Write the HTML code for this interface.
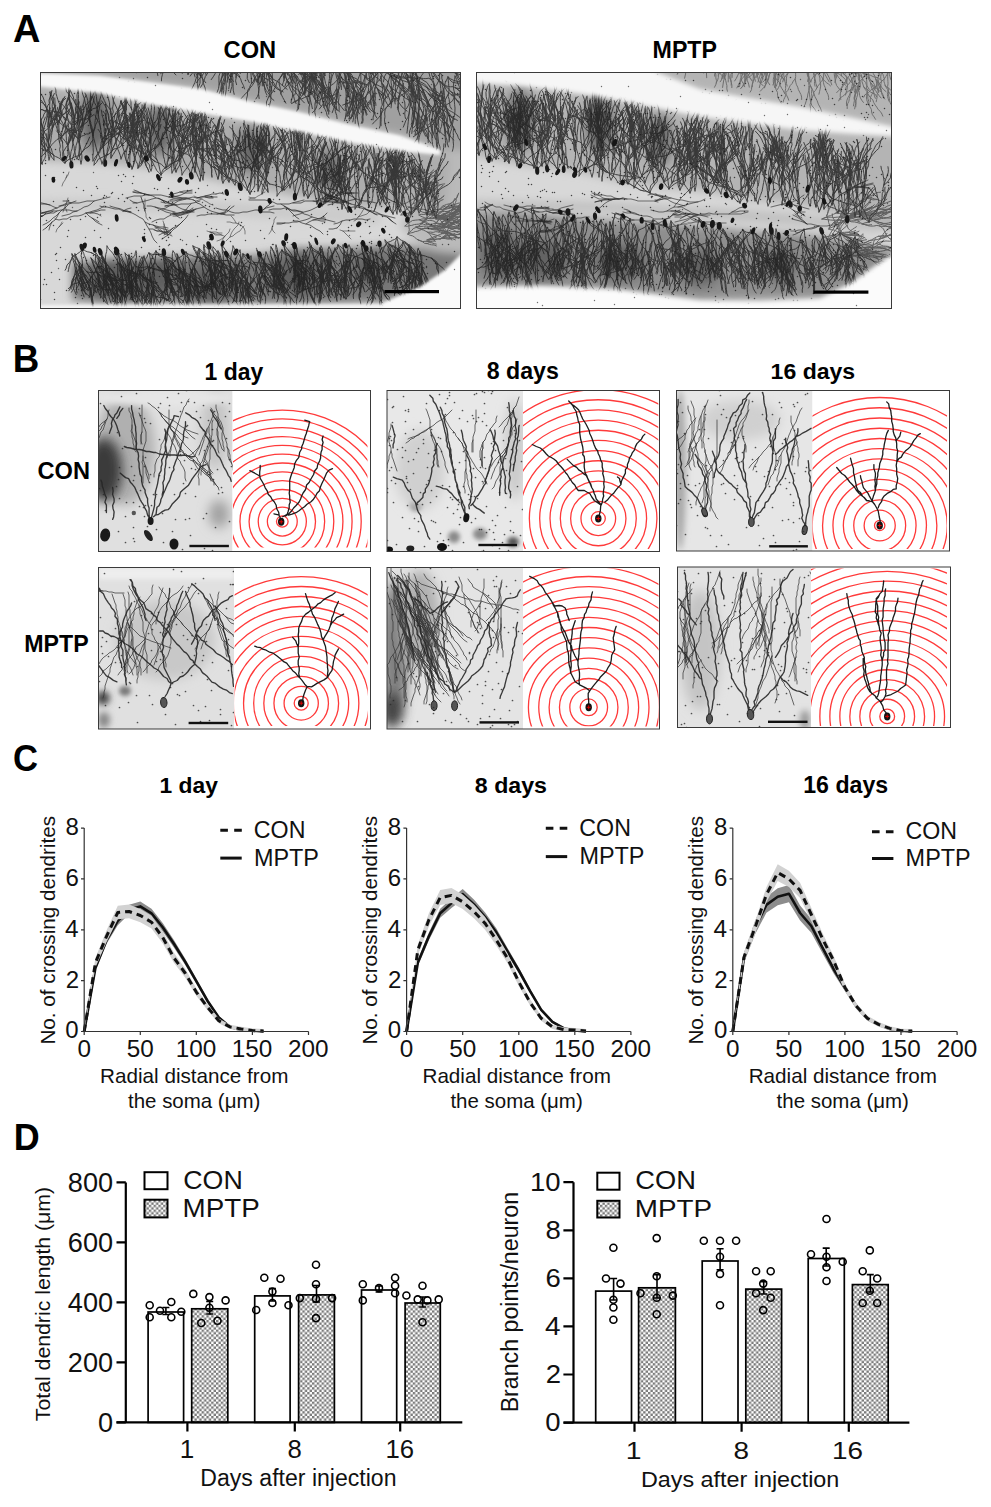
<!DOCTYPE html><html><head><meta charset="utf-8"><style>html,body{margin:0;padding:0;background:#fff;overflow:hidden}svg{display:block}</style></head><body><svg width="991" height="1507" viewBox="0 0 991 1507" font-family='"Liberation Sans", sans-serif'>
<rect width="991" height="1507" fill="#fff"/>
<defs><pattern id="chk" width="4.8" height="4.8" patternUnits="userSpaceOnUse"><rect width="4.8" height="4.8" fill="#fff"/><rect width="2.4" height="2.4" fill="#7a7a7a"/><rect x="2.4" y="2.4" width="2.4" height="2.4" fill="#7a7a7a"/></pattern></defs>
<text transform="translate(13.05,42.40) scale(0.9797,1)" font-size="38.70" font-weight="bold" fill="#000">A</text>
<text transform="translate(12.71,371.80) scale(0.9598,1)" font-size="38.26" font-weight="bold" fill="#000">B</text>
<text transform="translate(13.11,770.50) scale(0.9331,1)" font-size="37.14" font-weight="bold" fill="#000">C</text>
<text transform="translate(13.66,1150.00) scale(0.9537,1)" font-size="37.68" font-weight="bold" fill="#000">D</text>
<text transform="translate(223.55,57.80) scale(0.9812,1)" font-size="24.14" font-weight="bold" fill="#000">CON</text>
<text transform="translate(652.59,57.70) scale(0.9532,1)" font-size="24.35" font-weight="bold" fill="#000">MPTP</text>
<defs><filter id="bl4" x="-100%" y="-100%" width="300%" height="300%"><feGaussianBlur stdDeviation="4"/></filter></defs>
<defs><filter id="bl2" x="-100%" y="-100%" width="300%" height="300%"><feGaussianBlur stdDeviation="2"/></filter></defs>
<defs><filter id="bl6" x="-100%" y="-100%" width="300%" height="300%"><feGaussianBlur stdDeviation="6"/></filter></defs>
<defs><filter id="bl05" x="-100%" y="-100%" width="300%" height="300%"><feGaussianBlur stdDeviation="0.45"/></filter></defs>
<defs><filter id="bl15" x="-100%" y="-100%" width="300%" height="300%"><feGaussianBlur stdDeviation="1.5"/></filter></defs>
<defs><path id="nr0" vector-effect="non-scaling-stroke" d="M0 0l-2 -5l-2 -5l-2 -5l-2 -6l-1 -5l-2 -5l-2 -5M-13 -36l-4 -3l-4 -1l-4 -2l-4 0l-3 -2l-4 -3M-13 -36l-2 -5l-1 -6l-3 -4l-2 -6l-2 -4l-3 -5M0 0l1 -6l1 -5l0 -6l1 -6l1 -5M4 -28l-2 -5l-1 -6l-3 -5l-1 -5l-1 -6l0 -5M4 -28l1 -6l0 -6l0 -6l0 -6l0 -5M4 -28l3 -5l3 -4l3 -4l3 -4l3 -4M0 0l1 -6l-1 -6l-1 -5l-2 -5l-1 -6l-1 -5M-5 -33l-2 -5l-3 -5l-1 -5l-2 -5l-3 -5l-2 -5M-18 -63l-4 -2l-3 -2l-4 -4l-2 -4l-2 -5l-1 -6M-18 -63l-2 -5l0 -6l0 -6l-2 -5l-2 -5l-1 -5l-3 -5M-5 -33l-2 -6l0 -5l-1 -6l0 -6l0 -6M-8 -62l0 -6l1 -6l0 -5l2 -6l2 -5l1 -5M-8 -62l1 -6l1 -5l1 -6l1 -6l0 -5l1 -6M-5 -33l0 -6l-1 -6l-1 -6l-1 -5l-1 -6l0 -6M-9 -68l1 -5l2 -6l1 -5l1 -6l2 -5M-9 -68l1 -5l1 -6l1 -6l1 -5"/><path id="nr1" vector-effect="non-scaling-stroke" d="M0 0l-2 -4l-2 -3l-2 -3l-2 -4l0 -4l-1 -5M-9 -23l-2 -3l-2 -4l-1 -3l-2 -4l0 -4M-16 -41l-1 -4l-2 -4l-1 -4l-2 -3M-16 -41l1 -4l2 -4l0 -4l1 -4M-9 -23l0 -4l-1 -4l-1 -4l0 -4l1 -4l-1 -4l-1 -4M-12 -51l-3 -3l-1 -4l-1 -4l-2 -4l0 -4l-1 -4l-1 -4M-12 -51l0 -4l1 -4l0 -4l1 -4l2 -4l2 -3M-9 -23l0 -4l2 -4l1 -4l1 -4l-1 -4l1 -4l1 -4M-4 -51l2 -4l2 -3l0 -4l-1 -4l0 -4l1 -4l1 -4M-4 -51l3 -3l3 -2l3 -3l3 -2l4 -2l2 -4M0 0l0 -4l1 -4l0 -4l1 -4l1 -4M3 -20l1 -4l0 -4l0 -4l1 -4l1 -5l2 -3M3 -20l3 -3l3 -2l4 -2l3 -3l3 -3M0 0l2 -4l1 -4l0 -4l1 -4l0 -4l-1 -4l-1 -4M2 -28l-2 -4l-2 -3l-2 -3l-3 -3l-4 -3l-2 -2l-4 -3l-3 -2M-20 -51l-3 -3l-4 -2l-3 -2l-3 -3l-3 -2l-4 -2l-2 -4M-20 -51l-3 -3l-1 -4l-2 -4l-2 -3l-2 -4l-1 -4l0 -4M2 -28l-1 -4l0 -4l0 -4l0 -4l0 -4l-1 -5l1 -4l0 -4M1 -61l0 -4l0 -4l1 -4l0 -4l1 -4l2 -4l0 -4l1 -4l2 -3l2 -4M1 -61l2 -4l2 -3l3 -3l1 -4l2 -4l2 -3l2 -4l3 -3l2 -4l1 -3"/><path id="nr2" vector-effect="non-scaling-stroke" d="M0 0l-1 -5l-1 -5l0 -6l0 -5l0 -5l1 -5M-1 -31l0 -6l1 -5l2 -5l0 -5l0 -5l-2 -5l-3 -4M-3 -66l-3 -4l-2 -4l-3 -4l-3 -4l-3 -3l-1 -5l-1 -5l-2 -5M-3 -66l-3 -3l-2 -5l-1 -5l-2 -4l-2 -5l-3 -4l-3 -3l-3 -3M-3 -66l0 -5l0 -6l0 -5l0 -5l1 -5l1 -6M-1 -31l1 -5l2 -5l1 -5l1 -5l1 -5l2 -6M7 -62l-1 -5l-1 -5l-1 -5l-2 -5l-1 -5l-2 -4l-3 -4M7 -62l1 -4l2 -5l2 -5l2 -5l2 -4l3 -3M7 -62l4 -1l3 -2l4 -1l4 -3l3 -3M0 0l1 -5l0 -5l-1 -6l-1 -5l-1 -5M-2 -26l-1 -5l0 -6l0 -5l-1 -5M-4 -47l0 -5l0 -6l0 -5l1 -5l1 -5M-4 -47l0 -5l1 -6l1 -5l1 -5M-2 -26l0 -5l0 -6l0 -5l0 -5M-2 -47l-1 -6l0 -5l1 -5l-1 -5l0 -6M-2 -47l-1 -6l-1 -5l-2 -5l0 -5M-2 -47l1 -6l1 -5l-1 -5l1 -5"/><path id="nr3" vector-effect="non-scaling-stroke" d="M0 0l-2 -5l-2 -4l-3 -4l-2 -4l-2 -5l-1 -5M-12 -27l-2 -5l-1 -5l-2 -5l-3 -4l-2 -5l-1 -5M-23 -56l-3 -3l-3 -4l-2 -4l-1 -5l-2 -5l-1 -5M-23 -56l0 -5l1 -5l2 -5l2 -5l1 -5l1 -5l1 -5M-12 -27l-1 -5l-1 -5l-1 -6l-1 -5l1 -5l0 -6l1 -5M-14 -64l1 -5l0 -5l1 -5l1 -5l2 -5l0 -6l0 -5M-14 -64l2 -4l3 -4l2 -5l2 -5l1 -4l3 -5l2 -4M0 0l1 -5l2 -5l2 -5l1 -5l1 -5l1 -5l1 -5M9 -35l-1 -5l-2 -5l0 -6l-1 -5l-1 -5l-1 -5l-2 -5l-1 -5M9 -35l0 -5l1 -6l2 -5l1 -5l1 -5l-1 -5M9 -35l1 -5l1 -5l0 -6l1 -5l-2 -5l1 -5l-1 -5l0 -6l-2 -5"/><path id="nr4" vector-effect="non-scaling-stroke" d="M0 0l-1 -5l1 -4l0 -5l2 -4l0 -5M2 -23l0 -4l1 -5l1 -5l0 -4l1 -5M5 -46l0 -4l0 -5l0 -5l-1 -4l0 -5M5 -46l0 -4l1 -5l1 -4l1 -5l2 -4M5 -46l2 -3l3 -3l3 -4l4 -2l3 -3M2 -23l2 -4l2 -4l2 -4l2 -4M10 -39l2 -4l3 -4l3 -3l2 -4M10 -39l2 -4l3 -4l2 -4l2 -3l3 -4M0 0l2 -4l1 -5l3 -3l3 -3l3 -2l3 -4l2 -4M17 -25l0 -5l1 -4l0 -5l0 -5l2 -4l-1 -5l0 -4l1 -5M20 -62l1 -5l1 -4l3 -4l2 -4l1 -4l1 -5l1 -4l1 -5M20 -62l2 -4l3 -3l2 -4l1 -5l1 -4l1 -5l1 -4l1 -5l2 -4M17 -25l2 -4l4 -2l3 -3l2 -4l2 -4l2 -4l2 -4M34 -50l0 -5l1 -4l1 -5l0 -5l1 -4l1 -5l2 -4l1 -4M34 -50l3 -4l3 -3l3 -2l3 -3l4 -3l3 -2l2 -4"/><path id="nr5" vector-effect="non-scaling-stroke" d="M0 0l-2 -4l-1 -4l-1 -4l-1 -4l-2 -4M-7 -20l-2 -4l-1 -4l-2 -4l-2 -4l-2 -4M-16 -40l-2 -3l-3 -3l-2 -4l-3 -3M-16 -40l-2 -3l-2 -4l-1 -4l-1 -5M-7 -20l-1 -5l0 -4l0 -4l-1 -5l-1 -4M-10 -42l-1 -4l-1 -4l-1 -4l0 -5l1 -4l1 -4M-10 -42l-1 -4l-1 -4l0 -4l-1 -5M0 0l-2 -4l-2 -3l-3 -3l-2 -4l-3 -4l-1 -4M-13 -22l-2 -3l-2 -4l-1 -4l-1 -4l0 -5M-13 -22l0 -4l-1 -4l0 -5l-1 -4l0 -4l0 -5M0 0l0 -4l1 -5l1 -4l1 -4l1 -4l0 -5l0 -4M4 -30l-2 -4l-3 -3l-3 -2l-4 -2l-3 -3l-4 -1l-3 -2l-3 -2M-21 -49l-4 -3l-3 -3l-2 -3l-1 -4l0 -5l-1 -4l0 -4l1 -5l1 -4l1 -4M-21 -49l-3 -3l-4 -3l-3 -2l-3 -3l-2 -4l-3 -3l-3 -3l-3 -2l-3 -3M4 -30l1 -4l2 -4l2 -4l2 -4l3 -1l4 -3M18 -50l2 -3l2 -4l1 -4l0 -5l0 -4l-1 -4M18 -50l3 -3l2 -3l3 -4l2 -3l1 -4M4 -30l2 -4l2 -4l1 -4l-1 -4l0 -4l0 -5l0 -4l1 -4M9 -63l-1 -5l-1 -4l-2 -4l-1 -4l-2 -4l-2 -4l-1 -4l0 -4M9 -63l3 -3l2 -4l3 -3l2 -4l2 -4l3 -3l0 -4l2 -4l2 -4l1 -4M0 0l2 -4l3 -3l2 -4l0 -4l1 -5M8 -20l-2 -4l-1 -4l-1 -4l-1 -4M8 -20l0 -4l0 -4l0 -4l0 -5"/><path id="nr6" vector-effect="non-scaling-stroke" d="M0 0l-2 -5l-3 -4l-1 -5l-1 -6l0 -5M-7 -25l-2 -5l-2 -5l-2 -5l-2 -5l-2 -4l0 -6M-17 -55l-1 -5l-2 -5l-2 -5l-1 -5l-2 -5M-17 -55l0 -5l0 -6l-2 -5l-2 -4l-3 -5M-7 -25l0 -6l0 -5l0 -6l-1 -5l1 -6M-7 -53l1 -5l1 -5l1 -5l2 -5l2 -5M-7 -53l1 -5l1 -5l1 -5l2 -5l1 -6M0 0l1 -5l0 -6l1 -5l0 -6l1 -5l1 -6M4 -33l1 -5l1 -5l1 -6l1 -5l1 -6l0 -5M4 -33l0 -5l1 -6l0 -5l0 -6l0 -5l-1 -6M0 0l1 -5l1 -6l-1 -5l-1 -6l0 -5l-2 -5M-2 -32l-2 -5l-2 -5l-3 -4l-2 -4l-2 -5M-13 -55l-2 -5l-2 -5l-2 -4l-2 -5l-4 -3M-13 -55l0 -6l0 -5l-1 -6l-2 -5l-1 -5l-1 -5M-2 -32l0 -6l-1 -5l-2 -5l-2 -5l-2 -4l-1 -6M-10 -63l-2 -4l-3 -5l-2 -4l-2 -5l-4 -2M-10 -63l-1 -5l-1 -5l-2 -5l-1 -6l0 -5M-10 -63l0 -5l-2 -5l-1 -6l1 -5l1 -6l1 -5l1 -5"/><path id="nr7" vector-effect="non-scaling-stroke" d="M0 0l-3 -4l-1 -5l-1 -5l-2 -5l-3 -5l-1 -5M-11 -29l-3 -4l-3 -4l-2 -4l-1 -5l0 -6l0 -5M-11 -29l0 -5l0 -6l-1 -5l-1 -5l0 -6l-1 -5l0 -6M0 0l0 -5l0 -6l1 -5l0 -6l1 -5l0 -6M2 -33l0 -5l-1 -6l1 -5l0 -5l1 -6l1 -5M2 -33l1 -5l1 -5l0 -6l1 -5l1 -6l0 -5l0 -5M0 0l-1 -5l-2 -5l-2 -5l-2 -4l-3 -4l-3 -4l-2 -5M-15 -32l-3 -3l-2 -5l-1 -5l0 -6l-1 -5l0 -6M-22 -62l0 -5l-2 -5l-1 -5l-3 -5l-3 -4l-1 -5l-2 -5M-22 -62l1 -5l0 -6l0 -5l1 -6l0 -5l1 -6l0 -5M-15 -32l-2 -5l-2 -5l-2 -4l0 -6l-2 -5l-1 -5M-24 -62l-2 -5l-3 -4l-2 -4l-3 -4l-3 -4l-3 -3M-24 -62l-2 -5l-1 -5l-1 -5l-1 -6l0 -5l2 -5l1 -5M0 0l2 -5l3 -3l3 -4l3 -4l2 -4M13 -20l2 -5l1 -6l0 -5l0 -5l0 -6l0 -5M16 -52l-2 -5l-1 -6l-1 -5l0 -5l2 -6l2 -4M16 -52l1 -6l1 -5l2 -5l2 -5l2 -4M16 -52l2 -5l3 -3l3 -5l2 -4l0 -6M13 -20l3 -4l2 -4l3 -4l3 -4l4 -3l3 -3M31 -42l2 -5l1 -5l2 -5l2 -4l3 -4l1 -5M31 -42l2 -4l4 -3l3 -2l4 -1l4 -1M31 -42l3 -4l2 -4l3 -3l4 -3l3 -4l2 -4"/><path id="nr8" vector-effect="non-scaling-stroke" d="M0 0l-3 -3l-3 -2l-4 -1l-4 -2l-4 -1l-4 -1M-22 -10l-2 -3l-3 -3l-3 -3l-4 -2l-3 -3l-2 -4l-3 -3M-22 -10l-2 -3l-3 -4l-2 -3l-2 -4l-2 -3l-2 -4l-2 -4M0 0l-2 -4l-1 -4l-2 -4l0 -4l0 -4l-1 -5l-1 -4M-7 -29l-3 -3l-1 -4l-1 -4l-2 -4l-1 -4l-1 -4M-16 -52l-3 -4l-2 -3l-2 -3l-2 -4l-3 -3l-3 -3M-16 -52l-1 -4l0 -5l-1 -4l0 -4l-1 -4l0 -5M-7 -29l-2 -3l-2 -4l-2 -4l-3 -3l-3 -2l-4 -2l-2 -3M-25 -50l-4 -3l-3 -2l-3 -2l-2 -4l-2 -4l-1 -4M-25 -50l-2 -4l-1 -4l0 -5l-1 -4l-1 -4l-1 -4l0 -4M-25 -50l-2 -4l-2 -4l-3 -3l-1 -4l-2 -4l-3 -3l-3 -3M-7 -29l-1 -4l-2 -4l-1 -4l0 -4l0 -4l-2 -4l-2 -4M-15 -57l-4 -2l-3 -1l-4 -1l-4 0l-4 0l-4 -2l-4 -2l-3 -2M-15 -57l-1 -4l-1 -4l-2 -4l-2 -4l0 -4l0 -4l1 -5l0 -4M0 0l0 -4l1 -5l0 -4l1 -4l0 -4l0 -5l0 -4M2 -30l1 -4l0 -4l1 -4l2 -4l0 -5l0 -4l-1 -4l-1 -4M4 -63l-1 -4l-2 -4l-1 -4l-3 -4l-2 -3l-2 -4l-2 -4l-2 -4M4 -63l0 -5l-1 -4l-1 -4l-1 -4l0 -4l-2 -4l-1 -4M2 -30l2 -4l2 -4l1 -4l1 -4l1 -4l1 -4l1 -4l1 -4M12 -62l-2 -4l-1 -4l-3 -3l-2 -4l-1 -4l-1 -4l-2 -4l-3 -3l-2 -3M12 -62l1 -4l1 -5l0 -4l0 -4l0 -5l-1 -4l-1 -4l0 -4l-2 -4M12 -62l3 -3l3 -3l2 -4l1 -4l1 -4l2 -4l3 -3l3 -2M0 0l3 -2l3 -4l3 -2l4 -2l3 -2M16 -12l3 -3l3 -3l4 -2l2 -4M28 -24l0 -4l2 -4l3 -3l2 -3M28 -24l3 -3l2 -3l2 -4l3 -3M16 -12l3 -3l3 -3l1 -4l2 -4M25 -26l-1 -5l0 -4l0 -4l0 -4M25 -26l2 -4l1 -4l1 -4"/><path id="nr9" vector-effect="non-scaling-stroke" d="M0 0l0 -5l1 -6l-1 -5l-1 -5l-1 -5l0 -5M-2 -31l-1 -5l0 -6l0 -5l2 -5l1 -5M0 -57l1 -5l1 -5l1 -5l-1 -6l-1 -5M0 -57l4 -3l2 -4l2 -5l2 -5l2 -4M-2 -31l0 -6l0 -5l1 -5l-1 -6l-1 -5l-1 -5M-4 -63l-3 -4l-2 -4l-2 -4l-1 -6l0 -5M-4 -63l1 -5l-1 -5l1 -6l-1 -5l0 -5l0 -6l0 -5M-4 -63l-1 -5l-1 -5l0 -6l1 -5l-1 -5l0 -5l0 -6M-2 -31l3 -4l2 -4l3 -4l2 -4l2 -5l1 -5l3 -4M14 -61l2 -5l2 -5l2 -4l1 -5l1 -5l2 -5M14 -61l3 -3l4 -3l2 -5l2 -4l3 -4l2 -5M0 0l0 -5l1 -6l0 -5l1 -5l1 -5l0 -5M3 -31l-3 -5l-1 -5l-1 -5l0 -6l0 -5l0 -5M-2 -62l-2 -5l-1 -5l-2 -5l-1 -5l-1 -5l0 -5l0 -6M-2 -62l1 -5l0 -6l0 -5l-1 -5l0 -6l1 -5M-2 -62l0 -6l1 -5l1 -5l1 -5l0 -5l1 -5M3 -31l-1 -6l-1 -5l-2 -5l-1 -5l-2 -4l-4 -3l-2 -4M-10 -63l-4 -2l-4 -1l-4 -2l-3 -3l-2 -4l-3 -4l-2 -4M-10 -63l-3 -4l-2 -4l-1 -6l-1 -5l-1 -5l-2 -5"/><path id="nr10" vector-effect="non-scaling-stroke" d="M0 0l-2 -5l-3 -5l-2 -5l-1 -6l0 -6l-2 -5M-10 -32l-4 -4l-3 -2l-4 -1l-4 -1l-4 -1l-4 -2l-4 -3M-37 -46l-3 -3l-4 -2l-3 -3l-4 -3l-2 -5l-3 -4l-2 -5l-1 -6M-37 -46l-2 -4l-4 -3l-4 -2l-3 -3l-4 -1l-4 -2l-4 -2M-10 -32l-2 -6l-1 -5l-1 -6l-2 -6l-2 -5l-3 -4M-21 -64l-3 -4l-3 -4l-3 -3l-4 -4l-2 -5M-21 -64l-2 -5l-3 -5l-2 -5l-3 -4l-3 -5l-2 -5l-2 -5M0 0l1 -6l0 -6l1 -6l1 -6l1 -6l1 -6M5 -36l-1 -6l-1 -5l-2 -6l-1 -6l1 -6M1 -65l-1 -6l0 -6l1 -6l-1 -6l0 -6M1 -65l1 -5l1 -6l2 -6l1 -5l2 -6l2 -5M1 -65l2 -5l2 -5l3 -4l2 -5l4 -3M5 -36l2 -5l2 -5l2 -6l1 -6l0 -6M12 -64l-1 -6l-1 -5l-1 -6l0 -6M12 -64l1 -6l0 -6l1 -6l0 -6l1 -6l0 -6M12 -64l2 -5l2 -6l1 -5l2 -5l3 -5"/><path id="nr11" vector-effect="non-scaling-stroke" d="M0 0l-1 -5l-1 -5l-1 -5l0 -5l-1 -5l-1 -5M-5 -30l-1 -5l-1 -5l0 -5l-1 -5l-1 -5l1 -5l2 -4M-6 -64l2 -5l0 -5l1 -5l3 -4l1 -5l1 -5M-6 -64l2 -5l1 -5l1 -5l1 -5l2 -4l2 -4l3 -4l3 -4M-5 -30l1 -5l0 -5l0 -5l0 -5l1 -5M-3 -55l1 -5l1 -5l1 -5l1 -5l0 -5M-3 -55l2 -5l1 -5l0 -5l1 -5l2 -4l3 -4M0 0l0 -5l1 -5l1 -5l1 -5l1 -5M4 -25l-2 -5l-1 -5l-1 -5l1 -5l0 -5l0 -5M4 -25l0 -5l1 -5l1 -5l2 -4l2 -5l3 -4M4 -25l0 -5l2 -5l2 -4l1 -5M0 0l1 -5l1 -5l1 -5l0 -5l1 -5l-1 -5M3 -30l-2 -4l-3 -4l-3 -3l-4 -2l-3 -3l-3 -3M-15 -49l-3 -3l-3 -4l-2 -5l-2 -4l-2 -4l-3 -4l-3 -3M-15 -49l-2 -5l-2 -4l-2 -5l-1 -5l0 -5l1 -5l1 -5l1 -5M3 -30l-1 -5l0 -5l0 -5l1 -5l0 -5l1 -5M4 -60l-1 -5l-1 -5l0 -5l-1 -6l1 -4M4 -60l1 -5l0 -5l2 -5l1 -5l1 -5M3 -30l1 -5l2 -5l1 -5l1 -4l1 -5M9 -54l1 -5l1 -5l1 -5l1 -5l1 -5l1 -5M9 -54l1 -5l2 -5l3 -4l2 -4l2 -4"/><path id="nr12" vector-effect="non-scaling-stroke" d="M0 0l-2 -4l-1 -4l-1 -4l-1 -4l1 -5l1 -4l1 -4M-2 -29l0 -4l1 -4l1 -4l1 -4l2 -4l1 -4l0 -5M4 -58l0 -4l0 -4l1 -4l1 -4l0 -5l1 -4l0 -4M4 -58l1 -4l2 -4l2 -3l1 -4l0 -5l-1 -4l-2 -4l-1 -4l-2 -4M4 -58l3 -3l2 -4l2 -3l2 -4l3 -3l2 -4M-2 -29l3 -3l2 -3l3 -4l3 -2l3 -3l3 -2l2 -4l2 -4l2 -4M21 -58l1 -4l-1 -4l0 -4l-2 -4l-2 -4l-2 -4l-2 -3M21 -58l2 -3l2 -4l1 -4l1 -5l1 -4l2 -4l1 -4l1 -4l0 -4M-2 -29l3 -3l3 -3l3 -2l3 -3l3 -3l3 -3l3 -3l3 -3M22 -52l2 -4l1 -4l0 -4l1 -4l0 -4l0 -5l0 -4l0 -4M22 -52l3 -2l3 -3l3 -3l3 -3l3 -3l3 -2l4 -2l4 0M0 0l2 -4l0 -4l1 -4l0 -5l1 -4l1 -4l0 -4M5 -29l-1 -4l0 -5l0 -4l1 -4l2 -4l2 -3l4 -3l2 -3l3 -3M18 -62l1 -5l0 -4l0 -4l2 -4l1 -4l1 -4l1 -4l0 -5l1 -4M18 -62l3 -3l4 -1l4 -1l4 -1l4 -1l4 1l3 -2l4 -1l4 -1M5 -29l3 -4l2 -3l1 -4l1 -4l1 -5l0 -4M13 -53l-1 -4l-2 -4l-2 -3l-1 -4l-3 -4l0 -4M13 -53l2 -4l2 -4l1 -4l1 -4l1 -4l-1 -4"/><path id="nr13" vector-effect="non-scaling-stroke" d="M0 0l-2 -3l-3 -3l-4 -3l-3 -2l-2 -4l-3 -3l-2 -3M-19 -21l-2 -4l-3 -3l-2 -4l-3 -2l-3 -3l-3 -3M-35 -40l-3 -3l-2 -3l-2 -4l-1 -4l-2 -4l-2 -4l-3 -3M-35 -40l-3 -3l-2 -3l-3 -4l-2 -3l-3 -3l-3 -3l-3 -3M-19 -21l-2 -4l-1 -4l-1 -5l-2 -3l0 -4l-2 -4M-27 -45l-4 -2l-3 -3l-3 -3l-1 -4l-2 -4l-1 -4M-27 -45l-2 -4l-2 -4l-2 -3l-2 -4l-1 -4l0 -4M-27 -45l-1 -4l0 -5l0 -4l0 -4l1 -4l0 -4M0 0l-1 -4l-2 -4l-3 -2l-4 -2l-3 -3M-13 -15l-4 -2l-3 -2l-3 -3l-2 -4M-25 -26l-2 -3l-2 -4l-2 -4l-2 -4M-25 -26l-1 -4l-1 -4l0 -4l-1 -4M-13 -15l-2 -3l-2 -4l0 -5l1 -4M-16 -31l0 -4l1 -4l0 -4l1 -4M-16 -31l3 -3l2 -3l2 -4l2 -3M0 0l1 -4l1 -4l1 -4l1 -4l2 -4M6 -20l2 -4l0 -4l1 -4l1 -5l-1 -4M6 -20l3 -3l3 -3l3 -3l3 -2M0 0l3 -3l3 -3l2 -4l2 -3l2 -4l2 -4l1 -3M15 -24l1 -5l0 -4l-1 -4l0 -4l0 -4l0 -5l1 -4l0 -4l-1 -4M15 -62l-1 -4l0 -5l-1 -4l0 -4l-1 -4l0 -4l0 -5l1 -4l1 -4M15 -62l0 -4l2 -4l1 -4l2 -4l1 -4l1 -4l2 -4l2 -3M15 -24l2 -4l1 -4l2 -4l1 -4l1 -4l1 -5l0 -4M23 -53l-1 -4l0 -4l0 -4l2 -4l0 -5l1 -4M23 -53l1 -4l2 -4l1 -4l1 -4l1 -4l1 -4l1 -4l2 -4M23 -53l2 -4l0 -4l1 -4l1 -4l1 -4l0 -4l1 -5l0 -4M15 -24l4 -2l4 -2l3 -1l4 -2l4 -2l3 -2l4 -2l3 -2M44 -39l2 -4l2 -4l3 -3l3 -2l2 -4l3 -3l2 -3l2 -4l1 -4M44 -39l2 -4l3 -3l1 -4l0 -4l-1 -5l1 -4l1 -4M44 -39l3 -3l3 -3l2 -4l0 -4l0 -4l-1 -4l0 -4l-1 -5l-1 -4"/></defs>
<defs><clipPath id="clA1"><rect x="40.5" y="72.5" width="420.0" height="236.0"/></clipPath></defs>
<g clip-path="url(#clA1)">
<rect x="40.5" y="72.5" width="420.0" height="236.0" fill="#d8d8d8"/>
<g filter="url(#bl4)">
<polygon points="30.0,60.0 475.0,60.0 475.0,160.0 440.0,150.0 400.0,135.7 350.0,125.0 300.0,112.4 250.0,101.7 200.0,89.0 150.0,82.6 100.0,76.0 30.0,73.0" fill="#a0a0a0" />
<polygon points="415.0,150.0 470.0,150.0 470.0,262.0 430.0,256.0 400.0,226.0 415.0,200.0" fill="#bababa" />
<polygon points="30.0,85.0 100.0,93.0 150.0,104.0 200.0,112.4 250.0,121.0 300.0,131.5 350.0,142.0 400.0,150.6 440.0,155.0 450.0,158.0 445.0,214.0 400.0,209.0 340.0,205.0 300.0,197.0 250.0,188.0 200.0,177.0 150.0,168.0 100.0,163.0 30.0,160.0" fill="#adadad" />
<polygon points="30.0,200.0 150.0,198.0 300.0,206.0 380.0,212.0 380.0,224.0 300.0,220.0 150.0,212.0 30.0,210.0" fill="#cacaca" />
<polygon points="72.0,262.0 150.0,260.0 200.0,255.0 250.0,256.0 300.0,248.0 350.0,248.0 400.0,244.0 440.0,252.0 470.0,255.0 470.0,268.0 420.0,290.0 383.0,302.0 300.0,304.0 200.0,304.0 100.0,302.0 72.0,300.0" fill="#787878" />
</g>
<g fill="#5a5a5a" filter="url(#bl6)" opacity="0.85"><ellipse cx="95" cy="120" rx="14" ry="30"/><ellipse cx="160" cy="130" rx="12" ry="25"/><ellipse cx="250" cy="150" rx="12" ry="22"/><ellipse cx="330" cy="170" rx="10" ry="20"/><ellipse cx="120" cy="280" rx="35" ry="20"/><ellipse cx="210" cy="285" rx="25" ry="18"/><ellipse cx="300" cy="275" rx="22" ry="20"/><ellipse cx="370" cy="270" rx="14" ry="14"/><ellipse cx="160" cy="275" rx="20" ry="16"/></g>
<g filter="url(#bl05)">
<g fill="none" stroke="#1e1e1e" stroke-width="0.95" opacity="0.8" stroke-linecap="round" stroke-linejoin="round"><use href="#nr7" transform="translate(36 163) rotate(8) scale(0.72 0.72)"/><use href="#nr5" transform="translate(42 164) rotate(-9) scale(0.70 0.70)"/><use href="#nr2" transform="translate(49 160) rotate(3) scale(0.71 0.71)"/><use href="#nr4" transform="translate(54 160) rotate(-13) scale(-0.83 0.83)"/><use href="#nr4" transform="translate(62 160) rotate(-13) scale(0.77 0.77)"/><use href="#nr8" transform="translate(65 163) rotate(-3) scale(-0.70 0.70)"/><use href="#nr0" transform="translate(71 163) rotate(-3) scale(-0.67 0.67)"/><use href="#nr12" transform="translate(77 159) rotate(-3) scale(-0.73 0.73)"/><use href="#nr2" transform="translate(81 164) rotate(0) scale(0.85 0.85)"/><use href="#nr10" transform="translate(93 161) rotate(7) scale(-0.74 0.74)"/><use href="#nr4" transform="translate(94 165) rotate(18) scale(0.74 0.74)"/><use href="#nr3" transform="translate(102 164) rotate(-3) scale(-0.82 0.82)"/><use href="#nr11" transform="translate(105 162) rotate(2) scale(-0.61 0.61)"/><use href="#nr0" transform="translate(111 158) rotate(10) scale(-0.74 0.74)"/><use href="#nr3" transform="translate(121 159) rotate(-0) scale(-0.77 0.77)"/><use href="#nr0" transform="translate(127 163) rotate(-7) scale(-0.65 0.65)"/><use href="#nr6" transform="translate(132 169) rotate(10) scale(0.63 0.63)"/><use href="#nr7" transform="translate(138 168) rotate(16) scale(-0.72 0.72)"/><use href="#nr3" transform="translate(142 163) rotate(-3) scale(-0.60 0.60)"/><use href="#nr9" transform="translate(149 172) rotate(-20) scale(-0.60 0.60)"/><use href="#nr4" transform="translate(151 171) rotate(5) scale(-0.65 0.65)"/><use href="#nr13" transform="translate(161 175) rotate(2) scale(-0.74 0.74)"/><use href="#nr8" transform="translate(166 168) rotate(-6) scale(-0.67 0.67)"/><use href="#nr10" transform="translate(172 173) rotate(4) scale(-0.74 0.74)"/><use href="#nr1" transform="translate(176 172) rotate(-3) scale(-0.68 0.68)"/><use href="#nr3" transform="translate(182 175) rotate(17) scale(0.66 0.66)"/><use href="#nr3" transform="translate(191 174) rotate(-11) scale(-0.77 0.77)"/><use href="#nr11" transform="translate(195 172) rotate(-3) scale(0.69 0.69)"/><use href="#nr0" transform="translate(200 181) rotate(-2) scale(0.70 0.70)"/><use href="#nr2" transform="translate(203 180) rotate(-4) scale(-0.61 0.61)"/><use href="#nr9" transform="translate(212 177) rotate(-7) scale(0.65 0.65)"/><use href="#nr0" transform="translate(218 179) rotate(4) scale(0.66 0.66)"/><use href="#nr1" transform="translate(223 183) rotate(4) scale(-0.60 0.60)"/><use href="#nr1" transform="translate(229 182) rotate(-10) scale(-0.63 0.63)"/><use href="#nr12" transform="translate(235 185) rotate(-11) scale(-0.60 0.60)"/><use href="#nr13" transform="translate(240 185) rotate(-15) scale(0.60 0.60)"/><use href="#nr9" transform="translate(247 190) rotate(18) scale(0.75 0.75)"/><use href="#nr5" transform="translate(250 194) rotate(-4) scale(0.77 0.77)"/><use href="#nr11" transform="translate(258 191) rotate(9) scale(-0.75 0.75)"/><use href="#nr2" transform="translate(262 194) rotate(11) scale(-0.66 0.66)"/><use href="#nr0" transform="translate(268 192) rotate(-15) scale(0.73 0.73)"/><use href="#nr3" transform="translate(277 196) rotate(14) scale(-0.70 0.70)"/><use href="#nr4" transform="translate(282 191) rotate(1) scale(0.65 0.65)"/><use href="#nr8" transform="translate(284 190) rotate(-2) scale(0.66 0.66)"/><use href="#nr10" transform="translate(290 188) rotate(8) scale(0.70 0.70)"/><use href="#nr0" transform="translate(296 198) rotate(-3) scale(-0.77 0.77)"/><use href="#nr10" transform="translate(304 196) rotate(-3) scale(-0.75 0.75)"/><use href="#nr5" transform="translate(308 198) rotate(4) scale(-0.74 0.74)"/><use href="#nr0" transform="translate(317 204) rotate(10) scale(0.65 0.65)"/><use href="#nr3" transform="translate(322 206) rotate(1) scale(-0.74 0.74)"/><use href="#nr5" transform="translate(325 202) rotate(10) scale(-0.68 0.68)"/><use href="#nr5" transform="translate(331 199) rotate(-3) scale(-0.74 0.74)"/><use href="#nr13" transform="translate(337 202) rotate(-13) scale(0.75 0.75)"/><use href="#nr11" transform="translate(342 209) rotate(4) scale(0.64 0.64)"/><use href="#nr0" transform="translate(348 212) rotate(-6) scale(0.60 0.60)"/><use href="#nr10" transform="translate(355 209) rotate(11) scale(-0.63 0.63)"/><use href="#nr7" transform="translate(359 206) rotate(2) scale(-0.64 0.64)"/><use href="#nr6" transform="translate(369 207) rotate(-1) scale(-0.60 0.60)"/><use href="#nr9" transform="translate(374 211) rotate(24) scale(-0.64 0.64)"/><use href="#nr10" transform="translate(380 205) rotate(10) scale(0.69 0.69)"/><use href="#nr12" transform="translate(386 204) rotate(-3) scale(0.60 0.60)"/><use href="#nr5" transform="translate(393 214) rotate(-5) scale(0.65 0.65)"/><use href="#nr2" transform="translate(397 214) rotate(-6) scale(-0.64 0.64)"/><use href="#nr0" transform="translate(400 212) rotate(-11) scale(-0.58 0.58)"/><use href="#nr13" transform="translate(407 218) rotate(1) scale(-0.57 0.57)"/><use href="#nr6" transform="translate(411 214) rotate(-8) scale(0.69 0.69)"/><use href="#nr12" transform="translate(419 213) rotate(6) scale(-0.56 0.56)"/><use href="#nr0" transform="translate(427 215) rotate(7) scale(0.64 0.64)"/><use href="#nr1" transform="translate(432 213) rotate(5) scale(0.55 0.55)"/><use href="#nr10" transform="translate(436 218) rotate(-15) scale(-0.71 0.71)"/></g>
<g fill="none" stroke="#1c1c1c" stroke-width="0.95" opacity="0.82" stroke-linecap="round" stroke-linejoin="round"><use href="#nr0" transform="translate(72 254) rotate(160) scale(0.60 0.60)"/><use href="#nr11" transform="translate(75 254) rotate(166) scale(-0.45 0.45)"/><use href="#nr8" transform="translate(82 249) rotate(165) scale(-0.52 0.52)"/><use href="#nr11" transform="translate(91 258) rotate(150) scale(0.58 0.58)"/><use href="#nr12" transform="translate(96 253) rotate(167) scale(-0.47 0.47)"/><use href="#nr2" transform="translate(101 253) rotate(163) scale(0.49 0.49)"/><use href="#nr7" transform="translate(102 256) rotate(171) scale(0.46 0.46)"/><use href="#nr3" transform="translate(107 246) rotate(160) scale(-0.58 0.58)"/><use href="#nr10" transform="translate(117 254) rotate(170) scale(0.56 0.56)"/><use href="#nr11" transform="translate(118 251) rotate(161) scale(0.50 0.50)"/><use href="#nr10" transform="translate(125 253) rotate(158) scale(0.51 0.51)"/><use href="#nr11" transform="translate(129 255) rotate(176) scale(-0.50 0.50)"/><use href="#nr4" transform="translate(136 251) rotate(175) scale(0.45 0.45)"/><use href="#nr12" transform="translate(142 257) rotate(184) scale(-0.57 0.57)"/><use href="#nr3" transform="translate(144 256) rotate(178) scale(-0.61 0.61)"/><use href="#nr8" transform="translate(149 253) rotate(161) scale(0.54 0.54)"/><use href="#nr13" transform="translate(156 251) rotate(171) scale(0.59 0.59)"/><use href="#nr2" transform="translate(163 252) rotate(169) scale(0.61 0.61)"/><use href="#nr2" transform="translate(164 254) rotate(173) scale(-0.49 0.49)"/><use href="#nr12" transform="translate(173 251) rotate(167) scale(-0.61 0.61)"/><use href="#nr11" transform="translate(177 254) rotate(164) scale(0.50 0.50)"/><use href="#nr3" transform="translate(184 253) rotate(159) scale(-0.49 0.49)"/><use href="#nr8" transform="translate(186 252) rotate(179) scale(0.58 0.58)"/><use href="#nr1" transform="translate(193 246) rotate(144) scale(0.49 0.49)"/><use href="#nr7" transform="translate(199 249) rotate(173) scale(-0.61 0.61)"/><use href="#nr1" transform="translate(204 245) rotate(166) scale(0.45 0.45)"/><use href="#nr3" transform="translate(209 247) rotate(164) scale(0.52 0.52)"/><use href="#nr12" transform="translate(213 247) rotate(161) scale(0.56 0.56)"/><use href="#nr1" transform="translate(218 251) rotate(172) scale(-0.59 0.59)"/><use href="#nr0" transform="translate(222 245) rotate(167) scale(0.61 0.61)"/><use href="#nr6" transform="translate(227 256) rotate(159) scale(0.58 0.58)"/><use href="#nr3" transform="translate(233 246) rotate(173) scale(0.59 0.59)"/><use href="#nr10" transform="translate(240 250) rotate(180) scale(-0.62 0.62)"/><use href="#nr13" transform="translate(243 254) rotate(160) scale(-0.48 0.48)"/><use href="#nr4" transform="translate(251 256) rotate(183) scale(0.48 0.48)"/><use href="#nr11" transform="translate(257 250) rotate(158) scale(-0.50 0.50)"/><use href="#nr7" transform="translate(260 256) rotate(163) scale(0.57 0.57)"/><use href="#nr10" transform="translate(266 252) rotate(165) scale(-0.50 0.50)"/><use href="#nr6" transform="translate(271 247) rotate(159) scale(-0.47 0.47)"/><use href="#nr2" transform="translate(276 245) rotate(174) scale(0.45 0.45)"/><use href="#nr13" transform="translate(282 250) rotate(170) scale(0.54 0.54)"/><use href="#nr0" transform="translate(284 245) rotate(162) scale(0.49 0.49)"/><use href="#nr11" transform="translate(294 244) rotate(167) scale(0.49 0.49)"/><use href="#nr2" transform="translate(297 248) rotate(182) scale(-0.46 0.46)"/><use href="#nr0" transform="translate(304 250) rotate(166) scale(-0.60 0.60)"/><use href="#nr2" transform="translate(309 242) rotate(158) scale(-0.61 0.61)"/><use href="#nr13" transform="translate(311 246) rotate(176) scale(0.59 0.59)"/><use href="#nr7" transform="translate(320 248) rotate(173) scale(0.55 0.55)"/><use href="#nr4" transform="translate(321 246) rotate(162) scale(0.52 0.52)"/><use href="#nr12" transform="translate(329 247) rotate(176) scale(0.58 0.58)"/><use href="#nr3" transform="translate(335 248) rotate(173) scale(-0.52 0.52)"/><use href="#nr13" transform="translate(338 245) rotate(168) scale(-0.47 0.47)"/><use href="#nr9" transform="translate(343 245) rotate(174) scale(-0.54 0.54)"/><use href="#nr12" transform="translate(349 245) rotate(181) scale(0.53 0.53)"/><use href="#nr5" transform="translate(352 249) rotate(171) scale(-0.53 0.53)"/><use href="#nr11" transform="translate(361 243) rotate(160) scale(0.48 0.48)"/><use href="#nr8" transform="translate(366 250) rotate(173) scale(-0.59 0.59)"/><use href="#nr11" transform="translate(371 247) rotate(176) scale(-0.50 0.50)"/><use href="#nr2" transform="translate(376 252) rotate(175) scale(0.54 0.54)"/><use href="#nr4" transform="translate(380 245) rotate(177) scale(-0.51 0.51)"/><use href="#nr4" transform="translate(385 240) rotate(159) scale(-0.51 0.51)"/><use href="#nr5" transform="translate(389 244) rotate(157) scale(0.48 0.48)"/><use href="#nr8" transform="translate(397 237) rotate(175) scale(-0.47 0.47)"/><use href="#nr13" transform="translate(403 242) rotate(168) scale(-0.56 0.56)"/><use href="#nr3" transform="translate(409 245) rotate(173) scale(-0.59 0.59)"/><use href="#nr2" transform="translate(410 247) rotate(179) scale(-0.48 0.48)"/><use href="#nr12" transform="translate(418 249) rotate(169) scale(0.48 0.48)"/><use href="#nr10" transform="translate(420 252) rotate(179) scale(-0.47 0.47)"/></g>
<g fill="none" stroke="#222" stroke-width="0.95" opacity="0.8" stroke-linecap="round" stroke-linejoin="round"><use href="#nr7" transform="translate(136 2) rotate(167) scale(0.70 0.70)"/><use href="#nr6" transform="translate(141 6) rotate(148) scale(-0.77 0.77)"/><use href="#nr1" transform="translate(149 6) rotate(165) scale(-0.63 0.63)"/><use href="#nr10" transform="translate(155 9) rotate(169) scale(0.66 0.66)"/><use href="#nr4" transform="translate(160 8) rotate(169) scale(-0.72 0.72)"/><use href="#nr5" transform="translate(167 5) rotate(168) scale(0.73 0.73)"/><use href="#nr6" transform="translate(177 11) rotate(153) scale(-0.77 0.77)"/><use href="#nr5" transform="translate(186 17) rotate(177) scale(-0.59 0.59)"/><use href="#nr6" transform="translate(187 11) rotate(163) scale(-0.65 0.65)"/><use href="#nr12" transform="translate(196 9) rotate(168) scale(-0.62 0.62)"/><use href="#nr7" transform="translate(208 18) rotate(169) scale(-0.81 0.81)"/><use href="#nr4" transform="translate(213 14) rotate(165) scale(-0.79 0.79)"/><use href="#nr1" transform="translate(219 15) rotate(166) scale(0.78 0.78)"/><use href="#nr3" transform="translate(225 19) rotate(183) scale(0.63 0.63)"/><use href="#nr9" transform="translate(230 21) rotate(189) scale(0.78 0.78)"/><use href="#nr7" transform="translate(242 22) rotate(154) scale(0.77 0.77)"/><use href="#nr8" transform="translate(249 25) rotate(156) scale(0.79 0.79)"/><use href="#nr13" transform="translate(257 36) rotate(186) scale(-0.62 0.62)"/><use href="#nr6" transform="translate(263 29) rotate(169) scale(-0.64 0.64)"/><use href="#nr10" transform="translate(268 34) rotate(158) scale(-0.79 0.79)"/><use href="#nr2" transform="translate(277 28) rotate(153) scale(0.77 0.77)"/><use href="#nr12" transform="translate(282 27) rotate(152) scale(-0.61 0.61)"/><use href="#nr5" transform="translate(290 31) rotate(165) scale(-0.78 0.78)"/><use href="#nr0" transform="translate(293 36) rotate(170) scale(0.62 0.62)"/><use href="#nr2" transform="translate(303 35) rotate(168) scale(0.67 0.67)"/><use href="#nr4" transform="translate(311 43) rotate(173) scale(0.66 0.66)"/><use href="#nr12" transform="translate(317 43) rotate(167) scale(0.74 0.74)"/><use href="#nr8" transform="translate(322 41) rotate(169) scale(0.77 0.77)"/><use href="#nr7" transform="translate(331 47) rotate(178) scale(0.64 0.64)"/><use href="#nr10" transform="translate(338 44) rotate(179) scale(0.70 0.70)"/><use href="#nr8" transform="translate(344 47) rotate(173) scale(-0.78 0.78)"/><use href="#nr13" transform="translate(351 53) rotate(144) scale(-0.80 0.80)"/><use href="#nr10" transform="translate(359 53) rotate(142) scale(0.61 0.61)"/><use href="#nr6" transform="translate(366 52) rotate(179) scale(-0.80 0.80)"/><use href="#nr12" transform="translate(375 53) rotate(176) scale(0.69 0.69)"/><use href="#nr1" transform="translate(382 56) rotate(147) scale(0.68 0.68)"/><use href="#nr4" transform="translate(389 58) rotate(169) scale(0.67 0.67)"/><use href="#nr6" transform="translate(397 60) rotate(146) scale(0.72 0.72)"/><use href="#nr5" transform="translate(404 64) rotate(175) scale(-0.76 0.76)"/><use href="#nr11" transform="translate(413 66) rotate(175) scale(0.79 0.79)"/><use href="#nr6" transform="translate(414 69) rotate(165) scale(-0.68 0.68)"/><use href="#nr8" transform="translate(426 66) rotate(153) scale(0.66 0.66)"/><use href="#nr12" transform="translate(432 71) rotate(160) scale(0.77 0.77)"/><use href="#nr4" transform="translate(440 72) rotate(164) scale(0.75 0.75)"/><use href="#nr13" transform="translate(448 77) rotate(161) scale(0.77 0.77)"/><use href="#nr10" transform="translate(455 76) rotate(164) scale(-0.63 0.63)"/><use href="#nr1" transform="translate(456 73) rotate(142) scale(0.66 0.66)"/><use href="#nr4" transform="translate(464 80) rotate(172) scale(-0.66 0.66)"/></g>
<g fill="none" stroke="#383838" stroke-width="1.0" opacity="0.7" stroke-linecap="round" stroke-linejoin="round"><use href="#nr12" transform="translate(401 215) rotate(57) scale(-0.57 0.57)"/><use href="#nr9" transform="translate(408 207) rotate(105) scale(-0.59 0.59)"/><use href="#nr8" transform="translate(408 234) rotate(67) scale(0.58 0.58)"/><use href="#nr11" transform="translate(427 240) rotate(76) scale(0.52 0.52)"/><use href="#nr0" transform="translate(436 219) rotate(80) scale(0.47 0.47)"/><use href="#nr3" transform="translate(399 206) rotate(49) scale(0.50 0.50)"/><use href="#nr12" transform="translate(405 226) rotate(71) scale(0.55 0.55)"/><use href="#nr2" transform="translate(439 232) rotate(42) scale(0.52 0.52)"/><use href="#nr0" transform="translate(416 227) rotate(106) scale(0.46 0.46)"/><use href="#nr12" transform="translate(419 215) rotate(97) scale(-0.51 0.51)"/></g>
<path d="M335 222l-4 -1l-4 -1l-4 -1l-4 0l-3 -1l-4 -1l-4 -2l-4 -1l-3 -2l-4 -1l-4 0l-4 -2l-4 -1l-4 1l-4 0l-4 0l-4 1M312 217l-4 2l-3 1l-4 1l-4 1l-4 0l-4 1l-4 0l-4 0l-4 0M285 223l-4 1l-4 0M152 222l4 -2l4 -1l4 0l3 -2l4 -2l4 -1l4 -1l4 0l3 -2l4 0l4 -1M179 213l3 -1l4 0l4 0l4 0M186 212l4 -2l3 -2M182 212l4 -2l2 -3l3 -3M370 219l-4 1l-4 -1l-4 0l-4 0l-4 1l-4 0l-4 1l-4 2l-4 1M342 221l-2 4l-3 3M337 228l-4 1l-4 0M249 200l4 0l4 0l4 0l4 0l4 1l4 1l4 2l4 0l4 0l4 0l3 -1l4 -1l4 -1l4 -1M281 204l3 2l4 2l3 2l4 0l4 1l4 1M284 206l3 2l3 3l3 3l3 3l3 2M216 208l3 1l4 1l4 0l4 2l4 1l4 0l4 -1l4 0l4 -1l4 -1l4 0l3 2l4 0l4 0l4 1M259 210l4 0l3 -2l4 -1l4 -1M263 210l3 -3l3 -2l3 -3M293 216l3 -1l4 -1l4 -2l4 -1l3 -1l4 -2l4 -2l3 -1l4 -2l3 -2l4 -3l2 -2l3 -3l4 -2l2 -3l3 -3l2 -4M322 205l4 -3l3 -2l3 -2l4 -2l3 -2l4 -2l3 -2l4 -2M336 196l4 -1l3 -1l4 -1l4 1M338 193l4 0l4 0l4 0l4 0M350 193l4 0l4 0M294 221l4 0l4 2l4 1l4 1l3 2l3 2l4 2l3 3M306 224l3 -2l4 -2l4 -1l4 -1l4 0M313 220l4 0l4 1l4 0M321 218l3 -2l3 -3M110 197l-4 1l-4 1l-4 1l-4 1l-3 3l-3 2l-4 1l-3 2l-4 2l-4 1l-3 2l-4 1l-4 1M94 201l-4 0l-3 0l-4 1l-4 1l-4 0l-4 0l-4 -2l-4 0M71 203l-4 0l-4 2l-4 1M147 206l4 0l4 1l4 1l4 1l4 1l4 1l4 1M155 207l4 2l3 1l4 2l4 1l4 1l4 1M174 214l3 2l3 2M100 206l3 1l4 0l4 1l4 1l4 0l4 2l4 0l4 1M123 211l4 -2l4 -1M123 211l4 0l4 1M76 201l-3 1l-4 2l-4 1l-4 1l-4 2l-3 1l-4 2l-4 1l-3 1l-4 1l-4 1l-4 0M57 208l-3 -1l-4 -2l-4 -1l-4 -1l-4 -1l-4 -1l-4 0l-4 0M50 205l-4 -1l-4 0l-4 0l-4 1l-4 0M68 205l-3 3l-3 2l-3 3l-3 3l-3 2l-3 3l-3 2l-4 2M59 213l-2 4l-2 3l-3 2l-3 3l-3 3M49 225l-3 3l-3 2M52 222l-2 4l-1 4M77 211l-4 0l-4 -1l-4 0l-4 0l-4 1l-4 0l-4 0l-4 1l-4 1M53 211l-3 2l-4 1l-4 2l-3 2M42 216l-3 0l-4 -2M42 216l-3 1l-4 0M57 211l-3 2l-4 0l-4 0l-4 0M46 213l-3 3l-4 1M126 198l4 -1l4 -1l4 0l4 0l3 -1l4 0l4 0l4 0l4 0l4 1l4 1l4 0l4 -1l4 -1l4 -2l3 -2l4 -1M169 197l4 -3l4 -1l3 -1l4 -1l4 0l4 0M180 192l4 1l4 0l4 0M188 215l-2 3l-3 3l-3 3l-3 3l-3 2l-3 3l-3 3l-3 2l-3 2M183 221l-3 3l-3 2l-4 2l-3 2l-4 2l-3 1l-4 2M173 228l-3 3l-3 2l-3 2M345 208l4 0l4 -1l4 0l4 1l4 1l3 1l4 1l4 1l4 2l3 1l4 1l4 1l4 1M365 209l3 2l4 1l3 2l4 0l4 2l4 1l3 2l3 3l3 2M387 217l3 3l3 2M169 197l4 1l4 0l4 0l4 0l4 0l4 -1l4 1l4 -1l4 -1l4 0l4 1l4 0M197 198l4 -1l4 0l4 0l4 0M205 197l4 1l4 0M205 196l4 -1l3 -1l4 0M216 194l4 -1l4 1M55 219l4 1l4 -1l4 0l3 -2l4 -1l4 0l4 -1l4 -2l4 -1l3 -1l4 -1l4 -2l3 -2M86 213l3 3l3 2l3 3l3 2l4 2M92 218l4 2l3 2M86 213l4 0l4 -1l4 -1l3 -1l4 0M90 213l4 0l4 1l3 2M197 216l4 -1l4 0l4 -1l4 0l4 0l4 0l4 0M217 214l4 -1l4 -1M225 212l2 -3l3 -3M221 214l4 -1l3 -2M228 211l3 -3l3 -2M110 206l3 1l4 1l4 1l4 2l3 1l4 1l4 2l3 2l4 2l2 3l2 4l2 3l2 4l1 3l2 4l3 3M145 222l4 2l4 1l3 1l4 1l4 0l4 1M153 225l3 2l4 1l4 1l4 1M149 229l4 0l4 2l4 0l4 1l4 0M165 232l3 2l4 2M190 211l-4 -1l-4 -1l-4 -2l-3 -2l-4 -1l-4 -2l-3 -1l-4 -2l-4 -1l-3 -2l-4 -1l-4 -1l-4 -1l-4 0l-4 -1M149 195l-4 -1l-4 -1l-4 -2l-3 -1M141 193l-4 -1l-4 0M156 198l-4 1l-3 1l-4 1l-4 1l-4 1l-4 0M137 203l-4 -1l-3 -2M234 215l-4 0l-4 0l-4 -1l-4 -1l-4 -1l-3 -1l-4 -2l-3 -2l-4 -3l-3 -1l-3 -3l-4 -1l-4 -1l-4 0l-4 -1l-4 -1M190 199l-4 0l-4 0l-4 0l-4 0l-4 1M186 199l-4 1l-4 1l-3 2l-4 2M182 199l-4 1l-4 1l-4 0M204 207l-4 1l-4 1l-3 2l-4 1l-4 1l-4 2l-4 1l-4 0M193 211l-4 2l-4 1l-4 1l-4 -1l-4 -1M196 209l-4 1l-3 2l-4 1l-4 0l-4 0l-4 0M377 215l-4 -2l-3 -2l-4 -2l-3 -2l-4 -1l-4 -1l-4 -1l-4 -2l-3 -1l-4 -1l-4 -2l-4 -1l-4 -1l-3 -1M351 204l-4 -1l-4 -1l-4 -1l-3 -1l-4 -1l-4 -1M336 200l-4 -1l-4 -1l-4 0M339 201l-3 1l-4 2l-4 1M347 202l-3 -1l-4 -2l-4 -1l-3 -2l-4 -1l-4 -1M333 196l-4 0l-4 0M340 199l-3 -3l-3 -3l-3 -1l-3 -3M200 201l-3 1l-4 1l-4 1l-4 0l-4 0l-4 1l-4 0l-4 0l-4 1M177 205l-4 -1l-4 -1l-4 0l-4 -1M169 203l-4 -2l-3 -1M165 203l-3 -3l-4 -2M173 205l-4 1l-4 0M169 206l-3 2l-4 1M376 203l-4 -1l-4 -1l-4 0l-4 -1l-4 -1l-3 -2l-4 -2l-3 -2l-4 -3l-2 -3l-3 -2l-3 -3l-4 -2M356 199l-4 1l-4 1l-4 1l-3 1l-4 0l-4 -1l-4 0l-4 -1l-4 0M341 203l-4 -1l-4 -1l-4 0l-4 0M293 203l4 0l4 0l4 -2l4 0l4 0l4 1l4 0l4 0l4 -1M313 201l4 0l4 -1l4 -1l4 0M317 201l3 -2l4 -2l3 -3" fill="none" stroke="#262626" stroke-width="0.9" opacity="0.75" stroke-linecap="round"/>
<path d="M354 221l2 -1l2 -3l3 -1l3 -1l3 -1l2 -2l2 -2M358 217l2 -2l2 -3l1 -2l2 -2M163 221l1 3l1 3l1 3l1 3l1 3M166 230l2 2l3 2M164 224l0 3l0 3l1 3M265 192l-2 1l-3 2l-2 1l-3 2l-3 0l-3 1M255 198l-3 0l-3 -1M373 178l2 -2l3 -1l3 -1l3 -1M375 176l3 -1l3 -1l3 -1M378 182l-2 -3l-2 -2l-2 -2l-2 -2l-2 -3l0 -3M370 173l-1 -3l-2 -3M41 211l-1 3l-1 3l-2 2l-2 3l-2 2l-2 2M35 222l0 3l0 2l0 3M37 219l-1 3l-1 3l-1 3M230 229l-1 3l-2 2l-2 2l-2 2l-3 2l-3 1M225 236l-2 3l-1 2l-1 3M226 241l2 -2l2 -2l3 -1l2 -2l3 -2l2 -1l2 -3l2 -2M230 237l1 -3l1 -2l2 -3l2 -2l2 -2l1 -3M207 231l3 1l3 0l3 0l3 1l3 0M210 232l3 1l3 1l3 0l3 1M210 232l3 1l2 2l3 0l3 0l3 1M68 198l-1 3l-1 3l-1 3l-1 2l-1 3M65 207l1 2l1 3M280 165l-3 -2l-2 -2l-2 -2l-3 -1M277 163l-2 -2l-1 -2l-1 -3M168 235l-3 -1l-2 -2l-2 -2l-3 -2l-3 -1M163 232l-3 -1l-3 0l-3 -1M165 234l-2 -1l-3 -2l-2 -2l-3 -1M340 230l3 1l2 2l2 2l2 2l2 2M343 231l3 0l3 0l3 0l3 0M165 168l2 -3l0 -3l1 -3l1 -2M168 159l3 -1l3 -1M62 186l1 -3l2 -3l1 -2l1 -3M66 178l2 -3l1 -3M213 205l-3 -1l-3 -2l-2 -1l-3 -2l-3 -1l-3 -1l-2 -1M202 199l-3 1l-3 1l-3 -1M276 217l-2 3l0 2l-1 3l-1 3l-1 3l-2 3M272 228l1 3l2 2M148 220l-2 -3l0 -3l-1 -3l-1 -3l0 -3l-1 -2l-1 -3l-1 -3M145 211l-1 -3l0 -3l-1 -3l-1 -2l-1 -3M145 211l0 -3l0 -3l0 -3l0 -3M56 232l1 -3l2 -2l2 -3l1 -2M59 227l2 -2l2 -2M245 234l0 -3l-1 -3l-2 -2l-3 -2l-3 -1l-3 0l-3 -1l-3 0M236 223l-1 -2l-2 -3l-2 -2" fill="none" stroke="#2a2a2a" stroke-width="0.9" opacity="0.6" stroke-linecap="round"/>
</g>
<path d="M251.5 191.5h0M216.5 229.5h0M118.5 198.5h0M156.5 254.5h0M336.5 256.5h0M257.5 131.5h0M429.5 193.5h0M198.5 141.5h0M209.5 239.5h0M384.5 186.5h0M347.5 122.5h0M230.5 156.5h0M169.5 157.5h0M357.5 245.5h0M127.5 127.5h0M369.5 226.5h0M324.5 222.5h0M331.5 136.5h0M66.5 157.5h0M54.5 299.5h0M260.5 230.5h0M446.5 262.5h0M136.5 152.5h0M86.5 260.5h0M350.5 187.5h0M195.5 136.5h0M245.5 240.5h0M416.5 272.5h0M404.5 176.5h0M217.5 146.5h0M449.5 115.5h0M106.5 138.5h0M427.5 273.5h0M179.5 273.5h0M414.5 173.5h0M121.5 254.5h0M197.5 100.5h0M419.5 176.5h0M207.5 212.5h0M147.5 77.5h0M204.5 162.5h0M45.5 160.5h0M360.5 151.5h0M325.5 219.5h0M119.5 77.5h0M323.5 216.5h0M163.5 119.5h0M399.5 287.5h0M138.5 210.5h0M281.5 148.5h0M55.5 149.5h0M311.5 214.5h0M254.5 101.5h0M129.5 145.5h0M215.5 158.5h0M419.5 99.5h0M454.5 129.5h0M400.5 129.5h0M287.5 161.5h0M56.5 260.5h0M380.5 136.5h0M366.5 185.5h0M455.5 85.5h0M200.5 126.5h0M302.5 256.5h0M394.5 201.5h0M203.5 261.5h0M84.5 133.5h0M356.5 176.5h0M457.5 93.5h0M234.5 122.5h0M41.5 94.5h0M78.5 159.5h0M222.5 192.5h0M162.5 238.5h0M257.5 304.5h0M111.5 193.5h0M247.5 160.5h0M402.5 121.5h0M409.5 156.5h0M181.5 217.5h0M277.5 139.5h0M75.5 297.5h0M195.5 99.5h0M316.5 198.5h0M178.5 150.5h0M395.5 152.5h0M215.5 298.5h0M192.5 167.5h0M108.5 228.5h0M319.5 177.5h0M210.5 127.5h0M372.5 180.5h0M389.5 160.5h0M348.5 79.5h0M132.5 299.5h0M327.5 231.5h0M249.5 183.5h0M123.5 113.5h0M311.5 236.5h0M149.5 224.5h0M97.5 217.5h0M112.5 192.5h0M172.5 202.5h0M96.5 186.5h0M299.5 104.5h0M170.5 232.5h0M269.5 218.5h0M368.5 207.5h0M133.5 176.5h0M389.5 206.5h0M356.5 158.5h0M228.5 301.5h0M385.5 226.5h0M85.5 216.5h0M54.5 292.5h0M448.5 244.5h0M152.5 272.5h0M114.5 267.5h0M259.5 76.5h0M414.5 176.5h0M389.5 234.5h0M264.5 276.5h0M125.5 284.5h0M182.5 78.5h0M181.5 88.5h0M70.5 219.5h0M91.5 110.5h0M163.5 138.5h0M426.5 286.5h0M405.5 306.5h0M225.5 260.5h0M158.5 291.5h0M380.5 245.5h0M136.5 94.5h0M429.5 202.5h0M297.5 275.5h0M100.5 237.5h0M235.5 258.5h0M231.5 118.5h0M442.5 138.5h0M353.5 268.5h0M144.5 236.5h0M206.5 125.5h0M131.5 297.5h0M195.5 192.5h0M251.5 78.5h0M356.5 248.5h0M408.5 156.5h0M128.5 154.5h0M348.5 227.5h0M211.5 196.5h0M105.5 289.5h0M238.5 192.5h0M371.5 119.5h0M343.5 155.5h0M381.5 94.5h0M156.5 222.5h0M243.5 161.5h0M283.5 123.5h0M224.5 72.5h0M375.5 132.5h0M389.5 202.5h0M293.5 220.5h0M93.5 255.5h0M163.5 276.5h0M370.5 232.5h0M382.5 175.5h0M323.5 297.5h0M119.5 96.5h0M213.5 192.5h0M103.5 124.5h0M404.5 164.5h0M103.5 115.5h0M283.5 117.5h0M240.5 199.5h0M225.5 191.5h0M391.5 76.5h0M431.5 119.5h0M56.5 253.5h0M279.5 199.5h0M131.5 256.5h0M169.5 244.5h0M136.5 207.5h0M312.5 160.5h0M242.5 87.5h0M310.5 235.5h0M104.5 202.5h0M348.5 96.5h0M392.5 277.5h0M61.5 131.5h0M75.5 132.5h0M76.5 187.5h0M145.5 143.5h0M234.5 160.5h0M371.5 243.5h0M88.5 125.5h0M43.5 150.5h0M85.5 237.5h0M368.5 307.5h0M128.5 81.5h0M358.5 169.5h0M431.5 165.5h0M171.5 89.5h0M438.5 193.5h0M225.5 175.5h0M363.5 268.5h0M240.5 114.5h0M211.5 282.5h0M211.5 228.5h0M275.5 181.5h0M281.5 130.5h0M274.5 276.5h0M74.5 159.5h0M410.5 303.5h0M46.5 220.5h0M305.5 271.5h0M237.5 103.5h0M166.5 240.5h0M346.5 120.5h0M310.5 227.5h0M316.5 77.5h0M225.5 149.5h0M291.5 151.5h0M94.5 230.5h0M161.5 259.5h0M168.5 201.5h0M379.5 99.5h0M347.5 88.5h0M433.5 78.5h0M344.5 159.5h0M115.5 165.5h0M251.5 170.5h0M91.5 195.5h0M166.5 300.5h0M201.5 175.5h0M136.5 301.5h0M175.5 225.5h0M390.5 165.5h0M357.5 138.5h0M86.5 82.5h0M229.5 278.5h0M125.5 176.5h0M360.5 137.5h0M104.5 195.5h0M219.5 293.5h0M417.5 128.5h0M276.5 170.5h0M54.5 177.5h0M425.5 143.5h0M286.5 240.5h0M66.5 290.5h0M86.5 143.5h0M341.5 77.5h0M198.5 102.5h0M239.5 76.5h0M103.5 124.5h0M74.5 93.5h0M122.5 194.5h0M98.5 266.5h0M215.5 131.5h0M141.5 270.5h0M60.5 247.5h0M81.5 295.5h0M211.5 213.5h0M403.5 96.5h0M67.5 236.5h0M287.5 242.5h0M157.5 189.5h0M118.5 175.5h0M158.5 210.5h0M166.5 137.5h0M310.5 92.5h0M376.5 189.5h0M136.5 99.5h0M254.5 191.5h0M342.5 160.5h0M213.5 283.5h0M155.5 304.5h0M415.5 306.5h0M436.5 133.5h0M382.5 216.5h0M126.5 307.5h0M312.5 263.5h0M274.5 91.5h0M403.5 113.5h0M149.5 217.5h0M121.5 181.5h0M340.5 95.5h0M317.5 97.5h0M240.5 225.5h0M329.5 82.5h0M120.5 299.5h0M204.5 172.5h0M197.5 236.5h0M351.5 225.5h0M209.5 206.5h0M256.5 116.5h0M439.5 300.5h0M367.5 306.5h0M236.5 270.5h0M141.5 247.5h0M340.5 294.5h0M390.5 280.5h0M152.5 258.5h0M240.5 146.5h0M195.5 261.5h0M394.5 271.5h0M321.5 112.5h0M105.5 206.5h0M129.5 151.5h0M83.5 109.5h0M341.5 125.5h0M396.5 150.5h0M397.5 143.5h0M152.5 165.5h0M45.5 175.5h0M200.5 75.5h0M402.5 161.5h0M40.5 299.5h0M136.5 132.5h0M50.5 95.5h0M338.5 209.5h0M252.5 130.5h0M160.5 301.5h0M196.5 306.5h0M412.5 101.5h0M396.5 77.5h0M339.5 263.5h0M332.5 202.5h0M381.5 108.5h0M267.5 135.5h0M208.5 117.5h0M337.5 207.5h0M367.5 220.5h0M292.5 290.5h0M381.5 206.5h0M177.5 291.5h0M196.5 96.5h0M180.5 239.5h0M431.5 224.5h0M318.5 293.5h0M367.5 177.5h0M234.5 251.5h0M173.5 98.5h0M300.5 263.5h0M144.5 233.5h0M415.5 102.5h0M97.5 188.5h0M180.5 296.5h0M459.5 177.5h0M373.5 221.5h0M113.5 301.5h0M113.5 90.5h0M230.5 76.5h0M242.5 169.5h0M441.5 170.5h0M397.5 256.5h0M286.5 128.5h0M168.5 188.5h0M206.5 224.5h0M252.5 148.5h0M295.5 307.5h0M125.5 151.5h0M45.5 94.5h0M63.5 172.5h0M391.5 237.5h0M446.5 270.5h0M286.5 209.5h0M45.5 163.5h0M150.5 218.5h0M68.5 200.5h0M198.5 188.5h0M210.5 96.5h0M347.5 261.5h0M291.5 99.5h0M292.5 278.5h0M454.5 251.5h0M59.5 279.5h0M319.5 137.5h0M426.5 267.5h0M416.5 130.5h0M282.5 161.5h0M164.5 252.5h0M299.5 150.5h0M268.5 291.5h0M278.5 288.5h0M278.5 306.5h0M52.5 181.5h0M272.5 244.5h0M447.5 219.5h0M241.5 222.5h0M264.5 238.5h0M438.5 75.5h0M175.5 279.5h0M65.5 259.5h0M53.5 225.5h0M376.5 128.5h0M200.5 125.5h0M336.5 197.5h0M294.5 149.5h0M286.5 297.5h0M367.5 297.5h0M144.5 194.5h0M202.5 154.5h0M377.5 113.5h0M275.5 255.5h0M433.5 76.5h0M154.5 188.5h0M433.5 111.5h0M393.5 166.5h0M270.5 291.5h0M67.5 150.5h0M105.5 104.5h0M168.5 237.5h0M284.5 101.5h0M377.5 192.5h0M100.5 266.5h0M385.5 123.5h0M435.5 263.5h0M136.5 72.5h0M404.5 267.5h0M81.5 253.5h0M365.5 222.5h0M390.5 304.5h0M178.5 269.5h0M427.5 146.5h0M327.5 234.5h0M397.5 206.5h0M156.5 131.5h0M268.5 104.5h0M401.5 282.5h0M142.5 237.5h0M323.5 101.5h0M367.5 253.5h0M169.5 95.5h0M158.5 254.5h0M236.5 264.5h0M107.5 97.5h0M187.5 280.5h0M108.5 89.5h0M356.5 94.5h0M320.5 92.5h0M144.5 229.5h0M407.5 169.5h0M229.5 79.5h0M183.5 129.5h0M371.5 241.5h0M369.5 197.5h0M334.5 102.5h0M202.5 141.5h0M159.5 246.5h0M130.5 149.5h0M159.5 276.5h0M308.5 185.5h0M200.5 290.5h0M435.5 178.5h0M278.5 276.5h0M148.5 133.5h0M83.5 190.5h0M363.5 109.5h0M222.5 306.5h0M242.5 162.5h0M393.5 283.5h0M198.5 101.5h0M307.5 247.5h0M428.5 228.5h0M169.5 194.5h0M161.5 177.5h0M237.5 287.5h0M420.5 291.5h0M241.5 300.5h0M98.5 289.5h0M309.5 278.5h0M214.5 306.5h0M51.5 272.5h0M384.5 160.5h0M388.5 122.5h0M356.5 183.5h0M213.5 118.5h0M376.5 245.5h0M77.5 303.5h0M133.5 161.5h0M214.5 208.5h0M414.5 295.5h0M306.5 158.5h0M85.5 88.5h0M258.5 210.5h0M228.5 304.5h0M214.5 155.5h0M216.5 113.5h0M434.5 211.5h0M268.5 172.5h0M145.5 146.5h0M247.5 177.5h0M451.5 205.5h0M127.5 85.5h0M107.5 154.5h0M369.5 282.5h0M139.5 256.5h0M225.5 199.5h0M264.5 82.5h0M68.5 230.5h0M329.5 162.5h0M426.5 266.5h0M167.5 88.5h0M272.5 226.5h0M134.5 82.5h0M245.5 80.5h0M349.5 220.5h0M157.5 177.5h0M138.5 116.5h0M116.5 264.5h0M230.5 241.5h0M186.5 262.5h0M290.5 226.5h0M205.5 205.5h0M120.5 302.5h0M322.5 198.5h0M308.5 96.5h0M180.5 126.5h0M394.5 75.5h0M227.5 277.5h0M369.5 242.5h0M167.5 127.5h0M336.5 142.5h0M344.5 155.5h0M359.5 207.5h0M382.5 305.5h0M199.5 305.5h0M44.5 279.5h0M53.5 201.5h0M203.5 254.5h0M172.5 121.5h0M369.5 202.5h0M357.5 187.5h0M55.5 254.5h0M132.5 183.5h0M40.5 133.5h0M320.5 252.5h0M307.5 177.5h0M348.5 230.5h0M127.5 198.5h0M291.5 244.5h0M123.5 145.5h0M184.5 95.5h0M186.5 244.5h0M283.5 113.5h0M347.5 100.5h0M356.5 107.5h0M81.5 131.5h0M256.5 136.5h0M411.5 293.5h0M159.5 249.5h0M332.5 204.5h0M147.5 296.5h0M442.5 75.5h0M179.5 148.5h0M123.5 174.5h0M417.5 78.5h0M391.5 145.5h0M46.5 284.5h0M154.5 122.5h0M89.5 159.5h0M90.5 114.5h0M145.5 208.5h0M227.5 144.5h0M261.5 255.5h0M344.5 153.5h0M426.5 259.5h0M276.5 184.5h0M178.5 104.5h0M412.5 216.5h0M81.5 290.5h0M413.5 80.5h0M334.5 128.5h0M265.5 269.5h0M187.5 190.5h0M319.5 117.5h0M303.5 172.5h0M453.5 116.5h0M339.5 82.5h0M155.5 100.5h0M103.5 197.5h0M113.5 260.5h0M80.5 219.5h0M402.5 102.5h0M131.5 253.5h0M237.5 292.5h0M182.5 166.5h0M442.5 153.5h0M446.5 282.5h0M124.5 201.5h0M435.5 100.5h0M396.5 255.5h0M355.5 214.5h0M82.5 298.5h0M83.5 257.5h0M344.5 147.5h0M328.5 169.5h0" stroke="#1e1e1e" stroke-width="1.5" stroke-linecap="round" opacity="0.8"/>
<g filter="url(#bl15)">
<polygon points="30.0,73.0 100.0,76.0 150.0,82.6 200.0,89.0 250.0,101.7 300.0,112.4 350.0,125.0 400.0,135.7 440.0,150.0 440.0,155.0 400.0,150.6 350.0,142.0 300.0,131.5 250.0,121.0 200.0,112.4 150.0,104.0 100.0,93.0 30.0,85.0" fill="#f8f8f8" />
<polygon points="383.0,320.0 383.0,303.0 420.0,287.0 445.0,270.0 465.0,250.0 475.0,250.0 475.0,320.0" fill="#fafafa" />
<polygon points="30.0,305.0 383.0,304.0 383.0,320.0 30.0,320.0" fill="#f4f4f4" />
</g>
<g fill="#151515"><ellipse cx="87.1" cy="158.5" rx="2.3" ry="3.5" transform="rotate(-28 87.1 158.5)"/><ellipse cx="116.0" cy="162.7" rx="1.8" ry="3.9" transform="rotate(16 116.0 162.7)"/><ellipse cx="128.9" cy="164.9" rx="1.7" ry="3.1" transform="rotate(-11 128.9 164.9)"/><ellipse cx="158.5" cy="177.6" rx="2.0" ry="3.8" transform="rotate(-22 158.5 177.6)"/><ellipse cx="180.0" cy="179.7" rx="2.2" ry="3.2" transform="rotate(31 180.0 179.7)"/><ellipse cx="187.0" cy="181.9" rx="2.1" ry="2.9" transform="rotate(-6 187.0 181.9)"/><ellipse cx="226.8" cy="192.5" rx="2.1" ry="3.6" transform="rotate(-11 226.8 192.5)"/><ellipse cx="269.6" cy="201.0" rx="2.0" ry="3.0" transform="rotate(-14 269.6 201.0)"/><ellipse cx="294.9" cy="196.7" rx="2.1" ry="3.9" transform="rotate(1 294.9 196.7)"/><ellipse cx="350.1" cy="209.5" rx="1.8" ry="3.7" transform="rotate(-24 350.1 209.5)"/><ellipse cx="386.9" cy="209.5" rx="1.8" ry="3.3" transform="rotate(29 386.9 209.5)"/><ellipse cx="171.9" cy="194.6" rx="1.7" ry="3.1" transform="rotate(-12 171.9 194.6)"/><ellipse cx="116.7" cy="218.0" rx="1.9" ry="3.7" transform="rotate(-7 116.7 218.0)"/><ellipse cx="260.4" cy="209.5" rx="2.2" ry="3.9" transform="rotate(-5 260.4 209.5)"/><ellipse cx="358.7" cy="224.3" rx="2.3" ry="3.1" transform="rotate(33 358.7 224.3)"/><ellipse cx="383.3" cy="230.7" rx="1.9" ry="3.1" transform="rotate(-26 383.3 230.7)"/><ellipse cx="84.5" cy="245.6" rx="2.3" ry="3.2" transform="rotate(14 84.5 245.6)"/><ellipse cx="94.6" cy="249.8" rx="1.8" ry="3.0" transform="rotate(-11 94.6 249.8)"/><ellipse cx="116.6" cy="249.8" rx="2.1" ry="3.5" transform="rotate(-35 116.6 249.8)"/><ellipse cx="143.9" cy="239.2" rx="1.7" ry="3.1" transform="rotate(-20 143.9 239.2)"/><ellipse cx="211.5" cy="237.1" rx="2.3" ry="3.5" transform="rotate(-12 211.5 237.1)"/><ellipse cx="222.7" cy="243.5" rx="1.8" ry="3.2" transform="rotate(20 222.7 243.5)"/><ellipse cx="235.8" cy="252.0" rx="2.2" ry="3.6" transform="rotate(27 235.8 252.0)"/><ellipse cx="248.0" cy="256.2" rx="1.6" ry="3.0" transform="rotate(-17 248.0 256.2)"/><ellipse cx="286.2" cy="237.1" rx="2.0" ry="3.8" transform="rotate(6 286.2 237.1)"/><ellipse cx="294.5" cy="245.6" rx="2.4" ry="3.7" transform="rotate(-11 294.5 245.6)"/><ellipse cx="316.3" cy="241.3" rx="1.6" ry="4.0" transform="rotate(-17 316.3 241.3)"/><ellipse cx="333.3" cy="241.3" rx="2.1" ry="3.2" transform="rotate(27 333.3 241.3)"/><ellipse cx="345.7" cy="245.6" rx="1.8" ry="2.9" transform="rotate(-21 345.7 245.6)"/><ellipse cx="363.3" cy="243.5" rx="2.1" ry="3.6" transform="rotate(-15 363.3 243.5)"/><ellipse cx="64.2" cy="158.5" rx="1.8" ry="2.9" transform="rotate(34 64.2 158.5)"/><ellipse cx="53.4" cy="179.7" rx="1.9" ry="3.0" transform="rotate(-4 53.4 179.7)"/><ellipse cx="146.4" cy="158.5" rx="2.3" ry="3.1" transform="rotate(-23 146.4 158.5)"/><ellipse cx="319.9" cy="205.2" rx="2.0" ry="3.0" transform="rotate(26 319.9 205.2)"/><ellipse cx="404.8" cy="213.7" rx="1.7" ry="3.0" transform="rotate(-18 404.8 213.7)"/></g>
<g fill="#1a1a1a"><ellipse cx="71.4" cy="164.8" rx="2.1" ry="3.8" transform="rotate(-3 71.4 164.8)"/><ellipse cx="105.2" cy="163.2" rx="2.0" ry="3.6" transform="rotate(2 105.2 163.2)"/><ellipse cx="191.3" cy="175.7" rx="2.3" ry="3.8" transform="rotate(-11 191.3 175.7)"/><ellipse cx="240.2" cy="186.9" rx="2.4" ry="4.2" transform="rotate(-15 240.2 186.9)"/><ellipse cx="407.4" cy="219.8" rx="2.3" ry="3.0" transform="rotate(1 407.4 219.8)"/><ellipse cx="81.8" cy="247.5" rx="2.1" ry="3.8" transform="rotate(165 81.8 247.5)"/><ellipse cx="100.2" cy="251.7" rx="2.2" ry="3.9" transform="rotate(163 100.2 251.7)"/><ellipse cx="116.4" cy="252.3" rx="2.5" ry="3.1" transform="rotate(170 116.4 252.3)"/><ellipse cx="163.9" cy="252.3" rx="2.2" ry="4.0" transform="rotate(173 163.9 252.3)"/><ellipse cx="183.0" cy="251.9" rx="1.9" ry="3.3" transform="rotate(159 183.0 251.9)"/><ellipse cx="208.9" cy="245.3" rx="2.3" ry="4.2" transform="rotate(164 208.9 245.3)"/><ellipse cx="226.4" cy="254.1" rx="2.1" ry="3.5" transform="rotate(159 226.4 254.1)"/><ellipse cx="259.6" cy="254.3" rx="2.2" ry="3.1" transform="rotate(163 259.6 254.3)"/><ellipse cx="283.6" cy="243.3" rx="2.2" ry="3.1" transform="rotate(162 283.6 243.3)"/><ellipse cx="366.1" cy="248.3" rx="2.5" ry="3.1" transform="rotate(173 366.1 248.3)"/><ellipse cx="379.5" cy="243.7" rx="2.2" ry="3.2" transform="rotate(177 379.5 243.7)"/></g>
<path d="M256.5 184.5h0M273.5 244.5h0M415.5 183.5h0M58.5 268.5h0M48.5 147.5h0M100.5 214.5h0M368.5 102.5h0M164.5 273.5h0M329.5 98.5h0M328.5 259.5h0M212.5 109.5h0M317.5 147.5h0M96.5 111.5h0M209.5 102.5h0M202.5 202.5h0M272.5 167.5h0M376.5 93.5h0M179.5 292.5h0M403.5 289.5h0M361.5 198.5h0M371.5 207.5h0M89.5 132.5h0M81.5 279.5h0M175.5 168.5h0M266.5 96.5h0M336.5 260.5h0M374.5 280.5h0M173.5 106.5h0M360.5 236.5h0M196.5 153.5h0M105.5 268.5h0M233.5 264.5h0M183.5 148.5h0M256.5 248.5h0M411.5 155.5h0M331.5 167.5h0M402.5 251.5h0M273.5 158.5h0M155.5 281.5h0M376.5 144.5h0M76.5 118.5h0M445.5 81.5h0M380.5 197.5h0M273.5 199.5h0M212.5 204.5h0M78.5 289.5h0M83.5 105.5h0M322.5 223.5h0M379.5 235.5h0M431.5 84.5h0M44.5 128.5h0M367.5 108.5h0M263.5 254.5h0M106.5 196.5h0M418.5 248.5h0M207.5 185.5h0M157.5 299.5h0M369.5 233.5h0M168.5 245.5h0M244.5 260.5h0M193.5 280.5h0M328.5 178.5h0M276.5 262.5h0M262.5 299.5h0M43.5 284.5h0M340.5 187.5h0M397.5 107.5h0M182.5 240.5h0M386.5 160.5h0M458.5 225.5h0M59.5 101.5h0M72.5 207.5h0M175.5 134.5h0M228.5 90.5h0M422.5 270.5h0M275.5 177.5h0M170.5 214.5h0M186.5 302.5h0M442.5 244.5h0M387.5 90.5h0M92.5 154.5h0M93.5 172.5h0M454.5 269.5h0M443.5 124.5h0M133.5 78.5h0M155.5 85.5h0M262.5 143.5h0M323.5 204.5h0M291.5 143.5h0M349.5 235.5h0" stroke="#333" stroke-width="1.4" stroke-linecap="round" opacity="0.7"/>
<rect x="384.5" y="290" width="54.5" height="3.2" fill="#000"/>
</g>
<rect x="40.5" y="72.5" width="420.0" height="236.0" fill="none" stroke="#3a3a3a" stroke-width="1.0"/>
<defs><clipPath id="clA2"><rect x="476.5" y="72.5" width="415.0" height="236.0"/></clipPath></defs>
<g clip-path="url(#clA2)">
<rect x="476.5" y="72.5" width="415.0" height="236.0" fill="#d8d8d8"/>
<g filter="url(#bl4)">
<polygon points="650.0,60.0 900.0,60.0 900.0,129.0 850.0,118.0 800.0,107.4 750.0,99.0 700.0,89.7 655.0,72.0" fill="#b4b4b4" />
<polygon points="470.0,82.0 520.0,85.0 580.0,93.0 640.0,104.0 700.0,116.0 750.0,123.0 800.0,129.5 850.0,133.0 900.0,136.0 900.0,235.0 850.0,215.0 790.0,203.0 750.0,200.0 710.0,192.0 660.0,187.0 620.0,182.0 580.0,172.0 520.0,165.0 470.0,155.0" fill="#b4b4b4" />
<polygon points="470.0,200.0 600.0,202.0 750.0,210.0 880.0,222.0 880.0,232.0 750.0,222.0 600.0,212.0 470.0,210.0" fill="#c0c0c0" />
<polygon points="470.0,212.0 520.0,212.0 580.0,218.0 640.0,222.0 700.0,226.0 760.0,232.0 800.0,234.0 860.0,242.0 900.0,252.0 900.0,258.0 860.0,282.0 820.0,298.0 700.0,300.0 600.0,290.0 470.0,287.0" fill="#8e8e8e" />
</g>
<g fill="#5c5c5c" filter="url(#bl6)" opacity="0.85"><ellipse cx="520" cy="120" rx="14" ry="30"/><ellipse cx="600" cy="125" rx="14" ry="28"/><ellipse cx="660" cy="140" rx="12" ry="25"/><ellipse cx="540" cy="260" rx="30" ry="20"/><ellipse cx="620" cy="262" rx="26" ry="18"/><ellipse cx="700" cy="268" rx="20" ry="18"/><ellipse cx="780" cy="265" rx="16" ry="16"/><ellipse cx="500" cy="255" rx="20" ry="25"/></g>
<g filter="url(#bl05)">
<g fill="none" stroke="#1e1e1e" stroke-width="0.95" opacity="0.8" stroke-linecap="round" stroke-linejoin="round"><use href="#nr7" transform="translate(474 153) rotate(2) scale(-0.70 0.70)"/><use href="#nr7" transform="translate(479 155) rotate(-3) scale(0.85 0.85)"/><use href="#nr10" transform="translate(487 160) rotate(-8) scale(-0.69 0.69)"/><use href="#nr3" transform="translate(492 161) rotate(-0) scale(-0.66 0.66)"/><use href="#nr13" transform="translate(496 159) rotate(-2) scale(-0.87 0.87)"/><use href="#nr13" transform="translate(505 161) rotate(6) scale(0.72 0.72)"/><use href="#nr7" transform="translate(509 163) rotate(-3) scale(0.81 0.81)"/><use href="#nr2" transform="translate(517 166) rotate(-1) scale(0.78 0.78)"/><use href="#nr1" transform="translate(520 167) rotate(-2) scale(0.69 0.69)"/><use href="#nr8" transform="translate(524 163) rotate(-3) scale(0.84 0.84)"/><use href="#nr7" transform="translate(534 168) rotate(-4) scale(-0.90 0.90)"/><use href="#nr8" transform="translate(537 169) rotate(-2) scale(0.78 0.78)"/><use href="#nr1" transform="translate(542 166) rotate(-11) scale(0.71 0.71)"/><use href="#nr0" transform="translate(547 167) rotate(-7) scale(-0.72 0.72)"/><use href="#nr5" transform="translate(558 170) rotate(-8) scale(0.89 0.89)"/><use href="#nr2" transform="translate(564 168) rotate(-1) scale(0.81 0.81)"/><use href="#nr9" transform="translate(568 168) rotate(-13) scale(0.79 0.79)"/><use href="#nr8" transform="translate(575 173) rotate(15) scale(0.69 0.69)"/><use href="#nr10" transform="translate(579 176) rotate(14) scale(-0.79 0.79)"/><use href="#nr3" transform="translate(584 170) rotate(-5) scale(-0.68 0.68)"/><use href="#nr10" transform="translate(592 177) rotate(5) scale(0.89 0.89)"/><use href="#nr9" transform="translate(599 177) rotate(1) scale(0.89 0.89)"/><use href="#nr9" transform="translate(602 181) rotate(1) scale(0.75 0.75)"/><use href="#nr12" transform="translate(611 180) rotate(3) scale(-0.88 0.88)"/><use href="#nr6" transform="translate(612 172) rotate(9) scale(-0.78 0.78)"/><use href="#nr8" transform="translate(620 184) rotate(7) scale(-0.89 0.89)"/><use href="#nr1" transform="translate(628 184) rotate(3) scale(-0.86 0.86)"/><use href="#nr10" transform="translate(634 188) rotate(8) scale(-0.87 0.87)"/><use href="#nr0" transform="translate(635 180) rotate(-9) scale(-0.82 0.82)"/><use href="#nr3" transform="translate(645 183) rotate(-5) scale(-0.74 0.74)"/><use href="#nr13" transform="translate(650 193) rotate(-16) scale(-0.83 0.83)"/><use href="#nr9" transform="translate(654 183) rotate(-10) scale(0.75 0.75)"/><use href="#nr13" transform="translate(664 182) rotate(12) scale(0.79 0.79)"/><use href="#nr13" transform="translate(669 189) rotate(7) scale(-0.92 0.92)"/><use href="#nr4" transform="translate(672 183) rotate(2) scale(0.83 0.83)"/><use href="#nr1" transform="translate(680 190) rotate(0) scale(-0.67 0.67)"/><use href="#nr12" transform="translate(682 185) rotate(-2) scale(0.71 0.71)"/><use href="#nr1" transform="translate(690 193) rotate(-2) scale(0.81 0.81)"/><use href="#nr2" transform="translate(695 191) rotate(-1) scale(-0.71 0.71)"/><use href="#nr7" transform="translate(705 191) rotate(-0) scale(0.72 0.72)"/><use href="#nr5" transform="translate(710 196) rotate(9) scale(0.74 0.74)"/><use href="#nr1" transform="translate(714 184) rotate(9) scale(0.87 0.87)"/><use href="#nr3" transform="translate(721 194) rotate(-4) scale(0.66 0.66)"/><use href="#nr9" transform="translate(727 194) rotate(-5) scale(0.72 0.72)"/><use href="#nr13" transform="translate(732 199) rotate(1) scale(-0.74 0.74)"/><use href="#nr13" transform="translate(740 203) rotate(-8) scale(-0.66 0.66)"/><use href="#nr13" transform="translate(741 197) rotate(-14) scale(0.86 0.86)"/><use href="#nr6" transform="translate(747 201) rotate(0) scale(0.87 0.87)"/><use href="#nr4" transform="translate(755 201) rotate(16) scale(-0.69 0.69)"/><use href="#nr3" transform="translate(758 204) rotate(-1) scale(0.85 0.85)"/><use href="#nr4" transform="translate(768 206) rotate(-1) scale(0.88 0.88)"/><use href="#nr6" transform="translate(770 202) rotate(-6) scale(-0.73 0.73)"/><use href="#nr9" transform="translate(782 205) rotate(3) scale(0.68 0.68)"/><use href="#nr1" transform="translate(785 202) rotate(-9) scale(-0.84 0.84)"/><use href="#nr10" transform="translate(790 203) rotate(-12) scale(-0.86 0.86)"/><use href="#nr6" transform="translate(799 204) rotate(-10) scale(0.75 0.75)"/><use href="#nr3" transform="translate(800 207) rotate(4) scale(-0.68 0.68)"/><use href="#nr4" transform="translate(810 206) rotate(-11) scale(0.71 0.71)"/><use href="#nr6" transform="translate(816 207) rotate(-4) scale(-0.81 0.81)"/><use href="#nr6" transform="translate(819 212) rotate(13) scale(0.83 0.83)"/><use href="#nr1" transform="translate(824 209) rotate(10) scale(-0.69 0.69)"/><use href="#nr6" transform="translate(832 205) rotate(2) scale(0.83 0.83)"/><use href="#nr12" transform="translate(838 213) rotate(-7) scale(0.69 0.69)"/><use href="#nr8" transform="translate(845 215) rotate(3) scale(0.76 0.76)"/><use href="#nr2" transform="translate(847 218) rotate(1) scale(-0.70 0.70)"/><use href="#nr2" transform="translate(855 217) rotate(1) scale(-0.79 0.79)"/><use href="#nr2" transform="translate(860 217) rotate(4) scale(-0.82 0.82)"/><use href="#nr13" transform="translate(869 222) rotate(-9) scale(-0.76 0.76)"/></g>
<g fill="none" stroke="#1e1e1e" stroke-width="0.95" opacity="0.8" stroke-linecap="round" stroke-linejoin="round"><use href="#nr7" transform="translate(475 207) rotate(177) scale(-0.64 0.64)"/><use href="#nr5" transform="translate(478 210) rotate(182) scale(0.73 0.73)"/><use href="#nr10" transform="translate(485 205) rotate(167) scale(0.79 0.79)"/><use href="#nr6" transform="translate(494 212) rotate(178) scale(0.87 0.87)"/><use href="#nr1" transform="translate(499 217) rotate(181) scale(0.73 0.73)"/><use href="#nr12" transform="translate(503 215) rotate(172) scale(0.71 0.71)"/><use href="#nr4" transform="translate(509 212) rotate(185) scale(-0.88 0.88)"/><use href="#nr7" transform="translate(515 212) rotate(173) scale(0.74 0.74)"/><use href="#nr0" transform="translate(525 213) rotate(172) scale(-0.85 0.85)"/><use href="#nr4" transform="translate(532 207) rotate(179) scale(-0.74 0.74)"/><use href="#nr12" transform="translate(534 212) rotate(176) scale(0.67 0.67)"/><use href="#nr10" transform="translate(543 215) rotate(173) scale(-0.73 0.73)"/><use href="#nr4" transform="translate(546 214) rotate(194) scale(0.79 0.79)"/><use href="#nr1" transform="translate(556 220) rotate(161) scale(-0.75 0.75)"/><use href="#nr1" transform="translate(564 217) rotate(181) scale(0.64 0.64)"/><use href="#nr1" transform="translate(568 214) rotate(178) scale(0.63 0.63)"/><use href="#nr7" transform="translate(574 215) rotate(190) scale(0.81 0.81)"/><use href="#nr2" transform="translate(583 221) rotate(179) scale(-0.69 0.69)"/><use href="#nr13" transform="translate(588 220) rotate(174) scale(0.70 0.70)"/><use href="#nr12" transform="translate(595 218) rotate(177) scale(0.68 0.68)"/><use href="#nr5" transform="translate(601 220) rotate(182) scale(-0.80 0.80)"/><use href="#nr0" transform="translate(606 224) rotate(183) scale(0.67 0.67)"/><use href="#nr11" transform="translate(610 222) rotate(172) scale(-0.59 0.59)"/><use href="#nr9" transform="translate(615 214) rotate(190) scale(0.65 0.65)"/><use href="#nr6" transform="translate(621 217) rotate(175) scale(0.59 0.59)"/><use href="#nr7" transform="translate(630 219) rotate(189) scale(-0.71 0.71)"/><use href="#nr12" transform="translate(634 224) rotate(178) scale(0.70 0.70)"/><use href="#nr10" transform="translate(646 223) rotate(173) scale(0.72 0.72)"/><use href="#nr3" transform="translate(649 227) rotate(176) scale(-0.58 0.58)"/><use href="#nr8" transform="translate(653 220) rotate(169) scale(-0.73 0.73)"/><use href="#nr9" transform="translate(659 226) rotate(175) scale(0.60 0.60)"/><use href="#nr2" transform="translate(666 225) rotate(160) scale(0.66 0.66)"/><use href="#nr1" transform="translate(671 221) rotate(169) scale(0.70 0.70)"/><use href="#nr11" transform="translate(678 225) rotate(187) scale(-0.56 0.56)"/><use href="#nr7" transform="translate(685 226) rotate(166) scale(0.61 0.61)"/><use href="#nr2" transform="translate(694 226) rotate(186) scale(-0.70 0.70)"/><use href="#nr10" transform="translate(699 218) rotate(165) scale(-0.65 0.65)"/><use href="#nr4" transform="translate(706 225) rotate(184) scale(-0.66 0.66)"/><use href="#nr4" transform="translate(712 226) rotate(186) scale(-0.68 0.68)"/><use href="#nr13" transform="translate(719 227) rotate(182) scale(0.61 0.61)"/><use href="#nr1" transform="translate(723 229) rotate(167) scale(-0.58 0.58)"/><use href="#nr9" transform="translate(733 235) rotate(165) scale(-0.55 0.55)"/><use href="#nr13" transform="translate(738 236) rotate(178) scale(-0.62 0.62)"/><use href="#nr8" transform="translate(743 230) rotate(172) scale(0.56 0.56)"/><use href="#nr13" transform="translate(751 230) rotate(174) scale(-0.53 0.53)"/><use href="#nr11" transform="translate(753 229) rotate(168) scale(0.65 0.65)"/><use href="#nr7" transform="translate(765 229) rotate(178) scale(-0.53 0.53)"/><use href="#nr7" transform="translate(772 232) rotate(176) scale(-0.54 0.54)"/><use href="#nr2" transform="translate(776 229) rotate(175) scale(0.64 0.64)"/><use href="#nr6" transform="translate(779 238) rotate(178) scale(0.58 0.58)"/><use href="#nr8" transform="translate(788 237) rotate(178) scale(0.62 0.62)"/><use href="#nr10" transform="translate(791 238) rotate(188) scale(-0.56 0.56)"/><use href="#nr0" transform="translate(802 240) rotate(169) scale(0.57 0.57)"/><use href="#nr10" transform="translate(804 229) rotate(179) scale(-0.52 0.52)"/><use href="#nr5" transform="translate(815 236) rotate(175) scale(0.46 0.46)"/><use href="#nr6" transform="translate(822 232) rotate(165) scale(0.46 0.46)"/><use href="#nr0" transform="translate(823 236) rotate(180) scale(-0.52 0.52)"/><use href="#nr4" transform="translate(833 234) rotate(162) scale(-0.55 0.55)"/><use href="#nr8" transform="translate(840 233) rotate(171) scale(-0.50 0.50)"/><use href="#nr1" transform="translate(846 244) rotate(196) scale(0.50 0.50)"/><use href="#nr10" transform="translate(851 239) rotate(186) scale(-0.52 0.52)"/><use href="#nr5" transform="translate(855 237) rotate(182) scale(-0.44 0.44)"/></g>
<g fill="none" stroke="#404040" stroke-width="1.0" opacity="0.6" stroke-linecap="round" stroke-linejoin="round"><use href="#nr6" transform="translate(679 6) rotate(165) scale(0.71 0.71)"/><use href="#nr13" transform="translate(691 17) rotate(178) scale(0.61 0.61)"/><use href="#nr9" transform="translate(706 18) rotate(201) scale(-0.56 0.56)"/><use href="#nr12" transform="translate(713 29) rotate(181) scale(-0.62 0.62)"/><use href="#nr10" transform="translate(732 22) rotate(167) scale(-0.63 0.63)"/><use href="#nr8" transform="translate(746 28) rotate(182) scale(-0.64 0.64)"/><use href="#nr7" transform="translate(749 23) rotate(169) scale(-0.63 0.63)"/><use href="#nr11" transform="translate(771 37) rotate(186) scale(0.55 0.55)"/><use href="#nr1" transform="translate(774 33) rotate(180) scale(-0.70 0.70)"/><use href="#nr13" transform="translate(790 33) rotate(177) scale(0.60 0.60)"/><use href="#nr5" transform="translate(800 40) rotate(179) scale(0.62 0.62)"/><use href="#nr7" transform="translate(811 38) rotate(161) scale(-0.73 0.73)"/><use href="#nr5" transform="translate(829 42) rotate(181) scale(0.60 0.60)"/><use href="#nr1" transform="translate(841 46) rotate(162) scale(0.64 0.64)"/><use href="#nr10" transform="translate(858 48) rotate(161) scale(-0.56 0.56)"/><use href="#nr1" transform="translate(864 52) rotate(176) scale(-0.68 0.68)"/><use href="#nr1" transform="translate(886 56) rotate(177) scale(-0.58 0.58)"/><use href="#nr6" transform="translate(896 56) rotate(166) scale(0.71 0.71)"/></g>
<g fill="none" stroke="#383838" stroke-width="1.0" opacity="0.7" stroke-linecap="round" stroke-linejoin="round"><use href="#nr9" transform="translate(864 243) rotate(71) scale(-0.52 0.52)"/><use href="#nr0" transform="translate(827 240) rotate(49) scale(0.45 0.45)"/><use href="#nr8" transform="translate(849 254) rotate(80) scale(-0.46 0.46)"/><use href="#nr10" transform="translate(862 224) rotate(79) scale(-0.53 0.53)"/><use href="#nr3" transform="translate(824 237) rotate(97) scale(-0.50 0.50)"/><use href="#nr8" transform="translate(829 229) rotate(56) scale(0.56 0.56)"/><use href="#nr0" transform="translate(822 219) rotate(75) scale(-0.54 0.54)"/><use href="#nr2" transform="translate(844 257) rotate(79) scale(-0.48 0.48)"/><use href="#nr11" transform="translate(845 217) rotate(81) scale(-0.58 0.58)"/><use href="#nr13" transform="translate(834 223) rotate(99) scale(-0.59 0.59)"/></g>
<path d="M485 224l-4 -1l-3 -2l-4 -2l-3 -2l-4 -2l-4 -1l-4 -1l-4 -1l-3 -1M463 214l-4 0l-4 0l-4 0M459 214l-4 1l-3 1M467 215l-4 0l-4 0l-4 -1l-4 -1M463 215l-4 1l-4 2l-3 2M830 202l4 -2l3 -2l3 -3l3 -2l4 -2l3 -2l3 -2l4 -2l4 -2l3 -1l4 -2M840 195l4 -2l3 -2l3 -1l4 -2l4 -1l4 0l4 1l4 0M850 190l4 -3l3 -2l4 -2l3 -1M853 187l4 0l4 0l4 -1l4 -1l4 -1M861 187l4 -2l4 -1l4 -1M857 187l4 0l4 0l4 1M508 215l4 1l3 1l4 1l4 1l4 1l4 0l4 1l4 0l4 1l4 1l4 1M539 221l4 0l4 1l4 0M543 221l4 1l4 0M547 222l4 -2l3 -1M658 202l-4 -1l-4 0l-4 0l-4 0l-4 0l-3 -1l-4 -1l-4 0l-4 -1l-4 1l-4 0l-4 1l-4 2l-3 2l-3 3l-3 2l-3 3M627 199l-4 0l-4 0l-4 0l-4 0l-4 0l-4 0l-4 0l-4 -2l-4 -2M615 199l-4 0l-4 0l-4 1l-4 1l-4 1M619 199l-4 -1l-4 -2l-4 0l-4 -1l-4 0l-4 0M623 198l-4 1l-4 0l-4 1l-4 -1l-4 -1l-3 -2l-4 -2l-4 -1M611 200l-4 0l-4 0l-4 1l-4 1M589 217l-4 0l-4 1l-4 0l-3 2l-4 1l-3 2l-4 2l-4 1l-4 1l-3 2l-4 2l-4 0l-4 0M570 221l-4 2l-3 3l-3 1l-4 2l-4 1l-4 1l-4 -1l-4 1M552 230l-4 1l-4 1l-4 0M563 226l-3 2l-4 2l-3 1l-4 1l-4 0l-4 0M685 206l-4 -1l-3 -1l-4 -1l-4 -2l-3 -2l-4 -1l-4 -2l-4 -1l-3 -1l-4 -2l-4 -1l-4 -1l-3 -2l-4 -2l-3 -2l-4 -1M644 191l-4 -1l-3 -2l-4 -2l-3 -2l-3 -2l-3 -3M627 182l-4 0l-4 -1M838 224l-3 1l-4 0l-4 1l-4 0l-4 0l-4 1l-4 1l-4 1l-4 1l-3 2l-4 2l-3 1M819 226l-4 2l-4 1l-4 0l-4 1l-3 2l-4 1M803 230l-4 0l-4 1l-4 0M819 226l-4 -1l-4 -1l-4 0l-4 -2l-3 -1l-4 -1l-4 -1M807 224l-3 -3l-3 -2l-3 -3l-3 -2M807 224l-3 -2l-4 -3l-3 -2l-4 -2M710 215l-4 0l-4 0l-4 0l-4 0l-4 -1l-4 0l-4 -2l-3 -1l-4 0l-4 0M698 215l-4 -1l-4 0l-4 -1l-4 1l-4 1l-4 0M690 214l-3 1l-4 2l-3 2M690 214l-3 1l-4 2l-4 0l-4 0M698 215l-4 1l-3 1l-4 2l-4 1l-4 1l-4 1M694 216l-3 2l-3 2l-4 2l-3 2M640 221l4 0l4 1l4 1l3 1l4 1l4 1l4 1l4 0l4 -1l4 -1l4 -1l4 0M655 224l4 -1l4 -2l3 -2l4 -2l3 -3l3 -2l4 -2M670 217l3 -2l4 -2l3 -1M673 214l4 1l4 0M516 221l4 0l4 0l4 0l4 0l4 0l4 0l4 1M536 221l4 -1l4 0M540 220l4 1l4 1M544 220l4 1l4 1M698 202l-4 0l-4 0l-4 -1l-4 -1l-3 0l-4 -1l-4 -1l-4 -1l-4 -1l-4 -1l-4 0M667 197l-4 0l-4 -1l-3 -2M656 194l-4 0l-4 1M663 197l-4 2l-3 2M671 198l-4 1l-4 0l-4 1l-4 0M663 199l-4 1l-4 1M701 214l4 0l4 -1l4 1l4 0l4 0l4 0l4 0l4 0l4 0l4 0l3 -1l4 -1M729 214l3 -2l4 -2l3 -2l4 -1l3 -3M732 212l4 0l4 -1l4 0l4 0M743 207l3 -3l2 -3M651 210l4 1l4 1l4 0l4 -1l4 0l4 0l4 1l3 2l4 1l4 2l3 1l4 2l4 2M667 211l3 -2l4 -2l4 0l4 -1l4 -1l3 -1l4 -1l4 -1l4 -1l4 -2M678 207l4 0l3 2l4 2l3 2l4 1l4 1l4 1l4 1M674 207l2 -3l3 -3l2 -3l3 -3l3 -3l3 -3l3 -2l3 -3M515 212l-4 -1l-4 -1l-4 -1l-3 -2l-4 0l-4 -2l-4 -1l-3 -2M492 205l-4 2l-3 2M488 207l-4 0l-4 1M492 205l-4 1l-4 2M514 213l4 0l4 -1l4 -2l3 -1l4 -1l4 0l4 0l4 1l4 0M533 208l4 0l4 0l4 0l4 -1M545 208l4 1l4 0M537 208l4 0l4 -1l4 1M534 212l4 0l4 0l4 -1l3 0l4 -1l4 0l4 -2l4 -1l4 -1l4 -1M553 210l4 0l4 1l4 1l4 1l4 2M565 212l4 -2l4 -1M561 211l4 1l4 2l4 0M546 211l3 1l4 1l4 -1l4 -1l4 0l4 0M553 213l4 0l4 1l4 0l4 0M549 212l4 1l4 0l4 1l4 1M670 218l-4 1l-4 0l-4 0l-4 0l-3 -2l-4 -1l-4 0l-4 -1l-4 -1l-4 -1l-4 0l-4 -1M639 215l-4 -2l-4 -1l-4 -1M631 212l-3 -2l-4 -1M485 210l-4 0l-4 -1l-4 0l-4 0l-4 0l-4 1l-4 0l-4 -1l-4 0l-4 -1l-4 0M469 209l-4 -1l-4 0l-4 -1l-4 -1l-3 -1l-4 -1l-4 -2M450 205l-4 1l-4 2M446 204l-4 1l-4 1M654 221l-4 0l-4 0l-4 -1l-4 0l-4 0l-4 1l-4 -1l-4 -1l-4 0l-3 -2M634 220l-4 -1l-3 -2l-4 -1l-4 -2l-3 -1M630 219l-3 -2l-4 -1l-4 -1l-3 -2M619 214l-4 0l-3 -1M771 207l4 -1l4 -1l4 -1l4 -1l4 0l3 -2l4 -1l3 -3l3 -2M791 203l3 2l4 1l4 1l3 1l4 1M794 205l3 2l2 4l3 3l3 2M783 204l3 2l4 2l3 2l4 2l3 1l4 2M793 210l3 3l3 3l3 2M797 212l4 0l4 0M504 205l4 1l4 1l4 0l3 0l4 0l4 -1l4 0l4 0M519 207l4 1l4 1l4 1l4 1M523 208l3 2l4 2l3 2M531 210l4 1l4 1M726 223l-4 0l-4 0l-4 0l-4 -1l-4 0l-4 0l-4 -1l-3 0l-4 -2M718 223l-3 2l-4 0l-4 -1l-4 -2l-3 -3l-3 -2l-4 -1M703 222l-4 0l-4 0l-4 1l-3 0" fill="none" stroke="#262626" stroke-width="0.9" opacity="0.7" stroke-linecap="round"/>
</g>
<path d="M720.5 124.5h0M812.5 165.5h0M804.5 119.5h0M773.5 212.5h0M671.5 262.5h0M538.5 270.5h0M568.5 94.5h0M585.5 242.5h0M824.5 157.5h0M631.5 268.5h0M535.5 300.5h0M778.5 298.5h0M551.5 153.5h0M605.5 255.5h0M541.5 81.5h0M666.5 140.5h0M769.5 259.5h0M480.5 259.5h0M617.5 261.5h0M541.5 206.5h0M762.5 250.5h0M543.5 172.5h0M606.5 206.5h0M758.5 283.5h0M675.5 210.5h0M563.5 233.5h0M819.5 73.5h0M765.5 248.5h0M520.5 296.5h0M832.5 283.5h0M713.5 250.5h0M594.5 194.5h0M860.5 260.5h0M565.5 157.5h0M644.5 82.5h0M662.5 218.5h0M557.5 201.5h0M541.5 276.5h0M728.5 181.5h0M881.5 258.5h0M810.5 173.5h0M678.5 128.5h0M775.5 277.5h0M575.5 82.5h0M731.5 252.5h0M746.5 149.5h0M724.5 118.5h0M823.5 272.5h0M719.5 248.5h0M520.5 126.5h0M605.5 77.5h0M508.5 125.5h0M794.5 229.5h0M678.5 164.5h0M661.5 294.5h0M578.5 262.5h0M596.5 290.5h0M540.5 120.5h0M753.5 115.5h0M509.5 259.5h0M687.5 203.5h0M866.5 104.5h0M812.5 285.5h0M803.5 252.5h0M528.5 197.5h0M684.5 245.5h0M748.5 303.5h0M790.5 238.5h0M593.5 83.5h0M498.5 242.5h0M726.5 305.5h0M867.5 117.5h0M743.5 118.5h0M719.5 90.5h0M765.5 170.5h0M795.5 231.5h0M652.5 196.5h0M650.5 207.5h0M622.5 128.5h0M645.5 113.5h0M818.5 110.5h0M889.5 258.5h0M826.5 185.5h0M565.5 118.5h0M520.5 260.5h0M602.5 147.5h0M835.5 234.5h0M664.5 87.5h0M507.5 147.5h0M803.5 198.5h0M597.5 172.5h0M683.5 97.5h0M827.5 148.5h0M615.5 137.5h0M541.5 95.5h0M643.5 240.5h0M863.5 277.5h0M840.5 80.5h0M864.5 301.5h0M664.5 146.5h0M686.5 293.5h0M887.5 291.5h0M805.5 282.5h0M710.5 198.5h0M619.5 151.5h0M837.5 285.5h0M510.5 288.5h0M777.5 225.5h0M568.5 98.5h0M723.5 129.5h0M735.5 224.5h0M575.5 222.5h0M826.5 186.5h0M708.5 291.5h0M873.5 272.5h0M868.5 138.5h0M862.5 242.5h0M778.5 220.5h0M679.5 256.5h0M695.5 253.5h0M765.5 196.5h0M716.5 117.5h0M739.5 166.5h0M882.5 190.5h0M847.5 189.5h0M594.5 246.5h0M879.5 296.5h0M580.5 277.5h0M856.5 296.5h0M841.5 89.5h0M723.5 299.5h0M872.5 249.5h0M665.5 304.5h0M518.5 216.5h0M561.5 275.5h0M513.5 278.5h0M862.5 96.5h0M749.5 178.5h0M498.5 230.5h0M829.5 126.5h0M554.5 264.5h0M513.5 101.5h0M726.5 99.5h0M565.5 241.5h0M722.5 90.5h0M858.5 234.5h0M635.5 250.5h0M518.5 274.5h0M881.5 146.5h0M617.5 191.5h0M833.5 250.5h0M628.5 266.5h0M478.5 272.5h0M871.5 308.5h0M811.5 99.5h0M690.5 306.5h0M735.5 290.5h0M872.5 105.5h0M823.5 232.5h0M874.5 304.5h0M725.5 203.5h0M524.5 150.5h0M831.5 80.5h0M679.5 103.5h0M497.5 95.5h0M582.5 193.5h0M866.5 112.5h0M563.5 227.5h0M571.5 92.5h0M691.5 248.5h0M594.5 251.5h0M535.5 290.5h0M685.5 213.5h0M737.5 142.5h0M761.5 103.5h0M498.5 158.5h0M796.5 100.5h0M610.5 139.5h0M520.5 298.5h0M706.5 100.5h0M662.5 287.5h0M827.5 166.5h0M549.5 261.5h0M641.5 144.5h0M825.5 146.5h0M634.5 122.5h0M797.5 276.5h0M485.5 288.5h0M860.5 203.5h0M620.5 214.5h0M495.5 301.5h0M600.5 81.5h0M746.5 295.5h0M540.5 290.5h0M591.5 197.5h0M767.5 262.5h0M607.5 275.5h0M514.5 284.5h0M733.5 168.5h0M723.5 180.5h0M498.5 260.5h0M835.5 185.5h0M854.5 142.5h0M560.5 201.5h0M834.5 290.5h0M489.5 172.5h0M538.5 301.5h0M542.5 75.5h0M641.5 268.5h0M508.5 191.5h0M524.5 233.5h0M882.5 281.5h0M710.5 252.5h0M781.5 241.5h0M626.5 250.5h0M666.5 98.5h0M534.5 298.5h0M753.5 242.5h0M827.5 140.5h0M760.5 199.5h0M653.5 226.5h0M686.5 169.5h0M530.5 90.5h0M748.5 297.5h0M704.5 200.5h0M614.5 81.5h0M657.5 244.5h0M537.5 196.5h0M557.5 252.5h0M691.5 164.5h0M792.5 218.5h0M640.5 277.5h0M758.5 263.5h0M638.5 275.5h0M721.5 196.5h0M850.5 305.5h0M862.5 218.5h0M800.5 240.5h0M643.5 188.5h0M651.5 282.5h0M641.5 148.5h0M804.5 106.5h0M584.5 154.5h0M891.5 196.5h0M557.5 148.5h0M775.5 259.5h0M721.5 237.5h0M678.5 164.5h0M789.5 216.5h0M791.5 137.5h0M554.5 192.5h0M602.5 75.5h0M506.5 171.5h0M616.5 150.5h0M515.5 289.5h0M806.5 132.5h0M536.5 301.5h0M857.5 239.5h0M629.5 211.5h0M526.5 289.5h0M885.5 278.5h0M653.5 171.5h0M716.5 182.5h0M835.5 252.5h0M854.5 233.5h0M542.5 214.5h0M497.5 245.5h0M538.5 280.5h0M781.5 253.5h0M756.5 275.5h0M512.5 246.5h0M742.5 229.5h0M584.5 150.5h0M585.5 287.5h0M530.5 115.5h0M651.5 275.5h0M889.5 114.5h0M482.5 262.5h0M824.5 187.5h0M742.5 230.5h0M760.5 277.5h0M673.5 294.5h0M797.5 203.5h0M625.5 97.5h0M538.5 153.5h0M677.5 283.5h0M510.5 206.5h0M559.5 155.5h0M678.5 161.5h0M797.5 300.5h0M699.5 145.5h0M581.5 213.5h0M521.5 74.5h0M756.5 218.5h0M876.5 177.5h0M517.5 267.5h0M715.5 296.5h0M616.5 143.5h0M536.5 87.5h0M509.5 265.5h0M571.5 123.5h0M884.5 108.5h0M715.5 123.5h0M849.5 255.5h0M670.5 113.5h0M720.5 115.5h0M745.5 175.5h0M772.5 251.5h0M585.5 239.5h0M552.5 114.5h0M856.5 83.5h0M828.5 183.5h0M491.5 100.5h0M769.5 109.5h0M586.5 127.5h0M811.5 298.5h0M557.5 264.5h0M560.5 248.5h0M810.5 146.5h0M507.5 307.5h0M749.5 154.5h0M669.5 205.5h0M778.5 128.5h0M602.5 166.5h0M755.5 244.5h0M748.5 192.5h0M664.5 267.5h0M781.5 184.5h0M505.5 188.5h0M651.5 196.5h0M642.5 185.5h0M653.5 233.5h0M618.5 114.5h0M754.5 175.5h0M660.5 275.5h0M866.5 78.5h0M644.5 145.5h0M890.5 277.5h0M686.5 204.5h0M603.5 206.5h0M658.5 81.5h0M540.5 97.5h0M844.5 194.5h0M786.5 272.5h0M659.5 176.5h0M820.5 252.5h0M481.5 172.5h0M866.5 74.5h0M478.5 247.5h0M850.5 153.5h0M519.5 94.5h0M815.5 200.5h0M504.5 161.5h0M781.5 95.5h0M587.5 121.5h0M567.5 139.5h0M789.5 245.5h0M519.5 267.5h0M529.5 241.5h0M563.5 230.5h0M611.5 82.5h0M619.5 232.5h0M646.5 159.5h0M573.5 218.5h0M837.5 177.5h0M546.5 191.5h0M693.5 244.5h0M756.5 227.5h0M654.5 177.5h0M889.5 254.5h0M687.5 111.5h0M633.5 119.5h0M512.5 266.5h0M568.5 125.5h0M640.5 103.5h0M514.5 224.5h0M745.5 83.5h0M656.5 127.5h0M770.5 159.5h0M685.5 287.5h0M527.5 255.5h0M496.5 150.5h0M482.5 168.5h0M757.5 213.5h0M600.5 159.5h0M562.5 154.5h0M738.5 172.5h0M531.5 184.5h0M881.5 174.5h0M732.5 142.5h0M756.5 167.5h0M477.5 102.5h0M661.5 185.5h0M737.5 141.5h0M861.5 241.5h0M675.5 251.5h0M679.5 238.5h0M501.5 194.5h0M785.5 142.5h0M575.5 174.5h0M890.5 247.5h0M657.5 127.5h0M821.5 231.5h0M593.5 307.5h0M671.5 112.5h0M790.5 229.5h0M498.5 181.5h0M865.5 194.5h0M520.5 92.5h0M507.5 149.5h0M797.5 213.5h0M851.5 92.5h0M670.5 79.5h0M549.5 169.5h0M668.5 269.5h0M668.5 265.5h0M654.5 107.5h0M829.5 115.5h0M842.5 82.5h0M596.5 221.5h0M685.5 80.5h0M614.5 302.5h0M833.5 200.5h0M545.5 94.5h0M571.5 267.5h0M806.5 99.5h0M521.5 266.5h0M780.5 157.5h0M774.5 124.5h0M586.5 256.5h0M658.5 117.5h0M522.5 237.5h0M764.5 252.5h0M504.5 124.5h0M527.5 221.5h0M534.5 135.5h0M654.5 86.5h0M636.5 294.5h0M861.5 129.5h0M710.5 179.5h0M790.5 249.5h0M760.5 98.5h0M619.5 301.5h0M495.5 257.5h0M882.5 241.5h0M601.5 201.5h0M690.5 225.5h0M548.5 260.5h0M867.5 140.5h0M656.5 284.5h0M562.5 171.5h0M736.5 145.5h0M861.5 192.5h0M625.5 301.5h0M610.5 235.5h0M630.5 141.5h0M658.5 230.5h0M693.5 294.5h0M812.5 197.5h0M578.5 285.5h0M700.5 128.5h0M860.5 169.5h0M620.5 290.5h0M888.5 182.5h0M873.5 305.5h0M727.5 135.5h0M540.5 191.5h0M691.5 251.5h0M530.5 300.5h0M883.5 97.5h0M693.5 80.5h0M787.5 103.5h0M624.5 151.5h0M775.5 162.5h0M783.5 208.5h0M836.5 117.5h0M607.5 177.5h0M770.5 180.5h0M668.5 298.5h0M559.5 77.5h0M706.5 206.5h0M698.5 245.5h0M662.5 173.5h0M607.5 116.5h0M651.5 197.5h0M627.5 123.5h0M736.5 194.5h0M486.5 158.5h0M624.5 199.5h0M869.5 127.5h0M665.5 297.5h0M820.5 227.5h0M693.5 243.5h0M757.5 280.5h0M792.5 127.5h0M748.5 278.5h0M592.5 197.5h0M790.5 77.5h0M577.5 213.5h0M605.5 266.5h0M552.5 192.5h0M647.5 113.5h0M825.5 154.5h0M513.5 142.5h0M788.5 235.5h0M552.5 173.5h0M572.5 143.5h0M795.5 128.5h0M482.5 203.5h0M542.5 190.5h0M676.5 126.5h0M563.5 276.5h0M519.5 277.5h0M706.5 228.5h0M773.5 258.5h0M610.5 97.5h0M571.5 195.5h0M680.5 197.5h0M551.5 176.5h0M595.5 79.5h0M766.5 174.5h0M564.5 305.5h0M644.5 166.5h0M676.5 106.5h0M518.5 148.5h0M793.5 300.5h0M653.5 166.5h0M568.5 89.5h0M809.5 235.5h0M590.5 170.5h0M864.5 117.5h0M570.5 166.5h0M785.5 197.5h0M570.5 78.5h0M699.5 178.5h0M499.5 223.5h0M547.5 227.5h0M547.5 201.5h0M859.5 86.5h0M723.5 148.5h0M666.5 79.5h0M494.5 273.5h0M647.5 100.5h0M649.5 224.5h0M489.5 269.5h0M619.5 130.5h0M826.5 182.5h0M528.5 116.5h0M773.5 201.5h0M657.5 247.5h0M614.5 112.5h0M741.5 123.5h0M591.5 86.5h0M740.5 232.5h0M835.5 114.5h0M791.5 135.5h0M684.5 194.5h0M778.5 97.5h0M649.5 261.5h0M581.5 85.5h0M671.5 151.5h0M803.5 187.5h0M768.5 235.5h0M511.5 229.5h0M640.5 181.5h0M745.5 170.5h0M508.5 216.5h0M748.5 298.5h0M872.5 81.5h0M759.5 94.5h0M773.5 305.5h0M634.5 272.5h0M774.5 189.5h0M853.5 141.5h0M610.5 260.5h0M646.5 100.5h0M717.5 214.5h0M640.5 134.5h0M602.5 256.5h0M726.5 98.5h0M861.5 171.5h0M718.5 302.5h0M621.5 235.5h0M711.5 218.5h0M648.5 263.5h0M685.5 174.5h0M731.5 233.5h0M552.5 149.5h0M608.5 199.5h0M890.5 280.5h0M647.5 171.5h0M578.5 250.5h0M633.5 114.5h0M803.5 241.5h0M619.5 258.5h0M744.5 211.5h0M867.5 156.5h0M716.5 211.5h0M625.5 288.5h0M680.5 183.5h0M489.5 176.5h0M854.5 76.5h0M741.5 94.5h0M695.5 245.5h0M498.5 247.5h0M523.5 151.5h0M591.5 191.5h0M771.5 222.5h0M673.5 88.5h0M830.5 183.5h0M851.5 73.5h0M854.5 232.5h0M662.5 196.5h0M631.5 131.5h0M722.5 99.5h0M531.5 218.5h0M870.5 306.5h0M667.5 259.5h0M618.5 306.5h0M617.5 136.5h0M630.5 212.5h0M591.5 113.5h0M825.5 89.5h0M656.5 148.5h0M700.5 213.5h0M663.5 140.5h0M484.5 209.5h0M841.5 195.5h0M756.5 141.5h0M790.5 142.5h0M770.5 152.5h0M518.5 238.5h0M872.5 167.5h0M863.5 287.5h0M830.5 200.5h0M810.5 217.5h0M844.5 115.5h0M650.5 117.5h0M611.5 76.5h0M672.5 188.5h0M666.5 111.5h0M493.5 306.5h0M671.5 91.5h0M568.5 251.5h0M511.5 233.5h0M608.5 290.5h0M555.5 276.5h0M614.5 301.5h0M805.5 237.5h0M797.5 122.5h0M863.5 135.5h0M697.5 161.5h0M536.5 295.5h0M648.5 261.5h0M608.5 157.5h0M653.5 117.5h0M505.5 172.5h0M630.5 194.5h0M506.5 81.5h0M613.5 138.5h0M502.5 198.5h0M797.5 190.5h0M883.5 205.5h0M481.5 186.5h0M750.5 226.5h0M728.5 95.5h0M765.5 103.5h0M505.5 80.5h0M702.5 92.5h0M859.5 129.5h0M685.5 141.5h0M485.5 296.5h0M603.5 219.5h0M843.5 255.5h0M534.5 163.5h0M851.5 158.5h0M752.5 178.5h0M789.5 229.5h0M636.5 273.5h0M602.5 147.5h0M765.5 131.5h0M677.5 249.5h0M570.5 149.5h0M695.5 219.5h0M536.5 110.5h0M579.5 153.5h0M810.5 170.5h0M707.5 111.5h0M776.5 264.5h0M721.5 263.5h0M721.5 216.5h0M594.5 78.5h0M720.5 153.5h0M794.5 187.5h0M567.5 93.5h0M580.5 222.5h0M705.5 89.5h0M675.5 158.5h0M890.5 273.5h0M806.5 127.5h0M843.5 157.5h0M746.5 266.5h0M572.5 295.5h0M599.5 224.5h0M861.5 113.5h0M529.5 259.5h0M709.5 93.5h0M889.5 258.5h0M794.5 253.5h0M500.5 112.5h0M492.5 191.5h0M485.5 89.5h0M868.5 104.5h0M810.5 205.5h0M622.5 207.5h0M766.5 152.5h0M694.5 235.5h0M724.5 151.5h0M614.5 125.5h0M651.5 73.5h0M575.5 134.5h0M545.5 91.5h0M637.5 197.5h0M571.5 167.5h0M815.5 282.5h0M618.5 82.5h0M544.5 161.5h0M552.5 125.5h0M746.5 272.5h0M793.5 199.5h0M688.5 229.5h0M550.5 127.5h0M768.5 218.5h0M623.5 110.5h0M615.5 225.5h0M581.5 235.5h0M878.5 75.5h0M527.5 242.5h0M797.5 99.5h0M606.5 274.5h0M559.5 164.5h0M869.5 175.5h0M847.5 192.5h0M708.5 192.5h0M684.5 259.5h0M527.5 137.5h0M825.5 193.5h0M862.5 307.5h0M566.5 255.5h0M505.5 225.5h0M598.5 193.5h0M609.5 112.5h0M740.5 271.5h0M681.5 193.5h0M627.5 300.5h0M531.5 279.5h0M605.5 111.5h0M653.5 210.5h0M505.5 114.5h0M691.5 123.5h0M832.5 98.5h0M502.5 301.5h0M779.5 283.5h0M687.5 167.5h0M737.5 201.5h0M591.5 116.5h0M853.5 124.5h0M492.5 171.5h0M601.5 194.5h0M528.5 184.5h0M609.5 126.5h0M843.5 120.5h0M813.5 293.5h0M713.5 237.5h0M832.5 286.5h0M787.5 150.5h0M576.5 174.5h0M783.5 233.5h0M624.5 172.5h0M812.5 260.5h0M697.5 99.5h0M600.5 139.5h0M665.5 195.5h0M659.5 305.5h0M834.5 104.5h0M785.5 194.5h0M512.5 140.5h0M696.5 166.5h0M801.5 255.5h0M572.5 72.5h0M592.5 221.5h0M848.5 288.5h0M614.5 78.5h0M540.5 197.5h0M864.5 76.5h0M515.5 146.5h0M837.5 161.5h0M543.5 103.5h0M840.5 200.5h0M799.5 183.5h0M562.5 99.5h0M513.5 101.5h0M648.5 96.5h0M823.5 288.5h0M747.5 308.5h0M739.5 278.5h0M793.5 171.5h0M834.5 226.5h0M718.5 182.5h0M595.5 114.5h0M572.5 215.5h0M760.5 132.5h0M641.5 215.5h0M750.5 175.5h0M617.5 279.5h0M568.5 231.5h0M668.5 124.5h0M688.5 306.5h0M522.5 202.5h0M685.5 133.5h0M512.5 217.5h0M612.5 217.5h0M662.5 291.5h0M618.5 221.5h0M722.5 168.5h0M659.5 172.5h0M751.5 200.5h0M754.5 298.5h0M668.5 216.5h0M644.5 177.5h0M481.5 165.5h0M711.5 91.5h0M754.5 193.5h0M888.5 185.5h0M732.5 256.5h0M878.5 125.5h0M775.5 299.5h0M700.5 157.5h0M669.5 130.5h0M503.5 152.5h0M493.5 166.5h0M657.5 74.5h0M699.5 220.5h0M593.5 148.5h0M633.5 292.5h0M619.5 149.5h0M512.5 262.5h0M706.5 165.5h0M599.5 192.5h0M517.5 144.5h0M563.5 248.5h0M803.5 214.5h0M534.5 101.5h0M513.5 195.5h0M793.5 159.5h0M621.5 292.5h0M602.5 142.5h0M739.5 83.5h0M859.5 216.5h0M873.5 195.5h0M734.5 177.5h0M730.5 108.5h0M778.5 74.5h0M741.5 106.5h0M756.5 264.5h0M501.5 87.5h0M622.5 151.5h0M721.5 278.5h0M538.5 101.5h0M887.5 229.5h0M887.5 175.5h0M655.5 84.5h0M715.5 300.5h0M645.5 242.5h0M573.5 297.5h0M533.5 141.5h0M727.5 228.5h0M663.5 144.5h0M698.5 228.5h0M833.5 244.5h0M648.5 304.5h0M684.5 228.5h0M594.5 112.5h0M578.5 276.5h0M712.5 136.5h0M597.5 265.5h0M610.5 121.5h0M652.5 284.5h0M864.5 261.5h0M836.5 163.5h0M584.5 194.5h0M478.5 290.5h0M572.5 101.5h0M713.5 101.5h0M818.5 174.5h0M689.5 281.5h0M648.5 294.5h0M690.5 163.5h0M528.5 178.5h0M772.5 91.5h0" stroke="#1e1e1e" stroke-width="1.5" stroke-linecap="round" opacity="0.8"/>
<g filter="url(#bl2)">
<polygon points="470.0,60.0 650.0,60.0 655.0,72.0 700.0,89.7 750.0,99.0 800.0,107.4 850.0,118.0 900.0,129.0 900.0,142.0 900.0,136.0 850.0,133.0 800.0,129.5 750.0,123.0 700.0,116.0 640.0,104.0 580.0,93.0 520.0,85.0 470.0,82.0" fill="#f6f6f6" />
<polygon points="470.0,288.0 540.0,286.0 620.0,290.0 700.0,301.0 760.0,302.0 820.0,299.0 850.0,284.0 875.0,266.0 900.0,249.0 900.0,320.0 470.0,320.0" fill="#fbfbfb" />
</g>
<g fill="#151515"><ellipse cx="489.1" cy="159.4" rx="1.9" ry="3.6" transform="rotate(7 489.1 159.4)"/><ellipse cx="520.1" cy="165.7" rx="2.0" ry="2.9" transform="rotate(29 520.1 165.7)"/><ellipse cx="557.7" cy="172.0" rx="1.9" ry="3.6" transform="rotate(31 557.7 172.0)"/><ellipse cx="575.1" cy="169.9" rx="1.8" ry="3.1" transform="rotate(-24 575.1 169.9)"/><ellipse cx="585.5" cy="169.9" rx="1.7" ry="2.9" transform="rotate(-11 585.5 169.9)"/><ellipse cx="622.7" cy="182.5" rx="2.2" ry="2.9" transform="rotate(11 622.7 182.5)"/><ellipse cx="661.1" cy="186.7" rx="2.2" ry="3.4" transform="rotate(10 661.1 186.7)"/><ellipse cx="706.6" cy="190.9" rx="2.2" ry="2.9" transform="rotate(-31 706.6 190.9)"/><ellipse cx="726.2" cy="195.1" rx="2.4" ry="3.3" transform="rotate(-24 726.2 195.1)"/><ellipse cx="744.6" cy="205.6" rx="2.3" ry="3.0" transform="rotate(-27 744.6 205.6)"/><ellipse cx="788.0" cy="203.5" rx="1.8" ry="3.6" transform="rotate(32 788.0 203.5)"/><ellipse cx="807.7" cy="188.8" rx="2.0" ry="4.0" transform="rotate(14 807.7 188.8)"/><ellipse cx="769.9" cy="180.4" rx="2.0" ry="3.4" transform="rotate(0 769.9 180.4)"/><ellipse cx="515.9" cy="207.7" rx="2.2" ry="3.7" transform="rotate(34 515.9 207.7)"/><ellipse cx="560.2" cy="211.9" rx="2.1" ry="2.8" transform="rotate(-34 560.2 211.9)"/><ellipse cx="572.8" cy="218.2" rx="1.8" ry="3.9" transform="rotate(31 572.8 218.2)"/><ellipse cx="588.1" cy="220.3" rx="1.7" ry="3.9" transform="rotate(-29 588.1 220.3)"/><ellipse cx="597.9" cy="209.8" rx="2.0" ry="3.9" transform="rotate(-32 597.9 209.8)"/><ellipse cx="623.3" cy="216.1" rx="1.9" ry="3.1" transform="rotate(-29 623.3 216.1)"/><ellipse cx="641.7" cy="220.3" rx="2.1" ry="3.3" transform="rotate(-3 641.7 220.3)"/><ellipse cx="652.5" cy="226.6" rx="1.9" ry="3.5" transform="rotate(-5 652.5 226.6)"/><ellipse cx="664.7" cy="222.4" rx="1.9" ry="3.5" transform="rotate(4 664.7 222.4)"/><ellipse cx="703.1" cy="224.5" rx="2.3" ry="3.5" transform="rotate(16 703.1 224.5)"/><ellipse cx="732.5" cy="220.3" rx="1.8" ry="2.8" transform="rotate(21 732.5 220.3)"/><ellipse cx="753.2" cy="230.8" rx="1.7" ry="3.7" transform="rotate(24 753.2 230.8)"/><ellipse cx="770.5" cy="226.6" rx="1.6" ry="3.9" transform="rotate(7 770.5 226.6)"/><ellipse cx="786.6" cy="232.9" rx="2.3" ry="3.0" transform="rotate(18 786.6 232.9)"/><ellipse cx="824.1" cy="201.4" rx="2.0" ry="3.4" transform="rotate(-11 824.1 201.4)"/><ellipse cx="484.7" cy="146.8" rx="1.9" ry="3.5" transform="rotate(-25 484.7 146.8)"/><ellipse cx="526.2" cy="142.6" rx="1.7" ry="3.6" transform="rotate(-12 526.2 142.6)"/><ellipse cx="614.7" cy="142.6" rx="2.3" ry="3.8" transform="rotate(20 614.7 142.6)"/></g>
<g fill="#1a1a1a"><ellipse cx="537.2" cy="170.7" rx="2.1" ry="4.1" transform="rotate(-2 537.2 170.7)"/><ellipse cx="547.1" cy="168.7" rx="2.0" ry="3.7" transform="rotate(-7 547.1 168.7)"/><ellipse cx="563.7" cy="169.2" rx="1.9" ry="3.7" transform="rotate(-1 563.7 169.2)"/><ellipse cx="574.6" cy="174.7" rx="2.4" ry="3.3" transform="rotate(15 574.6 174.7)"/><ellipse cx="790.4" cy="204.3" rx="2.2" ry="3.6" transform="rotate(-12 790.4 204.3)"/><ellipse cx="799.8" cy="208.6" rx="2.2" ry="3.1" transform="rotate(4 799.8 208.6)"/><ellipse cx="847.2" cy="219.4" rx="2.2" ry="4.2" transform="rotate(1 847.2 219.4)"/><ellipse cx="568.0" cy="212.0" rx="2.5" ry="3.8" transform="rotate(178 568.0 212.0)"/><ellipse cx="595.0" cy="216.2" rx="2.1" ry="3.8" transform="rotate(177 595.0 216.2)"/><ellipse cx="665.2" cy="224.0" rx="2.1" ry="3.1" transform="rotate(160 665.2 224.0)"/><ellipse cx="712.4" cy="224.1" rx="2.5" ry="4.0" transform="rotate(186 712.4 224.1)"/><ellipse cx="719.3" cy="225.9" rx="2.6" ry="3.8" transform="rotate(182 719.3 225.9)"/><ellipse cx="771.4" cy="230.9" rx="2.4" ry="3.8" transform="rotate(176 771.4 230.9)"/><ellipse cx="778.7" cy="236.0" rx="1.9" ry="4.1" transform="rotate(178 778.7 236.0)"/><ellipse cx="821.6" cy="231.0" rx="2.2" ry="3.9" transform="rotate(165 821.6 231.0)"/></g>
<path d="M792.5 150.5h0M584.5 155.5h0M628.5 86.5h0M772.5 283.5h0M675.5 166.5h0M766.5 252.5h0M615.5 249.5h0M844.5 127.5h0M654.5 127.5h0M853.5 293.5h0M862.5 202.5h0M797.5 127.5h0M710.5 138.5h0M837.5 228.5h0M690.5 177.5h0M765.5 79.5h0M855.5 73.5h0M553.5 283.5h0M649.5 276.5h0M594.5 300.5h0M532.5 204.5h0M544.5 131.5h0M622.5 228.5h0M544.5 189.5h0M627.5 274.5h0M697.5 206.5h0M724.5 132.5h0M571.5 247.5h0M492.5 204.5h0M856.5 305.5h0M776.5 242.5h0M617.5 182.5h0M648.5 165.5h0M762.5 174.5h0M680.5 96.5h0M842.5 84.5h0M870.5 202.5h0M614.5 304.5h0M854.5 81.5h0M773.5 168.5h0M681.5 290.5h0M748.5 102.5h0M830.5 200.5h0M804.5 85.5h0M887.5 203.5h0M542.5 305.5h0M676.5 108.5h0M845.5 89.5h0M787.5 114.5h0M485.5 104.5h0M801.5 215.5h0M520.5 276.5h0M769.5 287.5h0M715.5 212.5h0M718.5 274.5h0M514.5 286.5h0M784.5 244.5h0M711.5 287.5h0M756.5 151.5h0M658.5 143.5h0M478.5 217.5h0M717.5 261.5h0M801.5 105.5h0M525.5 100.5h0M790.5 89.5h0M885.5 138.5h0M722.5 273.5h0M867.5 149.5h0M726.5 204.5h0M709.5 206.5h0M887.5 174.5h0M603.5 265.5h0M739.5 138.5h0M849.5 74.5h0M670.5 137.5h0M814.5 226.5h0M682.5 209.5h0M624.5 250.5h0M738.5 86.5h0M492.5 121.5h0M791.5 91.5h0M565.5 93.5h0M492.5 145.5h0M886.5 130.5h0M868.5 114.5h0M732.5 150.5h0M496.5 149.5h0M663.5 227.5h0M764.5 115.5h0M883.5 201.5h0M697.5 285.5h0M780.5 83.5h0M594.5 192.5h0M581.5 285.5h0M690.5 197.5h0M607.5 214.5h0M827.5 125.5h0M685.5 180.5h0M659.5 294.5h0M774.5 237.5h0M638.5 144.5h0M634.5 297.5h0M548.5 229.5h0M527.5 195.5h0M537.5 302.5h0M800.5 79.5h0M818.5 208.5h0M695.5 266.5h0M601.5 86.5h0M865.5 119.5h0M723.5 125.5h0M781.5 101.5h0M873.5 112.5h0M514.5 72.5h0M820.5 129.5h0M482.5 150.5h0M849.5 240.5h0M884.5 178.5h0M539.5 279.5h0M585.5 110.5h0" stroke="#333" stroke-width="1.4" stroke-linecap="round" opacity="0.7"/>
<rect x="813.7" y="290.5" width="54.7" height="3.2" fill="#000"/>
</g>
<rect x="476.5" y="72.5" width="415.0" height="236.0" fill="none" stroke="#3a3a3a" stroke-width="1.0"/>
<text transform="translate(204.52,379.80) scale(0.9740,1)" font-size="23.59" font-weight="bold" fill="#000">1 day</text>
<text transform="translate(486.71,379.30) scale(1.0054,1)" font-size="23.03" font-weight="bold" fill="#000">8 days</text>
<text transform="translate(770.62,379.40) scale(1.0254,1)" font-size="22.48" font-weight="bold" fill="#000">16 days</text>
<text transform="translate(37.45,479.10) scale(0.9734,1)" font-size="24.29" font-weight="bold" fill="#000">CON</text>
<text transform="translate(24.19,652.40) scale(0.9589,1)" font-size="24.20" font-weight="bold" fill="#000">MPTP</text>
<defs><filter id="bl3" x="-100%" y="-100%" width="300%" height="300%"><feGaussianBlur stdDeviation="3"/></filter></defs>
<rect x="232.5" y="390.5" width="138.0" height="161.0" fill="#fff"/>
<defs><clipPath id="rg0"><rect x="233" y="391" width="134.5" height="156.39999999999998"/></clipPath></defs>
<g clip-path="url(#rg0)" fill="none" stroke="#ff3a3a" stroke-width="1.3"><ellipse cx="282.3" cy="521.6" rx="5.80" ry="5.60"/><ellipse cx="282.3" cy="521.6" rx="14.94" ry="14.43"/><ellipse cx="282.3" cy="521.6" rx="24.07" ry="23.26"/><ellipse cx="282.3" cy="521.6" rx="33.21" ry="32.09"/><ellipse cx="282.3" cy="521.6" rx="42.35" ry="40.92"/><ellipse cx="282.3" cy="521.6" rx="51.49" ry="49.75"/><ellipse cx="282.3" cy="521.6" rx="60.63" ry="58.58"/><ellipse cx="282.3" cy="521.6" rx="69.77" ry="67.41"/><ellipse cx="282.3" cy="521.6" rx="78.91" ry="76.24"/><ellipse cx="282.3" cy="521.6" rx="88.05" ry="85.07"/><ellipse cx="282.3" cy="521.6" rx="97.19" ry="93.90"/><ellipse cx="282.3" cy="521.6" rx="106.33" ry="102.73"/><ellipse cx="282.3" cy="521.6" rx="115.46" ry="111.56"/></g>
<path d="M281.2 521.8l-0.5 -3l-1.5 -3l-0.5 -3.5l-2 -3.5l-0.5 -3.5l-2 -3.5l-2 -2l-1.5 -3l-2.5 -2.5l-1 -3.5l-2 -3l-1.5 -3.5l-2 -3.5l-1.5 -2.5l-0.5 -3l0 -3.5l0.5 -3.5l0 -3M259.3 475.7l-4.5 -2.5l-5 -2.5M282.7 516.7l4.5 -2.5l1 -3l1 -3.5l0 -3l1 -2.5l-0.5 -4l0 -2l-0.5 -3l0.5 -3.5l0 -3l0 -3.5l0 -3l1 -3.5l1 -3l1.5 -3.5l1 -2.5l0.5 -4l1.5 -3l2.5 -3l0.5 -2.5l0.5 -3l2 -3.5l0 -2l1.5 -3.5l1 -3.5l1 -3.5l1 -2.5l1 -3.5l1.5 -4.5l0.5 -2.5l0.5 -1.5l-5 -1.5M285.6 516.0l3.5 -2.5l2.5 -2.5l2 -3l2.5 -2.5l3 -3.5l1.5 -3l1 -3l1.5 -3l2.5 -3.5l0.5 -2l0.5 -2.5l2.5 -2.5l1.5 -3l1.5 -2.5l1.5 -2.5l1 -3.5l2.5 -3l0.5 -3l2 -4l1 -3l0 -2.5l0.5 -3.5l1 -2.5l0 -3.5l1 -3.5l-1 -3l1 -3.5M288.5 515.2l3.5 -1l4 -1.5l3 -2l2.5 -2l3 -2l2.5 -2.5l4 -2.5l2.5 -2.5l2 -3l1.5 -3l2.5 -2.5l1 -4l1.5 -3.5l1.5 -3l1.5 -3.5l1.5 -3.5l2.5 -3l3.5 -1.5M273.9 513.8l4.5 1" fill="none" stroke="#1c1c1c" stroke-width="1.3" opacity="1.0" stroke-linejoin="round" stroke-linecap="round"/>
<ellipse cx="281.2" cy="521.8" rx="3.2" ry="4" fill="#111"/>
<path d="M279.2 521.8h4M281.2 519.8v4" stroke="#e00" stroke-width="0.9"/>
<rect x="523.0" y="390.5" width="136.5" height="161.0" fill="#fff"/>
<defs><clipPath id="rg1"><rect x="522.9" y="390.9" width="135.39999999999998" height="158.0"/></clipPath></defs>
<g clip-path="url(#rg1)" fill="none" stroke="#ff3a3a" stroke-width="1.3"><ellipse cx="598.3" cy="518.5" rx="7.00" ry="6.90"/><ellipse cx="598.3" cy="518.5" rx="17.33" ry="17.07"/><ellipse cx="598.3" cy="518.5" rx="27.65" ry="27.24"/><ellipse cx="598.3" cy="518.5" rx="37.97" ry="37.41"/><ellipse cx="598.3" cy="518.5" rx="48.29" ry="47.58"/><ellipse cx="598.3" cy="518.5" rx="58.62" ry="57.75"/><ellipse cx="598.3" cy="518.5" rx="68.94" ry="67.92"/><ellipse cx="598.3" cy="518.5" rx="79.26" ry="78.09"/><ellipse cx="598.3" cy="518.5" rx="89.58" ry="88.26"/><ellipse cx="598.3" cy="518.5" rx="99.91" ry="98.43"/><ellipse cx="598.3" cy="518.5" rx="110.23" ry="108.60"/><ellipse cx="598.3" cy="518.5" rx="120.55" ry="118.77"/><ellipse cx="598.3" cy="518.5" rx="130.87" ry="128.94"/></g>
<path d="M598.3 518.5l1 -3.5l1 -4l0.5 -6l-3.5 -2.5l-3 -2l-2.5 -3.5l-2 -3.5l-3 -1.5l-2.5 -1.5l-6 0l-2 -2.5l-1.5 -3l-2.5 -2.5l-1.5 -2.5l-1.5 -2l-2 -3.5l-1.5 -1.5l-2 -3l-2.5 -3l-2.5 -2.5l-2.5 -3.5l-2.5 -2l-2.5 -1.5l-3 -1.5l-2 -2l-3 -3.5l-3 -2.5l-4 -1.5l-4 -2M601.2 505.0l-2.5 -3l-2.5 -3l-1 -3.5l-1 -2l-1 -3.5l-1.5 -2.5l-1 -3.5l-1.5 -2l-1.5 -3.5l-1 -3l-1.5 -2.5l-0.5 -3l-0.5 -3l0 -3.5l0.5 -3l-0.5 -4l-1.5 -2l0.5 -3.5l-0.5 -4l-1 -4l-1 -3.5l-0.5 -3.5l-0.5 -3.5l0 -4l0 -4l-1.5 -3.5l-0.5 -3l-1 -3.5l-0.5 -3l-2 -3l-1.5 -3l-1.5 -2l-2.5 -2.5M601.2 505.0l1 -2.5l0.5 -3.5l1 -3l-0.5 -2.5l0.5 -4l0.5 -2.5l-0.5 -3.5l0.5 -3.5l-0.5 -3l-1 -3.5l0.5 -2.5l-1 -4l0 -4l-1.5 -3l-1 -3.5l-1.5 -3l-0.5 -2.5l-2 -2.5l-1.5 -3.5l-1 -3l-1 -3l-1 -2.5l-1.5 -3l-0.5 -3l-1.5 -3l-1.5 -3l-1.5 -2.5l-2 -3l-1.5 -3.5l-1 -2.5l-1.5 -3l-2 -2l-3 -2.5l-2.5 -1.5M604.9 502.1l2.5 -2l1.5 -2l2.5 -3l2 -1.5l2.5 -3.5l2 -2.5l3 -3l0.5 -3l1 -2.5l1.5 -3l1.5 -3l0 -3.5l2 -2.5l0 -2.5l1.5 -3.5l0.5 -3l2 -3l1 -2.5l2 -2.5l1 -3.5l1.5 -3l2.5 -2.5l2 -2l1.5 -3l2 -2M591.7 487.4l-1 -2.5l-1.5 -3.5l-1.5 -3l-1.5 -3l-2.5 -1.5l-2.5 -2.5l-2.5 -1.5l-2 -2.5l-3.5 -2l-3 -3l-3 -3M621.0 484.5l-1 -3.5l-0.5 -2.5l-2 -1.5" fill="none" stroke="#1c1c1c" stroke-width="1.3" opacity="1.0" stroke-linejoin="round" stroke-linecap="round"/>
<ellipse cx="598.3" cy="518.5" rx="3.2" ry="4" fill="#111"/>
<path d="M596.3 518.5h4M598.3 516.5v4" stroke="#e00" stroke-width="0.9"/>
<rect x="812.5" y="390.5" width="137.0" height="160.5" fill="#fff"/>
<defs><clipPath id="rg2"><rect x="812.4" y="391" width="134.60000000000002" height="157.89999999999998"/></clipPath></defs>
<g clip-path="url(#rg2)" fill="none" stroke="#ff3a3a" stroke-width="1.3"><ellipse cx="879.7" cy="525.5" rx="5.18" ry="5.10"/><ellipse cx="879.7" cy="525.5" rx="15.57" ry="15.34"/><ellipse cx="879.7" cy="525.5" rx="25.96" ry="25.58"/><ellipse cx="879.7" cy="525.5" rx="36.36" ry="35.82"/><ellipse cx="879.7" cy="525.5" rx="46.75" ry="46.06"/><ellipse cx="879.7" cy="525.5" rx="57.14" ry="56.30"/><ellipse cx="879.7" cy="525.5" rx="67.54" ry="66.54"/><ellipse cx="879.7" cy="525.5" rx="77.93" ry="76.78"/><ellipse cx="879.7" cy="525.5" rx="88.33" ry="87.02"/><ellipse cx="879.7" cy="525.5" rx="98.72" ry="97.26"/><ellipse cx="879.7" cy="525.5" rx="109.11" ry="107.50"/><ellipse cx="879.7" cy="525.5" rx="119.51" ry="117.74"/><ellipse cx="879.7" cy="525.5" rx="129.90" ry="127.98"/></g>
<path d="M879.7 525.5l0.5 -4.5l-1 -4.5l-1 -5.5l-1.5 -3l-2 -3.5l-2 -2.5l-3 -1l-3 -0.5l-2.5 -3l-2 -1.5l-3 -2.5l-3 -3.5l-1.5 -2.5l-2.5 -3l-2.5 -2.5l-2.5 -3.5l-2.5 -3l-3 -2l-2.5 -3l-2.5 -3M872.4 502.1l-1 -2.5l-2 -3.5l-1.5 -3l-2.5 -3l-2 -2.5l-1 -3.5l-0.5 -3l-1 -2.5l-0.5 -3M866.5 500.6l-2 -2.5l-2 -2l-2 -3.5l-2.5 -2l-1.5 -3.5l-0.5 -3l-1 -4l-0.5 -3.5l-1 -4l0 -4l-1.5 -4.5l-0.5 -2l-1 -4M872.4 502.1l0 -2.5l1 -3.5l1 -2.5l1 -3l-0.5 -4l0.5 -3l-0.5 -3.5l0.5 -4.5l0 -2.5l-1.5 -4.5l0 -4M878.2 507.9l1 -3l2.5 -3.5l0.5 -2.5l2 -3l3 -2.5l3 -1.5l3 -2.5l3 -0.5l0 -3.5l1 -3l0.5 -4l-1 -4l0 -2.5l0 -3l-0.5 -3.5l0.5 -3l0.5 -5l0 -2.5l0.5 -4l-1 -3l0 -4l-0.5 -3.5l-0.5 -2.5l-1.5 -3l-1 -3.5l0 -2.5l-0.5 -4l-1 -3.5l0 -4.5l-0.5 -2.5l-0.5 -4l-1.5 -3l-0.5 -3.5l-2 -2M875.3 490.4l0.5 -3l1 -3.5l0 -4.5l1 -3.5l0 -3l1 -3.5l0.5 -2l0.5 -4l1 -2.5l1 -2.5l1 -4l0 -3.5l1 -3l0.5 -3.5l1 -4.5l0.5 -3l1 -3.5l1.5 -3M897.3 461.1l1.5 -2.5l2.5 -1.5l1.5 -3l2.5 -3l2.5 -2l2.5 -2.5l1.5 -2.5l2 -3.5l2.5 -3l1.5 -2.5l2.5 -1.5M895.8 440.6l2 -2l2 -2.5l1 -4" fill="none" stroke="#1c1c1c" stroke-width="1.3" opacity="1.0" stroke-linejoin="round" stroke-linecap="round"/>
<ellipse cx="879.7" cy="525.5" rx="3.2" ry="4" fill="#111"/>
<path d="M877.7 525.5h4M879.7 523.5v4" stroke="#e00" stroke-width="0.9"/>
<rect x="234.0" y="567.5" width="136.5" height="161.5" fill="#fff"/>
<defs><clipPath id="rg3"><rect x="234.6" y="568" width="133.1" height="157.89999999999998"/></clipPath></defs>
<g clip-path="url(#rg3)" fill="none" stroke="#ff3a3a" stroke-width="1.3"><ellipse cx="301.2" cy="703.2" rx="7.00" ry="6.90"/><ellipse cx="301.2" cy="703.2" rx="17.13" ry="16.88"/><ellipse cx="301.2" cy="703.2" rx="27.26" ry="26.86"/><ellipse cx="301.2" cy="703.2" rx="37.39" ry="36.84"/><ellipse cx="301.2" cy="703.2" rx="47.52" ry="46.82"/><ellipse cx="301.2" cy="703.2" rx="57.65" ry="56.80"/><ellipse cx="301.2" cy="703.2" rx="67.78" ry="66.78"/><ellipse cx="301.2" cy="703.2" rx="77.91" ry="76.76"/><ellipse cx="301.2" cy="703.2" rx="88.04" ry="86.74"/><ellipse cx="301.2" cy="703.2" rx="98.17" ry="96.72"/><ellipse cx="301.2" cy="703.2" rx="108.30" ry="106.70"/><ellipse cx="301.2" cy="703.2" rx="118.43" ry="116.68"/><ellipse cx="301.2" cy="703.2" rx="128.56" ry="126.66"/></g>
<path d="M301.2 703.2l1.5 -2.5l0.5 -4l1 -3l1.5 -4l1.5 -3l-2.5 -2.5l-2.5 -3.5l-2.5 -3l-2.5 -2.5l-2 -2.5l-2.5 -2l-2 -2.5l-2.5 -3l-1.5 -2l-3 -1.5l-2 -2l-2.5 -2l-2.5 -2l-3.5 -2.5l-3.5 -1l-3.5 -2l-3.5 -1l-2 -1.5l-3.5 -0.5l-2.5 -1M307.0 686.4l4.5 0.5l2.5 -1.5l3 -2l3 -1.5l4 -2l3.5 -2.5l2 -3.5l2.5 -3.5l1 -5.5l0.5 -3.5l1 -3l0.5 -3l1.5 -3l2 -3.5M299.7 677.6l-1 -4l0.5 -3l0 -3l-1 -3l0 -4l1 -3.5l-1 -4l0 -3l0 -4l0.5 -3l0 -4l-0.5 -4l0.5 -3.5l0 -3.5l1 -3l2 -4l1 -3.5l3 -3.5l3 -2l2.5 -2l2.5 -2l2.5 -2l1.5 -2l3 -1.5l2.5 -2.5l3 -2l3.5 -2l3 -1.5l2.5 -2M327.5 677.6l0 -3.5l0.5 -3.5l-0.5 -3l0 -3l-0.5 -4l0 -3.5l-0.5 -3.5l-0.5 -3.5l-0.5 -3.5l-1.5 -4l-1 -3l-1.5 -3l-0.5 -3.5l-1 -3.5l-1.5 -3.5l-1 -2l-1.5 -3.5l-1.5 -3.5l-2 -3l-1 -3.5l-1.5 -3.5l-0.5 -2.5l-1.5 -3l-1 -3l-1.5 -5M323.1 639.6l2 -3.5l2.5 -4l1.5 -3l1.5 -4l1.5 -2.5l2.5 -2.5l2 -2.5l3.5 -1.5l3.5 -2M330.4 624.9l1 -3.5l0.5 -3.5l1.5 -3.5l1 -3l0.5 -2.5l1.5 -3l2 -4.5M298.2 649.8l0 -3l-1.5 -3l-1 -3l-3 -3.5" fill="none" stroke="#1c1c1c" stroke-width="1.3" opacity="1.0" stroke-linejoin="round" stroke-linecap="round"/>
<ellipse cx="301.2" cy="703.2" rx="3.2" ry="4" fill="#111"/>
<path d="M299.2 703.2h4M301.2 701.2v4" stroke="#e00" stroke-width="0.9"/>
<rect x="523.0" y="567.5" width="136.5" height="161.5" fill="#fff"/>
<defs><clipPath id="rg4"><rect x="523.1" y="568.6" width="135.39999999999998" height="158.0"/></clipPath></defs>
<g clip-path="url(#rg4)" fill="none" stroke="#ff3a3a" stroke-width="1.3"><ellipse cx="588.7" cy="707.3" rx="8.53" ry="8.40"/><ellipse cx="588.7" cy="707.3" rx="18.88" ry="18.60"/><ellipse cx="588.7" cy="707.3" rx="29.23" ry="28.80"/><ellipse cx="588.7" cy="707.3" rx="39.58" ry="39.00"/><ellipse cx="588.7" cy="707.3" rx="49.94" ry="49.20"/><ellipse cx="588.7" cy="707.3" rx="60.29" ry="59.40"/><ellipse cx="588.7" cy="707.3" rx="70.64" ry="69.60"/><ellipse cx="588.7" cy="707.3" rx="81.00" ry="79.80"/><ellipse cx="588.7" cy="707.3" rx="91.35" ry="90.00"/><ellipse cx="588.7" cy="707.3" rx="101.70" ry="100.20"/><ellipse cx="588.7" cy="707.3" rx="112.06" ry="110.40"/><ellipse cx="588.7" cy="707.3" rx="122.41" ry="120.60"/><ellipse cx="588.7" cy="707.3" rx="132.76" ry="130.80"/><ellipse cx="588.7" cy="707.3" rx="143.11" ry="141.00"/></g>
<path d="M588.7 707.3l0 -3.5l0 -3l-0.5 -4l0 -3.5l1.5 -2.5l-4 -3l-3 -1.5l-3 -1.5l-4.5 -3l-1.5 -3l-1.5 -3l-1.5 -3l-0.5 -4l-1 -3.5l-0.5 -4l0 -5l-0.5 -4l-1 -3l-0.5 -4.5l0 -2.5l-1.5 -3.5l-1.5 -3.5l-1.5 -3.5l-1 -2.5l0 -3l-1 -3l-1 -3l-0.5 -3.5l-1 -4l-1.5 -2.5l-1.5 -3l-1.5 -2.5l-1.5 -3.5l-2 -3l-2 -3l-2.5 -3l-2 -4l-2 -2.5l-2.5 -2l-1.5 -3l-3.5 -2.5l-4 -2M589.7 690.8l2.5 -3.5l2 -2.5l2.5 -3l2 -2l1.5 -2.5l2.5 -2.5l3.5 -3.5l2 -4l2 -3l1 -4l0.5 -5l1.5 -3l1.5 -2.5l-0.5 -4.5l-0.5 -3.5l-0.5 -4l1 -3.5l0.5 -3.5l1.5 -4.5M579.5 684.9l-0.5 -4l0.5 -4l0 -4l-0.5 -3l-1 -5l0 -3.5l0.5 -4l0.5 -3.5l0 -3l0.5 -4l0.5 -3.5l0.5 -4l0 -3.5l0.5 -4l1 -3.5l0 -4l0.5 -4l1.5 -2.5l0.5 -3.5l1.5 -2l1 -3.5l1.5 -2.5l0.5 -3l2 -3.5l0.5 -4.5l1 -3.5M578.0 661.5l-1.5 -3l-1.5 -2.5l-1.5 -3.5l-1.5 -3.5l-0.5 -3l-2.5 -3.5l-1 -2.5l-1.5 -4l-1.5 -4l-1.5 -2l-2 -4l-1 -2.5l-1 -4l-1.5 -2.5l-0.5 -4M570.7 673.2l0 -3l0.5 -3.5l0 -3.5l-0.5 -3l0 -3l0 -3l0.5 -3.5l-0.5 -3.5l0 -3l0.5 -4l0.5 -3l0.5 -4l0 -3.5l1 -3l1 -3l1 -3M551.7 601.5l3 4.5l4.5 -0.5l3 0.5l3 2l1.5 4l0 2l1.5 3.5l1 3" fill="none" stroke="#1c1c1c" stroke-width="1.3" opacity="1.0" stroke-linejoin="round" stroke-linecap="round"/>
<ellipse cx="588.7" cy="707.3" rx="3.2" ry="4" fill="#111"/>
<path d="M586.7 707.3h4M588.7 705.3v4" stroke="#e00" stroke-width="0.9"/>
<rect x="811.0" y="567.0" width="139.5" height="160.5" fill="#fff"/>
<defs><clipPath id="rg5"><rect x="811" y="568.6" width="136" height="157.39999999999998"/></clipPath></defs>
<g clip-path="url(#rg5)" fill="none" stroke="#ff3a3a" stroke-width="1.3"><ellipse cx="887.2" cy="716.4" rx="7.41" ry="7.30"/><ellipse cx="887.2" cy="716.4" rx="17.40" ry="17.14"/><ellipse cx="887.2" cy="716.4" rx="27.38" ry="26.98"/><ellipse cx="887.2" cy="716.4" rx="37.37" ry="36.82"/><ellipse cx="887.2" cy="716.4" rx="47.36" ry="46.66"/><ellipse cx="887.2" cy="716.4" rx="57.35" ry="56.50"/><ellipse cx="887.2" cy="716.4" rx="67.34" ry="66.34"/><ellipse cx="887.2" cy="716.4" rx="77.32" ry="76.18"/><ellipse cx="887.2" cy="716.4" rx="87.31" ry="86.02"/><ellipse cx="887.2" cy="716.4" rx="97.30" ry="95.86"/><ellipse cx="887.2" cy="716.4" rx="107.29" ry="105.70"/><ellipse cx="887.2" cy="716.4" rx="117.27" ry="115.54"/><ellipse cx="887.2" cy="716.4" rx="127.26" ry="125.38"/><ellipse cx="887.2" cy="716.4" rx="137.25" ry="135.22"/><ellipse cx="887.2" cy="716.4" rx="147.24" ry="145.06"/><ellipse cx="887.2" cy="716.4" rx="157.22" ry="154.90"/><ellipse cx="887.2" cy="716.4" rx="167.21" ry="164.74"/></g>
<path d="M887.2 716.4l-1 -3.5l-2.5 -3l-1 -4l-2 -3.5l-2 -2.5l-2.5 -2l-1 -2l-3 -2.5l-2.5 -2l-2 -3.5l-1 -3l-1 -3.5l-1 -2.5l-1 -4l0.5 -3.5l-1 -4l0 -4l0 -5M871.8 693.7l-1.5 -2.5l-0.5 -3.5l-1 -2.5l-0.5 -3l-1 -3l-0.5 -2.5l-1 -3.5l-0.5 -4l0.5 -2.5l-1 -3l-0.5 -3l0 -3.5l-1.5 -3.5l-1 -2.5l-0.5 -4l-1 -2.5l0 -4l-1.5 -2l-1 -3.5l-1 -3l-0.5 -2.5l-1 -3l-0.5 -3l-1 -3.5l-1 -2.5l-0.5 -3l-1.5 -3l-1 -2.5l-1 -3l-0.5 -3l0 -3l-1 -3l-0.5 -3.5M880.6 702.5l2.5 -2.5l2 -3.5l2.5 -1l3.5 -1l4 -2l3 -1.5l2.5 -2.5l3 -2l2 -1.5l0.5 -4l0.5 -4.5l0.5 -3.5l-0.5 -3l1 -3.5l0.5 -3l-0.5 -4l1 -2.5l0.5 -4l0 -4l0.5 -3.5l0.5 -3l0 -3.5l0.5 -3.5l0 -5l1 -2.5l0 -4l1 -3l1 -4.5l1 -3.5l0.5 -3.5l0.5 -3l0.5 -4l1 -4l1.5 -3.5l0.5 -2.5l0.5 -3.5l1.5 -2.5l1 -4l1 -2M885.0 696.6l1 -3l-0.5 -3.5l1 -3.5l0.5 -4l-0.5 -3l0 -3l0 -3.5l0 -2.5l0.5 -3.5l1 -3.5l-0.5 -3l0.5 -3.5l0 -3.5l0 -2.5l0 -4.5l0 -4l0.5 -3.5l-0.5 -4l1.5 -4l0 -3l1.5 -4l1.5 -3.5l0.5 -2.5l1.5 -4l1 -3.5l0 -3.5l1 -3l1 -2l0.5 -4M876.2 698.1l1.5 -2l1 -3l0.5 -3.5l0.5 -4l0.5 -2.5l0.5 -4l0 -3l0.5 -3l0.5 -4.5l0.5 -3.5l0 -3.5l-0.5 -3.5l-1 -3l0.5 -4l0 -3.5l-0.5 -3.5l-0.5 -3l0 -4l1 -4l-1.5 -3l-0.5 -3.5l-0.5 -2.5l-0.5 -4l0.5 -3l-1 -3l0 -3.5l0 -4.5l-1 -3.5l-0.5 -4l3 -3.5M882.1 661.5l0.5 -3l1 -3l0 -3l1.5 -2.5l0 -4l0 -3.5l-1 -3.5l-0.5 -4l-0.5 -3.5l0 -3.5l-0.5 -4l-0.5 -3.5l1 -3.5l0 -5l0 -3l0.5 -3l0.5 -4l0 -3.5l1 -3l0 -4l0.5 -2.5M879.2 626.4l-1 -2.5l-1 -3.5l-1 -2.5l0.5 -3.5l-1.5 -2.5l0.5 -4.5l0 -2.5l0.5 -5l2 -2.5l1.5 -3.5l2.5 -2.5l0.5 -3l0.5 -3l0.5 -4.5" fill="none" stroke="#1c1c1c" stroke-width="1.3" opacity="1.0" stroke-linejoin="round" stroke-linecap="round"/>
<ellipse cx="887.2" cy="716.4" rx="3.2" ry="4" fill="#111"/>
<path d="M885.2 716.4h4M887.2 714.4v4" stroke="#e00" stroke-width="0.9"/>
<defs><clipPath id="ph0"><rect x="98.5" y="390.5" width="134.0" height="161.0"/></clipPath></defs>
<g clip-path="url(#ph0)">
<rect x="98.5" y="390.5" width="134.0" height="161.0" fill="#e0e0e0"/>
<ellipse cx="125.0" cy="450.0" rx="30" ry="55" fill="#b0b0b0" filter="url(#bl6)"/>
<ellipse cx="104.0" cy="470.0" rx="18" ry="32" fill="#3a3a3a" filter="url(#bl6)"/>
<ellipse cx="219.0" cy="514.0" rx="10" ry="14" fill="#a0a0a0" filter="url(#bl6)"/>
<ellipse cx="215.0" cy="430.0" rx="14" ry="40" fill="#c4c4c4" filter="url(#bl6)"/>
<ellipse cx="165.0" cy="398.0" rx="70" ry="8" fill="#e6e6e6" filter="url(#bl3)"/>
<path d="M159 412l2 2l1 3l2 2l2 2l2 2l2 3l1 3l2 2l2 2l2 2l2 3l2 2l2 2l2 3l2 2l2 2l2 2l2 2l2 3l2 2l1 3l2 2l1 3l2 2l2 3l1 2l2 3l2 2l1 3M171 429l2 2l1 3l0 3l2 3l1 2l1 3l2 3l1 2l2 3l3 1l2 2l2 2l3 1l2 2l2 2l3 2l2 2l3 2l2 2l2 1l3 2M169 410l0 3l0 3l0 3l0 3l0 3l-1 3l-1 3l-1 3l-1 3l-1 3l-1 2l-2 3l0 3l-1 3l0 3l-1 3l-2 2l-1 3l-1 3l0 3l0 3l-1 3l0 3M167 431l1 3l2 3l1 2l1 3l2 3l1 2l1 3l1 3l0 3l1 3l2 2l1 3l2 3l1 2l1 3l0 3l0 3l1 3M109 410l-1 3l0 3l-1 3l-1 2l-1 3l-1 3l-1 3l-2 2l-1 3l-1 3l-2 2l-2 2l-2 3l-2 2M107 419l-2 2l-3 2l-2 2l-1 2l-2 2l-2 3l-2 2l-2 3l-1 2l-2 3l-1 3l-1 2M107 419l-2 2l-1 3l-2 2l-1 3l-2 2l-2 2l-2 3l-2 2l-2 2l-2 2M211 408l2 3l1 3l2 2l1 3l2 2l1 3l1 3l1 3l1 2l1 3l1 3l1 3l1 3l0 3l2 3l0 2l1 3l0 3l1 3l1 3l1 3l1 3l1 2l2 3l1 3l1 3l2 2l2 3l2 2M227 447l1 3l0 3l0 3l1 3l1 2l2 3l1 3l0 3l2 3l0 2l1 3l1 3l1 3l1 3M148 403l2 1l2 2l3 2l2 2l2 2l3 2l2 2l2 1l3 2l3 1l2 1l3 2l2 2l3 2l2 1l3 2l3 1l2 1l3 1l3 1M159 412l2 3l1 2l2 2l2 3l2 2l3 2l2 1l2 2l3 2l2 2l3 2l2 2l3 1M184 428l2 3l2 2l2 2l2 2l3 2M213 420l-1 3l0 3l0 3l0 3l0 3l-1 3l0 3l-1 3l-1 3l-1 2l-1 3l-1 3l-1 3l-1 3l-1 3l0 3l-1 2l-1 3l0 3M211 438l0 3l0 3l0 3l-1 3l0 3l0 3l0 3l-1 3l0 3l0 3l0 3l1 3l0 3l1 2M204 461l2 2l2 3l1 2l2 3l2 2M139 413l1 3l1 2l1 3l1 3l1 3l1 2l1 3l0 3l0 3l0 3l-1 3l-1 3l-1 3l0 3l0 3l0 3l1 3l1 3l1 2l0 3l0 3l1 3l1 3l1 3M145 465l1 3l1 2l1 3l1 3l0 3M143 456l0 3l-1 3l1 3l0 3l0 3l0 3l0 3l0 3l0 3M214 415l-2 3l-1 3l-1 2l-1 3l-2 3l-1 3l-1 2l-2 3l-1 3l-1 2l-1 3l-1 3l-2 3l-1 2l-1 3M207 429l0 3l-1 3l-2 3l0 2l-1 3l-1 3l-1 3l-1 3l-1 3M200 445l-2 3l-2 2l-2 2l-2 2l-3 2M129 408l0 3l2 3l0 3l1 3l0 2l0 3l0 3l0 3l1 3l1 3l1 3l1 3l0 3l0 3M132 425l0 3l-1 3l1 3l0 3l1 3l0 3l1 3l0 3l2 3M142 405l0 3l0 3l0 3l0 3l0 3l0 3l0 3l0 3l0 3l-1 3l0 3l0 3l1 3M142 432l-1 3l0 3l0 3l0 3M170 427l1 3l2 2l2 3l1 3l1 2l2 3l1 3l1 3l2 2l1 3l2 2l2 2l2 2l3 1l3 2l2 2l2 2l2 2l2 2l3 2l2 2l2 2l2 3l1 2l2 3l2 2l1 3M193 461l2 3l1 2l2 3l3 1l2 2l2 2l3 2l2 2l2 3l2 1l2 3l2 2M209 427l0 3l0 3l1 3l-1 3l0 3l-1 3l-1 3l-1 2l-1 3l-1 3l-1 3l-1 3l-2 2l0 3l-1 3l0 3l-1 3l1 3l0 3l0 3M205 453l0 3l0 3l2 3l1 3l1 2l1 3l0 3l1 3l1 3l2 3l0 3M189 399l-2 3l-1 3l-2 2l-1 3l-1 3l-1 2l-1 3l-1 3l-1 3l-1 3l-1 3l-1 2l0 3l-1 3l-1 3l-1 3l-1 3l-1 3l-1 2l-1 3l-1 3M175 432l-1 3l-1 3l-1 3l0 3l-1 3l0 3l-1 3l0 3M216 405l0 3l1 3l1 3l0 3l0 3l0 3l0 3l-1 3l0 3l0 3l1 3l1 2l1 3l1 3l1 3l2 2M218 417l1 2l2 3l1 3l1 3l0 3l-1 2l0 3l0 3l1 3l0 3l1 3l0 3M217 429l1 3l0 3l0 3l0 3l0 3l0 3l0 3l1 3" fill="none" stroke="#3a3a3a" stroke-width="1.0" opacity="0.75" stroke-linecap="round"/>
<path d="M150.6 521.1l-1.5 -3.5l-1.5 -2.5l-1 -4l-2 -3.5l-1 -2.5l-2 -3l-1.5 -2.5l-1.5 -3.5l-1 -2.5l-1.5 -3l-1.5 -3.5l-2 -2.5l-2 -2l-2 -4l-3 -1l-2.5 -2l-3 -2.5M150.6 521.1l-1 -3l-0.5 -3.5l0 -2.5l0 -4l-1 -2.5l-0.5 -3.5l0 -3.5l-1 -2l-1.5 -4l0 -2.5l-1.5 -2.5l-1 -2l-1 -4.5l0 -4l-1.5 -3l-0.5 -3.5l-0.5 -3.5l0 -4l-1 -3.5l0.5 -3.5l-0.5 -3.5l-1.5 -2.5l-0.5 -3l0.5 -3.5l-0.5 -4l0 -3l0 -3l-0.5 -3.5l0 -3.5l-1 -3.5l-0.5 -3.5l-1 -3.5l-0.5 -3.5l-1 -3.5l0 -3.5M150.6 521.1l0.5 -2.5l1 -3.5l0.5 -2l1 -3.5l1 -4.5l0 -1.5l0 -3l1 -4l-0.5 -2l0.5 -3.5l1 -3.5l1 -4l0.5 -3l0.5 -3l0.5 -3.5l2 -3.5l0 -3.5l1 -3l-0.5 -4l2 -4l0.5 -2l1.5 -3.5l-0.5 -4l0.5 -3l1 -3.5l0.5 -5l0.5 -3.5l0.5 -2.5l1.5 -3l1.5 -3l2.5 -5l0.5 -2.5l4.5 1M153.5 516.7l2.5 -2l0.5 -4l0.5 -3.5l2 -1.5l1.5 -3.5l0.5 -3l1.5 -3l1 -3l1.5 -3l1 -2.5l1.5 -3.5l1.5 -2.5l1 -2.5l1 -3.5l1 -3l2 -3l-0.5 -2.5l1 -2.5l1 -3l1.5 -3.5l1 -3l0.5 -2l1.5 -3.5l1 -3l0.5 -3l1.5 -3l0.5 -2.5l0 -4l0.5 -3l1 -3l0.5 -3l0 -3.5M155.0 515.2l3 -0.5l3.5 -2.5l3.5 -2l3 -0.5l2 -2l2.5 -4l2.5 -2.5l2 -2l2.5 -3l1 -4l2 -2l3 -2.5l3 -2.5l1.5 -2.5l2 -3.5l2.5 -3.5l2 -2.5l2.5 -3.5l1.5 -2.5l2.5 -1.5l3 -1M162.3 496.2l0 -2l1 -4l0 -4.5l-0.5 -3l1.5 -3.5l0 -2.5l0.5 -3.5l0 -4l0.5 -2l0.5 -3.5l0 -3l0.5 -2.5l1 -4l-1 -3l-0.5 -4l-0.5 -2.5l0.5 -3l-0.5 -3l0 -3l0.5 -3l-1 -3.5M185.7 412.8l3.5 2l2.5 2.5l3 1.5l3 2.5l1.5 2.5l1 2.5l2.5 3l2.5 2.5l0 3.5l2 2l2 3l1 3.5l2.5 2.5l2 3l1 2.5l1.5 3.5l2.5 2.5l1.5 3l1 2.5l1.5 3.5l2 3l1.5 3l1 2.5l2 2.5l1 3.5M210.6 409.9l2 3l0.5 3l2 2.5l2.5 3.5l1.5 4l2 3M103.8 405.5l1.5 3l2.5 3l1.5 3l1.5 2l2.5 2.5l2 3.5l1.5 3.5l1 3.5l1 2.5l1 4M119.9 406.9l-1.5 3l-1.5 3l-2 2l-0.5 2l-2 3l-1 3.5l0.5 3l-1.5 4l-1 3M100.9 480.1l1 2.5l0.5 4l1 2.5l1 3.5l0.5 2l1.5 3l-1.5 4.5l1.5 3l0 4l0 3.5M112.6 487.4l0.5 3.5l-0.5 3.5l1.5 4.5l0 3l-1.5 3.5l0.5 3.5l1 3l-0.5 5l-1 2.5M122.8 408.4l-3 4l-0.5 2.5l-2.5 3.5M124.3 446.5l2.5 1l3.5 0.5l3.5 1l3.5 0.5l2 0l3 0.5l4 1.5l3 0l4.5 1l2 0l3.5 1.5l3 0.5l3 0l3 0.5l3.5 0l3 0l4 0.5l2.5 0l3 -0.5l4 1l2.5 1l3.5 -0.5" fill="none" stroke="#262626" stroke-width="1.35" opacity="0.9" stroke-linejoin="round" stroke-linecap="round"/>
<ellipse cx="105.2" cy="535.0" rx="5" ry="6.5" fill="#1a1a1a" transform="rotate(10 105.2 535.0)"/>
<ellipse cx="148.4" cy="535.5" rx="3" ry="6.5" fill="#222" transform="rotate(-35 148.4 535.5)"/>
<ellipse cx="174.0" cy="544.0" rx="4.5" ry="5.5" fill="#1a1a1a" transform="rotate(0 174.0 544.0)"/>
<ellipse cx="133.8" cy="513.0" rx="2.2" ry="2.2" fill="#555" transform="rotate(0 133.8 513.0)"/>
<ellipse cx="150.6" cy="521.1" rx="3" ry="4" fill="#1a1a1a" transform="rotate(0 150.6 521.1)"/>
<path d="M105.5 510.5h0M139.5 506.5h0M116.5 486.5h0M121.5 396.5h0M133.5 527.5h0M150.5 474.5h0M204.5 548.5h0M133.5 502.5h0M203.5 518.5h0M144.5 466.5h0M203.5 430.5h0M163.5 492.5h0M212.5 429.5h0M187.5 425.5h0M119.5 467.5h0M185.5 493.5h0M225.5 416.5h0M169.5 467.5h0M133.5 538.5h0M117.5 432.5h0M103.5 494.5h0M186.5 426.5h0M222.5 492.5h0M125.5 542.5h0M212.5 441.5h0M214.5 411.5h0M145.5 457.5h0M226.5 438.5h0M150.5 423.5h0M208.5 420.5h0M212.5 445.5h0M172.5 531.5h0M134.5 475.5h0M183.5 483.5h0M153.5 494.5h0M140.5 415.5h0M99.5 488.5h0M175.5 519.5h0M119.5 498.5h0M159.5 475.5h0M209.5 474.5h0M156.5 494.5h0M118.5 531.5h0M167.5 397.5h0M163.5 542.5h0M229.5 459.5h0M134.5 541.5h0M136.5 393.5h0M131.5 466.5h0M188.5 401.5h0M143.5 507.5h0M144.5 418.5h0M193.5 460.5h0M191.5 468.5h0M207.5 472.5h0M229.5 521.5h0M195.5 469.5h0M180.5 451.5h0M108.5 532.5h0M206.5 513.5h0M213.5 479.5h0M231.5 466.5h0M229.5 403.5h0M149.5 482.5h0M208.5 474.5h0M204.5 450.5h0M189.5 518.5h0M178.5 393.5h0M186.5 390.5h0M139.5 408.5h0M200.5 417.5h0M194.5 402.5h0M126.5 502.5h0M222.5 402.5h0M180.5 454.5h0M181.5 402.5h0M100.5 403.5h0M217.5 469.5h0M180.5 411.5h0M190.5 535.5h0M125.5 516.5h0M212.5 550.5h0M174.5 494.5h0M144.5 516.5h0M140.5 490.5h0M182.5 549.5h0M203.5 405.5h0M122.5 448.5h0M151.5 505.5h0M133.5 480.5h0M159.5 439.5h0M184.5 460.5h0M229.5 411.5h0M218.5 493.5h0M160.5 403.5h0M185.5 519.5h0M145.5 505.5h0M169.5 405.5h0M213.5 440.5h0M162.5 513.5h0M215.5 527.5h0M147.5 526.5h0M118.5 479.5h0M156.5 529.5h0M195.5 496.5h0M207.5 446.5h0M158.5 407.5h0M145.5 422.5h0M196.5 411.5h0M221.5 487.5h0" stroke="#2a2a2a" stroke-width="1.7" stroke-linecap="round" opacity="0.8"/>
<rect x="189.4" y="544.8" width="39.5" height="2.4" fill="#111"/>
</g>
<defs><clipPath id="ph1"><rect x="387.0" y="390.5" width="136.0" height="161.0"/></clipPath></defs>
<g clip-path="url(#ph1)">
<rect x="387.0" y="390.5" width="136.0" height="161.0" fill="#e8e8e8"/>
<ellipse cx="416.0" cy="505.0" rx="6" ry="6" fill="#707070" filter="url(#bl2)"/>
<ellipse cx="454.0" cy="537.0" rx="6" ry="6" fill="#8a8a8a" filter="url(#bl2)"/>
<ellipse cx="480.0" cy="534.0" rx="7" ry="6" fill="#8a8a8a" filter="url(#bl2)"/>
<ellipse cx="513.0" cy="542.0" rx="6" ry="5" fill="#555" filter="url(#bl2)"/>
<ellipse cx="515.0" cy="450.0" rx="10" ry="50" fill="#c8c8c8" filter="url(#bl6)"/>
<ellipse cx="420.0" cy="470.0" rx="25" ry="40" fill="#d0d0d0" filter="url(#bl6)"/>
<path d="M497 416l-1 3l0 3l-2 2l-2 3l-2 2l-1 3l-2 2l-1 3l-1 3l-2 2l-1 3l-1 3l-1 3l0 3l0 3l1 3l1 2l0 3l1 3M482 445l1 3l-1 3l0 3l0 3l0 3l0 3l0 3M485 440l-2 2l0 3l0 3l-1 3l0 3l0 3l0 3l0 3l0 3M391 424l0 3l-1 3l-1 3l0 3l0 3l0 3l1 3l1 3l0 3l1 3l0 3l1 2l1 3l1 3l1 3l1 3M391 451l-1 3l-1 2l0 3l-1 3l-1 3l0 3M389 436l-1 3l-1 3l-1 2l-1 3l-1 3l-1 3l-1 2l-2 3l-1 3l-1 3l-1 3l-1 2M426 409l1 2l1 3l1 3l1 3l0 3l0 3l0 3l1 3l1 3l1 2l2 3l1 3l2 2l2 3l1 2l1 3l1 3l1 3l1 3l0 3l1 3l1 2l1 3M431 432l1 2l2 3l1 3l1 3l0 3l1 3l0 3l0 3l0 3l0 3l0 3l1 3M431 432l0 3l1 3l1 3l1 2l1 3l0 3l1 3l1 3l0 3l1 3l0 3l1 3M476 410l0 3l0 3l0 3l0 3l-1 3l0 3l0 3l-1 3l-1 3l0 3l-1 3l0 3l0 3l0 3M473 440l0 3l0 3l0 3l0 3M517 419l-1 3l-1 3l-2 2l-1 3l-1 3l0 3l-1 3l-1 3l-1 2l-1 3l-1 3l-1 3l-2 2l-1 3l0 3l-1 3l-1 3l0 3l0 3l-1 3l-1 2l-2 3l-1 3l-1 3l-2 2M508 444l-1 3l-1 3l-1 3l-2 2l-2 2l-2 3l-1 3l-1 2l-2 3l-1 3l-1 2l-1 3l-1 3M507 447l-2 2l-2 3l-2 2l-2 2l-2 2l-2 2l-2 3l-1 2l-2 3l-1 3l-1 3l-1 2l-1 3l-2 3l-1 2M519 397l-1 3l-1 3l-1 3l-2 2l-1 3l-1 3l-2 2l-1 3l-1 3l-1 3l-2 2l-1 3l-1 3M516 406l-2 2l-1 3l-2 2l-2 3l-2 2l-2 2l-2 2l-2 3l-2 2M513 411l-1 3l0 3l-1 3l0 3l0 3l0 3l1 3l0 3M452 410l-2 2l-2 2l-2 2l-2 2l-3 2l-2 1l-3 2l-2 2l-3 2l-2 1l-3 2l-2 1l-3 2l-2 2l-3 1l-3 1l-3 1l-2 1M431 427l-2 1l-2 2l-3 2l-3 1l-2 1l-3 2l-2 2l-3 1l-2 2l-3 2M444 415l1 3l1 3l2 3l1 2l2 3l2 2l2 2l1 3l2 2l2 3l2 2l1 3l1 3l1 3l1 2l0 3l0 3l0 3l0 3l0 3l-1 3l0 3l0 3l0 3l-1 3l0 3l1 3l0 3M458 438l2 3l2 2l1 3l2 2l2 3l1 2l1 3l2 3l1 2l2 3l1 2l2 3l2 2l2 2l2 3l1 2l2 3l1 3M466 469l0 3l1 3l0 3l1 3l0 3l1 3l1 3l1 3" fill="none" stroke="#3a3a3a" stroke-width="1.0" opacity="0.75" stroke-linecap="round"/>
<path d="M466.3 517.7l-0.5 -3.5l-1 -2.5l0 -4.5l-2 -4l-0.5 -2l-1.5 -2.5l-1 -3.5l0 -3l-2 -4l-0.5 -3.5l-1.5 -3l-0.5 -3l-0.5 -4l-1.5 -2.5l0 -3.5l-1 -3l-1 -3.5l-0.5 -3.5l-1 -3l0 -2.5l-0.5 -3.5l-2 -3l0 -3.5l-1 -2.5l0 -3l-0.5 -3.5l-1 -3l-0.5 -2.5l-1 -4l-0.5 -3l-1.5 -3l-1 -3.5l-1.5 -4l-1 -2l-1 -2.5l-1 -2.5l-2.5 -3l-0.5 -3l-3 -3M466.3 517.7l-1 -3l-1.5 -4l-1 -2.5l-1.5 -4l0 -3l-0.5 -3.5l-1.5 -2.5l-1 -3l-0.5 -3l-1 -3l0 -3l-1.5 -3l-0.5 -3l0 -4l-0.5 -2l-1 -3l-1 -3l0 -2.5l-1 -4l0 -3.5l-0.5 -2l0 -3.5l-1 -3l-0.5 -3l-1 -3l-0.5 -3.5l0 -2l-0.5 -3.5l-0.5 -3l-1 -2.5l-1 -3.5l-0.5 -3l-0.5 -3.5l-1.5 -2.5l-0.5 -3.5l-1.5 -3M469.3 508.7l-0.5 -3.5l1.5 -2.5l0.5 -3.5l0 -3l1 -3.5l0.5 -3.5l-0.5 -2.5l0 -3.5l-0.5 -3l0.5 -3l-0.5 -4l-1 -2l0.5 -3l-1 -3.5l0 -2.5l-1 -3l-2 -3.5l0.5 -3l-1.5 -2.5l0.5 -3.5l-1.5 -3.5l-1.5 -3l-0.5 -2.5l-0.5 -4l-1 -3.5M470.8 505.6l2 -2l2 -3l1 -3.5l2.5 -2l1.5 -2.5l2.5 -4l1.5 -3l2 -2.5l-0.5 -3l1.5 -3.5l0.5 -2l1.5 -4l0.5 -3.5l1 -2l1 -4l1 -2.5l-1 -3l1 -3l1.5 -3.5l-0.5 -2.5l1.5 -3l-0.5 -2.5l0.5 -4.5l0.5 -3l-0.5 -3.5M472.3 504.1l2 2l2.5 2l3 1.5l2.5 2l2 1.5M458.7 501.1l-2 -1.5l-2.5 -2.5l-2.5 -3.5l-2.5 -2l-2.5 -2.5l-3.5 -0.5l-3 -1.5l-4 -1M508.7 402.7l0.5 3.5l0 4l1 3.5l-0.5 2.5l1 2.5l0.5 3.5l0.5 3.5l-1 3l-0.5 3.5l0 3.5l-1.5 2.5l0 3.5l-0.5 3.5l-1 3l-0.5 3.5l-0.5 3l-2 2.5l-1 4l-0.5 3l0 3.5l-1.5 3.5l-0.5 3.5l0.5 2l-1 3l0.5 4l-0.5 2.5l-0.5 2.5l0 3l0 3.5M513.2 410.3l0.5 3l0.5 3l1.5 2.5l0 4.5l-0.5 2.5l1 4l0 3l-1 4l0.5 2l-1.5 3.5l-0.5 2.5l-1 3.5l0 4l-1 3l-0.5 2.5l-1 3.5l0.5 3l-0.5 3.5l-0.5 4l-0.5 2l1 4l-0.5 2.5l-0.5 2l-0.5 3.5l0 3l1.5 3l0.5 3l-0.5 3M519.2 425.4l-0.5 2.5l0 3l-0.5 5l-1 2.5l0.5 3.5l-0.5 2l-1 4l0.5 2.5l-1 4.5l-0.5 2l0 4l-1 3l-0.5 3l-0.5 4M490.5 429.9l1.5 3.5l1 3l0.5 3l1.5 2.5l2.5 4l0.5 2l0.5 2.5l1.5 4l0.5 3l0.5 4l1.5 2.5l0.5 3.5l1 3.5l0.5 3l1 3l-0.5 3l0 3.5l0.5 4l-0.5 3l0.5 3M416.3 505.6l-1 -3.5l-3 -4l-1 -3l-1 -3l-2.5 -2l-2.5 -4l-1 -3l-2 -3l-3.5 -1l-2 -0.5l-3.5 -1.5M416.3 505.6l1 -3l2.5 -2l3 -3l0.5 -4l2 -1.5l0 -3l2.5 -3.5l1 -2l1 -3.5l1 -4l0.5 -2l0.5 -3l0 -3l2 -3l-0.5 -3l1 -3l-0.5 -3l2 -3.5l0.5 -3.5l-0.5 -2l1.5 -3.5M416.3 505.6l1 4l1 2.5l2.5 3.5l0 2l1 3l2 3.5l1 2.5l1 3.5l1.5 3.5l0.5 2.5l2 3M392.1 425.4l1 3.5l1 4l1 3l-1 3l0 3l-1 2.5l0 3.5" fill="none" stroke="#262626" stroke-width="1.35" opacity="0.9" stroke-linejoin="round" stroke-linecap="round"/>
<ellipse cx="389.0" cy="549.5" rx="4" ry="3" fill="#111" transform="rotate(0 389.0 549.5)"/>
<ellipse cx="410.3" cy="548.5" rx="4" ry="3" fill="#222" transform="rotate(0 410.3 548.5)"/>
<ellipse cx="442.0" cy="547.0" rx="5" ry="4" fill="#111" transform="rotate(0 442.0 547.0)"/>
<ellipse cx="466.3" cy="517.7" rx="3" ry="4.5" fill="#151515" transform="rotate(10 466.3 517.7)"/>
<path d="M431.5 429.5h0M447.5 398.5h0M408.5 411.5h0M503.5 440.5h0M520.5 535.5h0M409.5 528.5h0M521.5 461.5h0M452.5 499.5h0M453.5 432.5h0M486.5 425.5h0M439.5 394.5h0M431.5 520.5h0M405.5 421.5h0M440.5 438.5h0M387.5 399.5h0M414.5 518.5h0M492.5 520.5h0M481.5 551.5h0M422.5 504.5h0M448.5 545.5h0M447.5 507.5h0M492.5 545.5h0M491.5 443.5h0M475.5 518.5h0M514.5 430.5h0M486.5 506.5h0M408.5 409.5h0M463.5 486.5h0M431.5 490.5h0M407.5 482.5h0M459.5 524.5h0M484.5 403.5h0M462.5 410.5h0M458.5 499.5h0M482.5 391.5h0M459.5 418.5h0M455.5 469.5h0M453.5 513.5h0M427.5 467.5h0M420.5 422.5h0M472.5 415.5h0M495.5 450.5h0M402.5 517.5h0M389.5 438.5h0M476.5 393.5h0M482.5 481.5h0M519.5 440.5h0M499.5 548.5h0M454.5 402.5h0M433.5 521.5h0M387.5 492.5h0M457.5 509.5h0M437.5 541.5h0M402.5 457.5h0M428.5 480.5h0M416.5 452.5h0M448.5 539.5h0M390.5 436.5h0M407.5 505.5h0M491.5 393.5h0M493.5 532.5h0M449.5 486.5h0M494.5 539.5h0M417.5 504.5h0M397.5 449.5h0M510.5 491.5h0M459.5 462.5h0M449.5 395.5h0M463.5 542.5h0M403.5 396.5h0M471.5 522.5h0M445.5 403.5h0M474.5 496.5h0M418.5 521.5h0M460.5 517.5h0M418.5 448.5h0M477.5 498.5h0M502.5 542.5h0M484.5 392.5h0M450.5 497.5h0M493.5 441.5h0M395.5 483.5h0M413.5 473.5h0M418.5 531.5h0M391.5 480.5h0M506.5 493.5h0M406.5 478.5h0M499.5 492.5h0M510.5 521.5h0M439.5 410.5h0M480.5 467.5h0M498.5 462.5h0M484.5 413.5h0M489.5 529.5h0M497.5 515.5h0M478.5 417.5h0M431.5 435.5h0M426.5 484.5h0M436.5 496.5h0M508.5 550.5h0M387.5 488.5h0M465.5 460.5h0M486.5 532.5h0M420.5 492.5h0M408.5 461.5h0M435.5 522.5h0M510.5 530.5h0M458.5 504.5h0M475.5 477.5h0M405.5 433.5h0M517.5 486.5h0M402.5 447.5h0M405.5 410.5h0M438.5 437.5h0M389.5 470.5h0M513.5 464.5h0M441.5 451.5h0M423.5 443.5h0M413.5 459.5h0M511.5 449.5h0M506.5 470.5h0M473.5 468.5h0M440.5 533.5h0M467.5 421.5h0M428.5 453.5h0M463.5 451.5h0M423.5 439.5h0M522.5 509.5h0M504.5 534.5h0M406.5 476.5h0M485.5 468.5h0M459.5 492.5h0M473.5 418.5h0M394.5 434.5h0M391.5 440.5h0M392.5 407.5h0M476.5 421.5h0M484.5 457.5h0M500.5 480.5h0M505.5 458.5h0M443.5 540.5h0M480.5 459.5h0M505.5 507.5h0M474.5 394.5h0M507.5 407.5h0M389.5 445.5h0M413.5 429.5h0M453.5 471.5h0M479.5 529.5h0M481.5 529.5h0M445.5 414.5h0M483.5 550.5h0M410.5 489.5h0M439.5 548.5h0M391.5 467.5h0M435.5 449.5h0M488.5 390.5h0M424.5 546.5h0M449.5 392.5h0M471.5 496.5h0M513.5 532.5h0M515.5 433.5h0M430.5 502.5h0M434.5 450.5h0M392.5 422.5h0M405.5 450.5h0M482.5 421.5h0M426.5 403.5h0M442.5 485.5h0M468.5 494.5h0M459.5 502.5h0M495.5 525.5h0M387.5 540.5h0M452.5 550.5h0M490.5 464.5h0M393.5 406.5h0M492.5 391.5h0M393.5 502.5h0M469.5 499.5h0M396.5 544.5h0" stroke="#2a2a2a" stroke-width="1.7" stroke-linecap="round" opacity="0.8"/>
<rect x="478.4" y="543.8" width="38.6" height="2.4" fill="#111"/>
</g>
<defs><clipPath id="ph2"><rect x="676.5" y="390.5" width="136.0" height="160.5"/></clipPath></defs>
<g clip-path="url(#ph2)">
<rect x="676.5" y="390.5" width="136.0" height="160.5" fill="#e6e6e6"/>
<ellipse cx="680.0" cy="470.0" rx="6" ry="80" fill="#a8a8a8" filter="url(#bl3)"/>
<ellipse cx="740.0" cy="420.0" rx="40" ry="20" fill="#d0d0d0" filter="url(#bl6)"/>
<path d="M706 405l-1 2l-2 3l-1 3l-1 3l-1 2l-1 3l0 3l-1 3l0 3l-2 3l-1 3l-1 2l-2 3l-1 3l-1 2l-1 3l-1 3M701 416l0 3l0 3l0 3l0 3l0 3l0 3l0 3l0 2l1 3l0 3l0 3M695 436l-1 2l-1 3l-2 3l-1 2l-1 3M802 408l-2 3l-1 3l-1 2l-1 3l-1 3l-2 3l-1 2l-2 3l-1 3l-1 2l-1 3l-1 3l-1 3l-1 3l-1 2l-2 3l-1 3l-2 2l0 3l-1 3l-1 3l-2 2l-1 3l-1 3l-2 2l-1 3l-1 3l-1 3M781 455l0 3l0 2l0 3l-1 3l-1 3l0 3l-1 3l-1 3l0 3M691 401l1 3l1 2l1 3l0 3l0 3l1 3l0 3l-1 3l0 3l0 3l-1 3l1 3l0 3l1 3l1 3l0 3l1 3l1 3l0 3l1 2l1 3l2 3l1 3l1 2l1 3l1 3l2 3M699 459l2 3l2 2l2 3l1 2l2 3l1 2M717 420l0 3l0 3l0 3l0 3l0 3l0 3l0 3l0 3l0 3l0 2l0 3l0 3l-1 3l-2 3l-1 3l-2 2l-1 3l-2 2l-1 3l-2 3l0 2l-1 3l0 3l0 3l0 3l0 3l0 3l-1 3l-1 3M707 474l-1 3l-1 3l-1 2l-1 3l-2 3l-1 3l-1 2l-1 3l-1 3l-1 3l0 3M713 464l-1 3l0 3l-2 2l-1 3l-1 3l0 3l-1 3l0 3l-1 3l0 3l0 3l-1 3l0 3l0 3l-1 3M749 400l0 3l-1 3l0 3l0 3l-1 3l-1 3l-1 2l-2 3l0 3l-2 3l-1 3l-1 2l-1 3l-1 3l-1 3l-2 2l-1 3l-2 2l-2 3M743 426l-1 3l0 3l0 3l1 3l1 3l1 2l1 3l0 3l0 3M749 410l-2 3l-1 2l-2 3l-2 2l-2 3l-1 2l-1 3l-1 3l-1 3l-1 3l-1 3l-1 2l-1 3l-1 3l-1 3l-2 2l0 3l-2 3l-1 3l-1 2l-1 3l-1 3l-2 3M734 440l-1 2l0 3l-1 3l-1 3l-1 3l-2 2l-1 3l-2 2l-2 3l-2 2l-2 2M780 418l-1 3l0 3l-2 2l-1 3l-1 3l-1 3l-1 2l-1 3l-1 3l-2 2l-2 3l-2 2l-2 2l-2 3l-2 2l-2 2l-2 2l-2 2l-2 2l-2 3M773 437l0 3l0 3l0 3l1 3l1 3l1 3l0 3l0 3l0 3l-1 3l0 3M759 457l-1 2l-1 3l-2 3l-1 2l-1 3M688 406l0 3l1 3l1 2l1 3l0 3l1 3l0 3l0 3l0 3l0 3l0 3l-1 3l-1 3l0 3l0 3l-1 3l0 3l0 3l0 3l0 3l1 3l1 2M690 444l1 3l1 3l1 3l0 3l0 3l1 3l0 3l1 2M705 417l0 3l-1 3l0 3l0 3l0 3l0 3l-1 3l0 3l1 3l0 3l1 3l0 2l1 3l0 3l0 3l-1 3l1 3l0 3l1 3l0 3l1 3l0 3l0 3l0 3l1 3l0 3l0 3l1 3l1 3l0 3l1 3l1 2l2 3l1 3l2 2M705 450l0 2l1 3l1 3l1 3l1 3l2 2l1 3l1 3l0 3l0 3l0 3l0 3l-1 3l0 3l0 3l-1 3l0 3l0 3l0 3l-1 3l0 3M696 418l-2 2l-2 3l-2 2l-1 3l-2 2l-1 3l-1 3l0 3l-2 3l-1 2l-2 3l-2 2l-2 2l-1 3l-2 3l-1 2l-2 3l-1 2l-2 3l-1 3l-1 2l-1 3l-1 3l0 3M686 433l-2 2l-2 2l-3 2l-2 2l-2 1l-3 2l-2 3l-1 2l-1 3l-2 2l-2 3l-1 3l-1 2l-2 3l-1 3M708 400l-1 3l-1 2l-1 3l0 3l-1 3l0 3l0 3l-1 3l0 3l-1 3l0 3l-1 3l-2 3l0 3l-2 2l-1 3l-1 3l-1 3l-1 2l-1 3l-1 3l-2 3l-2 2l-2 2M697 443l-1 3l-3 2l-1 2l-2 3l0 3l-1 3l-1 2l-1 3M791 416l0 3l0 3l1 3l1 3l1 2l1 3l0 3l1 3l1 3l0 3l1 3l0 3l1 3l0 3l-1 3l0 3l0 3M797 442l-1 3l-2 2l0 3l-1 3l0 3l0 3l-1 3l0 3" fill="none" stroke="#3a3a3a" stroke-width="1.0" opacity="0.75" stroke-linecap="round"/>
<path d="M704.6 512.4l-1.5 -3.5l-1.5 -3l-2 -3l-1.5 -3.5l-2 -2.5l-2 -2l-2 -2.5l-2.5 -2l-1.5 -1l-3 -3l-0.5 -3.5l-0.5 -3l-1 -2.5l0 -4l-1 -2.5l-1.5 -3.5l1 -3.5l-1 -3.5l-0.5 -2.5l0.5 -4l-1 -3l-1 -3.5l0 -2l-0.5 -4l-0.5 -4l-0.5 -2.5l-1 -2.5l1 -4l1 -3.5l-0.5 -3l0.5 -3l0 -3.5l-1 -3.5l0 -3.5l1 -3.5l0 -2l0 -3.5M704.6 512.4l1 -3.5l0.5 -3l1.5 -3.5l0 -3.5l0.5 -3l-1 -3l-1 -3l0.5 -4.5l-1 -2.5l-0.5 -2l-0.5 -4l-2 -3l-0.5 -3l-1.5 -3l-1.5 -1.5l-1.5 -4l0.5 -3l-1.5 -2.5l-1.5 -2.5M751.4 522.1l-1 -3l-1 -2.5l0 -4.5l-1.5 -3.5l-1 -2l-0.5 -4l-2.5 -2l-1.5 -3l-2.5 -2.5l-2.5 -2.5l-1 -3.5l-3 -2.5l-2 -2.5l-2.5 -1.5l-3 -3l-2 -2.5l-1 -1.5l-4 -3l-1.5 -2l-1 -3l0 -3.5l-2 -3l0.5 -3.5l-1.5 -3.5l-1 -3M751.4 522.1l0 -3l-1.5 -3.5l0 -2.5l1 -4l-1 -3.5l0 -3l0 -3l-2 -3l0 -3.5l-0.5 -3.5l-1 -3l0 -3.5l-1 -3l0 -3.5l0 -3l-1.5 -3l-0.5 -2.5l0 -4l-0.5 -3.5l1 -3l0 -3l0 -2.5l1 -4l0 -3.5M751.4 522.1l0.5 -3.5l1 -3l1.5 -3l0.5 -3.5l0.5 -3l0.5 -3.5l2 -2.5l1.5 -2.5l1.5 -2.5l2 -3l1.5 -2.5l1.5 -3l0 -3l1.5 -3.5l0.5 -4l1 -2l1 -4l0.5 -2.5l1.5 -4l0.5 -3l0 -3.5l0 -2.5l0.5 -2.5l0.5 -4l0 -4l0 -3l2 -3l0 -2.5l0 -3.5l0 -3.5M751.4 522.1l2 -2l2 -3.5l2 -3l3 -1.5l2 -3l2 -2l1 -4.5l2.5 -1.5l2 -3.5l1.5 -3l2 -1.5l2 -3l0.5 -3l2.5 -3.5l1.5 -2.5l2 -2.5l1.5 -3l1 -2.5l1 -3l1 -3.5l2 -2.5l1 -3.5l1 -3l0.5 -2.5l1 -2.5l0.5 -3.5l1 -2l1 -3.5l0.5 -3.5l0.5 -3l2 -3l0.5 -2.5l0 -3M804.7 530.1l0 -2.5l0 -4l-1.5 -2l-1.5 -3.5l1 -3l-0.5 -2l-0.5 -4l-1 -3l-1 -3l0 -3.5l-1.5 -3l-0.5 -3l-1.5 -4.5l-1 -2.5l-2 -3.5l0.5 -2.5l-1 -4l-1.5 -3.5l-1 -2l-1 -4.5l-0.5 -2.5l0 -3l-0.5 -3.5l-0.5 -3l-1 -3.5l1 -3.5l-0.5 -2.5l-1.5 -3l0 -4M804.7 530.1l0.5 -3l0.5 -3l0 -2l0.5 -4.5l0.5 -2.5l1 -3l0.5 -3l1 -3l0 -3l0 -3.5l0 -3.5l1 -3.5l1 -2.5l0 -3.5l0 -3.5l-1.5 -2l0.5 -4l-1.5 -4l0.5 -3l-0.5 -3l0 -2.5l-0.5 -4M746.6 486.6l0 -3l-2.5 -3.5l-1 -1.5l-1 -3.5l-0.5 -3l-1 -2l-1.5 -3l-0.5 -3l-1.5 -3.5l-0.5 -3l0 -4l-1 -3l0 -3l0 -3.5l-0.5 -3.5l-1 -2l0.5 -3l-0.5 -3l-0.5 -4l2.5 -2.5l0 -3.5l1.5 -2.5l1.5 -4l2 -2.5l0 -2.5l2 -3.5l1 -2.5l1 -3l1.5 -2.5M762.7 392.9l1 3.5l0 2.5l0.5 4l0.5 2.5l1 3l0.5 4l0.5 3.5l-0.5 3.5l1.5 2.5l0.5 4l1 2.5l0 3l1.5 3l-1 4l1 3.5l0.5 3l1 3l0.5 3M714.3 476.9l0 -3l1 -2.5l1 -4l0 -3l-0.5 -4l1.5 -2.5l1.5 -3l1 -4.5l0 -2.5l0.5 -3.5l1.5 -3l2 -3l0 -2l1.5 -3.5l1 -2.5l1 -2.5l1 -3.5l1.5 -3l0.5 -3l1.5 -2.5l1.5 -3l2.5 -1l2 -2.5l1.5 -3.5l3 -2.5l0.5 -3.5l3 -1.5l2 -3.5l2 -2M775.6 454.3l2 -1.5l2.5 -3l3 -2l2.5 -2.5l2 -1l2.5 -2.5l2.5 -1.5l2.5 -2.5l1.5 -1.5l3.5 -1.5l3 -2l3 -1.5l2.5 -1.5l2.5 -1.5" fill="none" stroke="#262626" stroke-width="1.35" opacity="0.9" stroke-linejoin="round" stroke-linecap="round"/>
<ellipse cx="704.6" cy="512.4" rx="2.5" ry="4.5" fill="#555" stroke="#222" stroke-width="1" transform="rotate(-20 704.6 512.4)"/>
<ellipse cx="751.4" cy="522.0" rx="2.8" ry="4.5" fill="#555" stroke="#222" stroke-width="1" transform="rotate(0 751.4 522.0)"/>
<ellipse cx="804.7" cy="530.0" rx="2.5" ry="4.5" fill="#555" stroke="#222" stroke-width="1" transform="rotate(10 804.7 530.0)"/>
<path d="M705.5 515.5h0M723.5 460.5h0M704.5 406.5h0M737.5 485.5h0M707.5 528.5h0M755.5 447.5h0M691.5 507.5h0M770.5 440.5h0M793.5 404.5h0M719.5 390.5h0M725.5 493.5h0M678.5 503.5h0M762.5 392.5h0M750.5 496.5h0M734.5 499.5h0M699.5 429.5h0M779.5 402.5h0M735.5 415.5h0M776.5 460.5h0M710.5 535.5h0M717.5 404.5h0M782.5 520.5h0M690.5 504.5h0M780.5 484.5h0M793.5 505.5h0M758.5 500.5h0M803.5 531.5h0M786.5 488.5h0M720.5 395.5h0M772.5 507.5h0M687.5 475.5h0M680.5 483.5h0M769.5 486.5h0M759.5 545.5h0M697.5 515.5h0M706.5 465.5h0M685.5 534.5h0M678.5 421.5h0M768.5 471.5h0M682.5 412.5h0M721.5 414.5h0M773.5 535.5h0M799.5 518.5h0M790.5 494.5h0M764.5 507.5h0M784.5 439.5h0M705.5 414.5h0M782.5 443.5h0M713.5 477.5h0M734.5 445.5h0M705.5 527.5h0M775.5 542.5h0M794.5 473.5h0M743.5 436.5h0M742.5 452.5h0M764.5 476.5h0M721.5 484.5h0M793.5 522.5h0M773.5 453.5h0M716.5 546.5h0M735.5 458.5h0M805.5 394.5h0M676.5 525.5h0M793.5 502.5h0M680.5 488.5h0M688.5 484.5h0M726.5 417.5h0M723.5 409.5h0M810.5 470.5h0M677.5 473.5h0M796.5 549.5h0M704.5 429.5h0M680.5 402.5h0M680.5 499.5h0M807.5 393.5h0M755.5 466.5h0M684.5 433.5h0M730.5 430.5h0M752.5 401.5h0M781.5 407.5h0M756.5 471.5h0M793.5 550.5h0M758.5 515.5h0M789.5 482.5h0M752.5 459.5h0M788.5 519.5h0M794.5 406.5h0M699.5 483.5h0M775.5 469.5h0M746.5 527.5h0M799.5 541.5h0M700.5 506.5h0M688.5 500.5h0M731.5 442.5h0M743.5 438.5h0M777.5 460.5h0M708.5 438.5h0M785.5 478.5h0M770.5 446.5h0M728.5 544.5h0M794.5 430.5h0M721.5 535.5h0M678.5 464.5h0M737.5 457.5h0M763.5 538.5h0M805.5 471.5h0M676.5 469.5h0M723.5 483.5h0M734.5 475.5h0M793.5 456.5h0M737.5 488.5h0M739.5 462.5h0M738.5 437.5h0M741.5 461.5h0M762.5 414.5h0M772.5 414.5h0M797.5 402.5h0M806.5 467.5h0M758.5 525.5h0M695.5 485.5h0" stroke="#2a2a2a" stroke-width="1.7" stroke-linecap="round" opacity="0.8"/>
<rect x="769.2" y="545.1" width="38.7" height="2.4" fill="#111"/>
</g>
<defs><clipPath id="ph3"><rect x="98.5" y="567.5" width="135.5" height="161.5"/></clipPath></defs>
<g clip-path="url(#ph3)">
<rect x="98.5" y="567.5" width="135.5" height="161.5" fill="#e0e0e0"/>
<rect x="98.5" y="567.5" width="135.5" height="12" fill="#eeeeee" filter="url(#bl2)"/>
<ellipse cx="103.0" cy="698.0" rx="7" ry="7" fill="#4a4a4a" filter="url(#bl3)"/>
<ellipse cx="125.0" cy="691.0" rx="6" ry="5" fill="#7a7a7a" filter="url(#bl2)"/>
<ellipse cx="165.0" cy="640.0" rx="50" ry="40" fill="#c8c8c8" filter="url(#bl6)"/>
<ellipse cx="104.0" cy="720.0" rx="6" ry="8" fill="#888" filter="url(#bl3)"/>
<path d="M153 585l-1 3l0 3l0 3l-2 2l-2 3l-2 2l-2 2l-2 2l-2 2l-3 1l-2 2l-2 2l-2 3l-1 2l-2 3l-1 3l-1 3l-1 2l0 3l0 3l0 3M128 620l-1 3l0 3l-1 3l-1 3l0 3l-1 3l0 3M192 584l-1 2l-2 3l-1 3l-2 2l-1 3l-2 3l-1 2l-1 3l-1 3l-2 2l-1 3l-2 2l-1 3l-1 3l-1 3l0 3l-1 3l-1 2M177 613l-1 3l-1 3l-1 2l-2 3l-1 3l-1 2l-2 3M129 586l1 3l2 2l1 3l2 3l1 2l1 3l2 3l1 2l2 3l1 3l1 2l2 3l1 2l2 3l2 2l0 3l1 3l0 3l2 3l1 3l2 2l1 3l2 2l1 3l1 3l2 2l1 3l0 3l1 3l0 3M139 605l0 3l1 3l0 3l1 2l1 3l1 3l0 3l0 3l0 3l1 3l1 3l0 3l0 3l0 3l0 3l1 3l1 3l0 3l0 3l0 3l0 3l0 3l0 3M158 645l0 3l0 3l0 3l-1 2l-1 3l-1 3l-1 3M128 592l1 3l0 3l0 3l0 3l0 3l1 3l0 3l0 3l1 3l0 2l1 3l0 3l0 3l0 3l0 3l0 3l0 3l0 3l0 3l1 3l0 3l1 3l1 3l1 3l0 3l1 3l0 3l0 3M132 639l-1 3l0 3l-1 3l-1 3l-1 3l-1 3l-1 3l0 3l-1 2l-1 3l0 3M131 621l0 3l-1 3l-1 3l0 3l0 3l0 3l0 3l0 3l0 3l-1 3l-1 3l0 3l-1 3l-1 3l1 3l-1 3l1 3l-1 3l1 3l0 3M123 594l1 3l1 3l0 3l0 3l1 2l0 3l0 3l1 3l0 3l1 3l1 3l1 3l1 3l1 2l1 3l0 3l0 3l0 3l1 3l1 3l1 3l1 3l1 2l2 3l0 3l1 3l0 3l0 3M128 623l1 3l3 2l2 2l2 2l2 2l2 2l3 1l3 2l3 1l2 1l3 1l3 1l3 1l3 1l2 1l3 1l3 1M183 586l-2 3l-2 2l-2 2l-2 1l-3 2l-2 2l-2 3l-2 2l-2 2l-2 2l-2 3l-1 2l-1 3l-1 3l-2 3l-2 2l-1 2M159 612l-1 3l-1 3l-1 3l0 3M204 596l1 3l2 3l1 3l1 2l2 3l2 2l1 3l1 3l2 2l1 3l1 3l1 2l1 3l1 3l1 3l1 3l1 3l0 3l1 3l1 2l1 3l2 3M224 640l2 2l2 2l2 2l3 2l2 1l3 2M219 592l-1 3l0 3l-1 3l0 3l0 3l-1 3l-1 3l-1 3l-1 2l-1 3l-1 3l-1 3l-1 3l-2 2l-2 2l-2 2l-2 2l-2 3l-1 3l-1 2l-2 3M211 624l-1 3l-1 2l-2 3l-1 3l-1 3l-1 3l-1 2l-1 3l-1 3M216 610l1 3l0 3l1 3l0 3l1 3l2 2l2 3l1 2l1 3l1 3l1 3l1 3l0 3l1 3l0 3l-1 3M208 600l2 2l2 2l2 2l3 2l2 2l2 2l2 2l2 2l3 2l3 1l2 1l2 2l2 2l2 3l2 2l2 2l2 3l2 2l2 2l2 2l2 2l2 3l1 3l2 2l1 3l2 3M225 616l2 2l2 3l2 2l3 1l3 2l2 1l3 2l2 2l2 2l3 1l2 2l3 2l2 1l3 1l3 1M237 624l2 3l2 2l2 3l1 2l1 3l2 3l2 2l1 3l1 3l1 3l0 2l1 3l2 3l1 3M124 593l-3 0l-3 0l-3 0l-3 -1l-3 0l-3 -1l-3 0l-3 0l-3 0l-3 0l-3 0l-3 1l-3 0l-3 -1l-3 -1l-3 0l-3 -1l-3 0l-3 -1l-2 -1l-3 -1l-3 -1l-3 -1M100 591l-3 1l-3 1l-3 1l-3 0l-3 0l-3 0l-3 -1l-3 0l-3 0l-3 0l-3 0l-3 0l-3 -1M103 591l-3 -1l-3 -1l-3 -1l-2 -2l-3 -1l-2 -2l-3 -1l-3 -2l-2 -1l-3 -1l-3 -2l-2 -2l-3 -1M197 590l-2 2l-2 3l-1 2l-2 3l-1 2l-2 2l-2 3l-2 2l-2 2l-2 2l-2 3l-2 2l-2 2l-2 3l-1 2l-2 3l-2 2l-1 3l-1 3l-1 3l-1 3l-1 2l-1 3l-2 3l-1 3l-1 2l-2 3l-2 2l-1 3l-2 2l-2 2l-2 3l-2 2M170 625l-1 3l1 3l0 3l1 3l0 3l0 3l-1 3l0 3l-1 3l-1 3l-1 2l-2 3l-2 2l-2 2l-2 3l-1 3l-2 2M163 588l-1 3l-1 3l-1 3l-1 3l0 3l-1 3l-1 2l-2 3l-1 3l-1 3l-1 2l-2 3l-1 2l-1 3l-1 3l-1 3l0 3l-1 3l0 3l-1 3l0 3l-1 3l0 3l-1 3l-1 2l-1 3l-1 3l0 3l0 3l-1 3l0 3l-1 3l0 3M145 642l-2 3l-1 2l-1 3l-1 3l-2 3l-1 2l-2 3l0 3l-1 3l-1 2l-2 3l-2 2M145 639l-2 2l-2 2l-2 2l-3 2l-1 3l-2 2l-1 3l-2 2l-2 3l-1 2l-2 3l-2 2l-1 3l-2 2l-2 3M159 587l2 3l2 2l2 2l1 3l2 2l1 3l1 3l1 3l2 2l1 3l1 3l2 2l2 2l2 2l2 3l2 2l2 2l2 2l2 3l1 2M171 608l2 2l1 3l1 3l2 2l2 2l2 2l2 3l2 2l2 2l2 2l2 2l2 3l2 2l2 2M112 594l1 3l1 3l1 3l1 2l0 3l1 3l0 3l1 3l0 3l1 3l1 3l1 3l1 3l1 2l0 3l1 3l0 3l1 3l0 3l1 3l1 3l0 3l1 3l-1 3l0 3l0 3l1 3M121 629l1 3l0 3l1 3l0 2l1 3l1 3l1 3l1 3l2 2l1 3l2 2l2 3l2 2M126 652l0 3l1 3l1 3l0 3l2 3l1 2l1 3l1 3M140 597l-2 3l-1 2l-1 3l-1 3l-1 3l0 3l-1 3l0 3l-2 2l-1 3l-2 3l-1 2l-1 3l-1 3l-2 3l-1 2l-1 3l-1 3l-2 3l-1 2l-1 3l-2 2l-1 3l-1 3l-1 3l-1 3l0 3l-1 2l-1 3l-1 3l-1 3l-1 3l0 3l-1 3l0 3l-1 3M122 641l-2 2l-2 2l-2 3l-2 2l-3 2l-2 1l-2 2l-3 2l-2 2l-2 3l-1 2l-2 2l-3 2l-1 3l-1 3l-2 2l-2 2l-2 3l-2 2l-2 3l-2 2M112 663l-2 2l-2 2l-2 2l-3 2l-1 3l-2 2l-3 2l-1 3l-2 2l-1 3l-2 2M210 594l1 3l1 2l1 3l0 3l1 3l0 3l1 3l1 3l2 2l1 3l2 3l2 2l2 2l2 2l3 2l2 1l2 3l2 2l2 2l3 2l2 2l2 2M221 625l2 2l2 1l3 2l2 2l2 2l3 2l2 2l1 3l2 2l2 3l1 2l2 3M218 619l0 3l0 3l0 3l1 3l1 3l1 3l1 3l2 2l0 3l1 3l1 3l0 3l1 3" fill="none" stroke="#3a3a3a" stroke-width="1.0" opacity="0.75" stroke-linecap="round"/>
<path d="M130.9 579.6l1.5 3l0.5 3.5l2.5 2.5l0.5 3.5l1.5 3l1.5 3.5l2 2l3 2.5l0.5 1.5l1.5 4l3 2l2.5 1.5l2 3l2.5 1.5l1.5 4l3 2l2 3l2.5 2.5l2 2.5l2 2l1.5 3l2.5 3.5l2 2.5l2 2.5l2.5 2l2 2.5l2.5 3l2.5 1.5l2 2.5l2 3.5l2.5 1.5l2 3.5l2.5 2.5l3 2.5l2 3.5l2 1.5l3 2.5l2 2.5l2.5 3l3 1l3 2.5l2 1.5l3.5 2l3 1l3 2.5l3 1M171.1 683.5l-2.5 -2l-1.5 -3l-3.5 -2l-2 -2.5l-2 -2.5l-1.5 -1.5l-4 -2l-2 -2l-2.5 -2l-2.5 -2l-2 -2l-2.5 -2.5l-2.5 -2l-3 -1.5l-2 -2.5l-2.5 -3l-2.5 -1.5l-1.5 -1.5l-4 -2l-2.5 -2.5l-3 -1l-2 -2l-3 -1.5l-3.5 -0.5l-2.5 -2l-3 -1l-2 -2l-3.5 0M171.1 683.5l2.5 -1.5l3.5 -1.5l3 -3.5l3 -1l2.5 -2l2 -2l2.5 -3.5l2.5 -2.5l2 -1.5l0.5 -3l1 -4l0.5 -4l-0.5 -3l1 -3.5l0.5 -3l0 -3.5l-1 -3.5l0 -4.5l-1.5 -3l-0.5 -2.5l0 -3.5l-1 -2l-0.5 -4.5l-0.5 -2.5l-1 -3.5l-0.5 -2.5l-1 -2.5l0 -3l-1 -3l-1.5 -3l-1 -2.5l-1 -3M171.1 683.5l-0.5 -3l-2 -4l-1.5 -3l-1.5 -3l-1.5 -3l-0.5 -4l-0.5 -3l0.5 -3l-1 -3l-0.5 -3l1.5 -4.5l-1 -3l0.5 -3.5l0.5 -3l-1 -3l1.5 -4l-0.5 -1.5l0.5 -4l1 -3l-0.5 -3.5l1 -3l0.5 -3l1 -3l-0.5 -3.5l0.5 -3l1.5 -3.5l0.5 -4.5l0.5 -3l0 -3.5M191.6 583.9l3 2l2.5 2.5l3.5 3l2.5 2.5l1.5 3.5l3 2.5l1 3l2 3l1.5 3l1 2.5l-0.5 3.5l1.5 1.5l1 4M232.5 595.7l-3 1.5l-1.5 2.5l-3.5 1.5l-3.5 2l-1.5 1.5l-2 2.5l-3.5 2.5l-1.5 0.5l-2.5 3.5l-1.5 2.5l-2.5 1.5l-2.5 2.5l-1 2l-1 3.5l-3 3l-1 2.5l-1.5 3l-1 3l-1.5 3.5l-2 3.5M215.0 605.9l1.5 3l1 2.5l2 3.5l0 2l1.5 4l1.5 2.5l1 3l0 4l1 2.5l1 4l1 3.5l0 3.5l1 2.5l0 3.5l0.5 4l1.5 4l0.5 3l1 3.5l0.5 2.5l0 3.5l0.5 3.5l0.5 3l0.5 2.5l0 3l0.5 4M99.4 588.3l1 3l3 2.5l1.5 3.5l1.5 2.5l2 3l2 2.5l1 2.5l2.5 2.5l1.5 3l-0.5 3l2.5 3l0 4.5l1 2.5l0.5 3.5l0 4l1 3l1 3.5l0.5 3.5l-0.5 2.5l2 4l0 4l0 3.5l0.5 2.5l1 4l0 2l0.5 4.5l-0.5 3.5l1.5 4l0 3.5l0.5 3M131.6 603.0l-1 3l-2 3l-1.5 2l-1 3l-1.5 3.5l-1 2.5l-1 4l0 3l-1.5 2.5l-1 2.5l0 3.5l-1.5 4l0 3l0 3.5l0 4l0.5 3l0 4l1 3l1.5 4l0 3.5M97.9 664.4l2.5 3.5l1.5 2l2.5 3.5l2 2.5l3 1.5l4 3l3.5 1.5M130.1 579.6l2 2.5l0 3.5l1 3l1.5 3l1.5 3l2 3l0.5 2.5l1.5 2.5l2 3.5l1 2l1 3l1 3.5l-0.5 2.5l1.5 3.5M182.8 591.3l-1.5 3l-1 3l-1 2.5l-1 3l-1.5 3l-0.5 3l-1.5 3l-1.5 3l-2 3l-0.5 2.5l-1.5 2.5l-1 3.5l-1.5 2l0.5 3.5l-2 3.5l-1.5 2.5M171.1 683.5l-1 3l-2 4.5l-1 2.5l-2 3M197.4 635.2l3 3l1 2l3.5 1.5l1 2.5l2 1.5l3.5 2.5l2 1.5l2.5 3l2 1.5l3 1.5l3 2l3 2.5l2.5 1.5l3 3" fill="none" stroke="#262626" stroke-width="1.35" opacity="0.9" stroke-linejoin="round" stroke-linecap="round"/>
<ellipse cx="163.8" cy="702.5" rx="3.2" ry="5" fill="#555" stroke="#222" stroke-width="1" transform="rotate(-5 163.8 702.5)"/>
<path d="M167.5 624.5h0M160.5 659.5h0M170.5 687.5h0M177.5 694.5h0M151.5 650.5h0M175.5 724.5h0M233.5 584.5h0M165.5 633.5h0M205.5 706.5h0M188.5 587.5h0M228.5 639.5h0M115.5 628.5h0M200.5 721.5h0M179.5 695.5h0M100.5 617.5h0M198.5 593.5h0M106.5 641.5h0M104.5 573.5h0M108.5 656.5h0M185.5 691.5h0M137.5 666.5h0M231.5 725.5h0M182.5 672.5h0M134.5 601.5h0M206.5 641.5h0M220.5 714.5h0M226.5 608.5h0M198.5 710.5h0M231.5 666.5h0M129.5 627.5h0M156.5 661.5h0M197.5 630.5h0M120.5 642.5h0M209.5 720.5h0M151.5 613.5h0M193.5 705.5h0M141.5 615.5h0M232.5 584.5h0M193.5 662.5h0M202.5 660.5h0M195.5 583.5h0M99.5 681.5h0M173.5 569.5h0M181.5 571.5h0M211.5 690.5h0M169.5 626.5h0M203.5 578.5h0M152.5 704.5h0M228.5 670.5h0M102.5 637.5h0M111.5 636.5h0M203.5 655.5h0M117.5 647.5h0M158.5 612.5h0M160.5 651.5h0M187.5 639.5h0M119.5 707.5h0M137.5 722.5h0M105.5 705.5h0M230.5 584.5h0M152.5 629.5h0M148.5 633.5h0M162.5 622.5h0M194.5 655.5h0M149.5 695.5h0M129.5 682.5h0M121.5 655.5h0M206.5 624.5h0M233.5 571.5h0M233.5 712.5h0M128.5 702.5h0M192.5 635.5h0M220.5 709.5h0M136.5 695.5h0M207.5 679.5h0M216.5 618.5h0M102.5 653.5h0M160.5 632.5h0M165.5 714.5h0M212.5 662.5h0M183.5 635.5h0M217.5 624.5h0M120.5 662.5h0M101.5 646.5h0M130.5 683.5h0M176.5 624.5h0M129.5 627.5h0M115.5 662.5h0M191.5 675.5h0M172.5 683.5h0" stroke="#2a2a2a" stroke-width="1.7" stroke-linecap="round" opacity="0.8"/>
<rect x="188.6" y="721.8" width="39.6" height="2.4" fill="#111"/>
</g>
<defs><clipPath id="ph4"><rect x="387.0" y="567.5" width="136.0" height="161.5"/></clipPath></defs>
<g clip-path="url(#ph4)">
<rect x="387.0" y="567.5" width="136.0" height="161.5" fill="#e4e4e4"/>
<ellipse cx="395.0" cy="650.0" rx="14" ry="70" fill="#808080" filter="url(#bl6)"/>
<ellipse cx="392.0" cy="710.0" rx="10" ry="18" fill="#404040" filter="url(#bl6)"/>
<ellipse cx="420.0" cy="620.0" rx="20" ry="50" fill="#b0b0b0" filter="url(#bl6)"/>
<path d="M385 590l2 2l1 3l1 3l1 3l0 3l1 3l1 3l0 3l0 3l0 3l1 3l0 3l0 3l0 3l-1 2l0 3l0 3l1 3l0 3l1 3l1 3l1 3l0 3l-1 3l0 3l0 3l0 3l1 3l0 3l1 3l0 3M395 660l2 3l1 2l1 3l1 3l1 3l2 2l2 2M408 576l1 2l2 3l3 2l2 2l2 2l2 2l2 2l2 3l2 2l1 2l1 3l1 3l1 3l2 3l0 3l1 2l1 3l0 3l1 3l0 3l0 3l-1 3l-1 3l0 3l0 3l-1 3l-1 3l0 3l0 3l0 3l1 3l0 3l1 3l1 2l1 3l1 3M434 618l2 2l2 2l3 2l2 2l2 2l3 2l2 2l1 3l2 2l1 3l2 2l2 2l2 3l1 2l2 3l1 3l2 2l1 3M408 580l-1 3l0 3l0 3l0 3l-1 3l0 3l0 3l0 3l1 3l0 3l-1 3l0 3l0 3l0 3l0 3l0 3l-1 3l0 3l-1 3l-1 3l-1 3l-1 3l0 3l0 3l0 3l0 3l0 3M403 640l-1 3l0 3l-1 2l-1 3l-1 3l-1 3l-1 3M406 622l1 3l1 3l0 3l1 3l0 3l1 3l0 3l0 3l1 3l1 3l0 3l0 3M414 574l1 2l1 3l1 3l1 3l0 3l0 3l1 3l1 3l0 3l1 3l0 3l0 3l0 3l0 3l0 3l1 2l1 3l1 3l0 3l1 3l0 3l-1 3l0 3l0 3l1 3l0 3l0 3l-1 3l0 3M421 603l1 2l1 3l1 3l1 3l1 3l1 2l1 3l2 3l1 3l1 2l1 3l1 3l0 3l0 3l0 3M424 638l1 3l1 3l1 3l0 3l0 3l1 3l0 3l1 3M393 581l1 3l2 2l2 3l1 2l2 2l2 3l2 2l2 3l1 2l1 3l1 3l1 3l0 3l1 3l1 3l0 3l0 3l0 3l0 3l-1 3l-1 2M408 603l1 3l2 2l2 3l1 3l1 3l1 2l1 3l0 3l1 3l0 3l0 3l0 3l0 3M401 593l2 3l2 2l2 3l2 2l1 2l2 3l1 2l2 3l2 2l2 3l2 2l1 3l2 2l1 3l1 3l1 2M404 574l2 3l1 3l2 2l2 2l2 3l2 2l1 3l2 2l2 3l1 2l2 2l2 2l2 3l2 2l3 2l2 1l3 2l2 1l3 2l2 2l3 2l1 2l2 3l2 2l2 2l2 2l2 2l2 3l2 2l2 2l3 2M423 601l2 3l0 3l1 3l0 3l0 3l1 3l1 2l2 3l0 3l1 3l1 3l1 2l1 3l1 3l0 3l1 3l2 3l1 2l1 3l2 3M447 620l1 2l3 2l2 2l3 1l2 2l2 2l3 2l2 2l2 2l3 1l2 2M392 571l2 2l2 2l2 3l2 2l2 2l2 3l1 2l2 2l2 3l1 3l2 2l2 2l1 3l2 3l1 2l2 3l1 2l2 3l1 3l1 3l2 2l1 3l1 3l1 2l2 3l1 2l2 3l2 2l1 3l2 2l2 3l1 2l2 3l1 3l2 2l1 3l2 2l2 2l3 2l2 1M440 646l3 2l2 1l3 2l2 2l2 2l2 2l3 2l2 2l2 2M423 615l1 3l2 2l3 2l2 1l3 2l2 2l2 2l3 2l2 2l2 2l2 2l1 3l2 2l2 3l1 2l2 3l1 2l2 3M406 581l1 2l1 3l1 3l1 3l0 3l1 3l1 2l2 3l1 3l1 3l1 2l2 3l2 2l2 2l2 3l2 2l2 2l2 2l1 3l2 2l2 2M423 618l2 2l2 3l1 2l1 3l1 3l1 3l1 3M414 603l2 3l1 2l2 3l1 2l1 3l1 3l1 3l1 3l1 2l1 3l1 3l0 3M396 578l1 3l1 3l0 3l0 3l0 3l-1 3l0 3l1 3l1 3l1 2l0 3l1 3l1 3l0 3l0 3l0 3l1 3l0 3l1 3l1 3l0 3l1 3l1 3l1 2l1 3l0 3l-1 3l0 3l0 3l-1 3l-1 3l-1 3l0 3l-1 3l0 3l1 3l0 3l0 3l1 3l0 3l1 3l0 3M405 637l1 3l2 2l2 2l2 2l2 3l1 2l2 3l1 2l2 3l1 3l1 2l1 3l2 3l1 3l1 3l1 3l1 2l1 3l2 2M403 631l1 3l2 2l1 3l1 3l2 2l1 3l2 3l1 3l1 2l1 3l2 3l1 2l0 3l0 3l0 3l0 3l0 3l0 3l1 3l0 3l-1 3M404 582l1 3l1 2l2 3l2 2l1 3l2 3l1 2l1 3l1 3l1 3l1 3l0 3l1 3l0 3l1 3l0 2l1 3l0 3l1 3l-1 3l1 3l0 3l0 3l1 3l1 3l1 3M418 612l0 3l-1 3l1 3l0 3l1 3l1 2l1 3l1 3l2 2l1 3l2 2l2 3l2 2M418 615l2 2l2 3l2 2l1 3l2 2l1 3l2 2l1 3l2 2l1 3l2 3l1 2l1 3l1 3l2 3M424 574l1 2l2 3l3 2l2 2l2 2l2 2l1 3l2 2l1 3l1 3l1 2l1 3l0 3l1 3l1 3l0 3l1 3l1 3l1 3l1 3l1 2l0 3l1 3l1 3M444 609l2 3l1 3l2 2l1 3l1 2l2 3l2 2l2 2l2 2l2 2l2 3M394 600l1 2l1 3l1 3l1 3l2 2l1 3l1 3l1 3l2 2l2 3l1 2l1 3l1 3l0 3l1 3l2 2l1 3l1 3l2 3l1 2l2 3l1 3l1 2l0 3l2 3l1 3l1 3l1 2l1 3l0 3l2 3l1 3l1 2l2 3l1 2l2 3l2 2l2 2M424 668l1 3l0 3l0 3l1 3l0 3l1 3l0 3l0 3l0 3l0 3l0 3l-1 3M414 597l1 3l1 3l2 2l0 3l2 3l1 3l1 2l1 3l2 3l1 3l1 2l1 3l1 3l0 3l1 3l1 3l1 3l0 3l0 3l0 3l0 3l0 3l-1 3l0 3l-1 3l0 3l0 3l-1 2l0 3l0 3l-1 3l0 3l-1 3l-1 3l-1 3l-1 3l0 3M430 639l-1 3l-1 3l-1 2l-2 3l-1 2l-2 3l-2 2l-1 3l-1 3l-1 3l-2 2l-1 3l-2 2l-2 2l-2 3l-1 3l-2 2l-1 3l-2 2l-3 2M428 630l-1 3l0 3l0 3l-1 3l0 3l-1 3l-1 3l0 3l-1 3l-1 3l0 3l-1 2l0 3l-1 3l0 3l-1 3l-1 3l-1 3l-1 3l-1 3l0 3l-1 2l-1 3l-1 3l-1 3l0 3M394 583l0 3l0 3l0 3l0 3l0 3l0 3l0 3l0 3l1 2l0 3l1 3l1 3l1 3l0 3l0 3l0 3l1 3l0 3l1 3l0 3l0 3l1 3l0 3l1 3l0 3l1 3l0 3l1 2l0 3l0 3l0 3l1 3l0 3l1 3l0 3l0 3l-1 3l0 3l0 3l0 3l0 3l-1 3M400 642l1 3l1 2l1 3l1 3l2 3l1 2l1 3l1 3l0 3l1 3l1 3l1 3l1 2l2 3l0 3l2 3l1 2l1 3l1 3M398 592l1 3l0 3l0 3l0 3l0 3l1 3l0 3l0 3l0 3l1 3l1 3l1 3l1 3l2 2l1 3l1 3l0 3l1 3l0 3l0 3l0 3l1 3l0 3l0 3l0 3l0 3M407 636l0 3l0 3l0 3l0 3l0 3l1 3l0 3l0 3l1 3l-1 3l0 3l0 3M405 580l0 3l0 3l1 3l0 3l0 3l0 3l0 3l0 3l0 3l0 3l0 3l0 3l0 3l0 3l0 3l-1 3l-1 2l-1 3l-1 3l-1 3l-1 3l-1 2l-1 3l-2 3l-1 2l-2 3l-2 2l-1 3l-1 3l-2 2l-1 3l-2 2l-2 3l-1 3l-1 2l-1 3l-1 3l-1 3l-1 3l-1 3M393 655l1 3l1 3l2 2l1 3l1 3l1 2l2 3l1 3l0 3l0 3l1 3l0 3l0 3l0 3l0 3M387 665l1 3l0 3l0 3l1 3l1 3l0 3l1 3l0 3l0 3l-1 3l0 3M415 584l1 3l0 3l1 3l0 3l1 3l0 3l0 3l0 3l1 3l0 3l0 3l1 3l-1 3l1 3l1 3l1 2l2 3l0 3l2 3l2 2l1 2l2 3l1 3l1 2l1 3l1 3l1 3l1 3l1 3l-1 3l0 3l1 3l1 3l1 2l2 3l1 2l2 3l2 2M419 617l1 3l2 2l0 3l1 3l1 3l2 3l1 2l1 3l1 3l1 3l1 2l1 3l1 3l0 3l1 3l2 3l1 2l1 3l1 3l2 3l1 2l1 3l1 3M428 642l0 3l1 3l1 3l0 3l1 3l0 3l1 3l0 2l0 3l0 3l0 3l0 3l0 3l0 3l1 3l0 3l0 3l2 3M395 585l2 3l1 3l2 2l1 3l2 2l1 3l2 3l1 2l2 2l2 3l2 2l2 2l2 3l2 2l1 3l3 2l2 2l2 1l3 2l2 2l2 2l2 3l2 2l2 2l1 3l1 3l1 3l1 3l1 2l1 3l0 3l1 3l0 3M417 618l2 2l2 2l2 2l2 3l2 2l2 2l1 3l2 3l1 2l2 2l1 3l1 3l2 3l1 2l2 3l1 3l1 2M420 623l2 2l2 3l1 2l1 3l2 3l0 3l0 3l0 3l0 3l0 3l0 3l1 3l0 2l1 3l1 3l1 3M401 569l0 3l1 3l1 3l0 3l2 3l2 2l1 3l2 2l1 3l1 3l2 2l2 3l1 2l1 3l1 3l1 3l1 3l-1 3l0 3l-1 3l1 2l0 3l1 3l1 3M418 607l1 3l0 3l0 3l0 3l0 3l1 3l0 3l1 3l2 2M415 584l1 3l1 3l0 3l1 3l0 3l1 3l1 2l2 3l2 2l2 2l2 3l1 2l1 3l1 3l2 3l1 2l1 3l1 3l1 3l0 3l0 3l1 3l1 3l1 3l1 2l2 3l1 3l1 2l1 3l1 3l2 3l1 2l1 3l1 3l1 3l1 3l2 2l1 3l1 3l1 2l2 3l1 3M449 670l1 3l0 2l2 3l0 3l1 3l0 3l0 3l0 3l1 3l0 3M447 667l2 3l1 2l1 3l0 3l1 3l1 3l0 3l1 3l1 3l1 3l1 2l1 3l2 3M419 591l1 3l0 3l1 3l0 3l1 3l0 3l-1 3l0 3l0 3l0 3l1 3l1 3l0 3l1 3l1 3l0 2l1 3l1 3l1 3l2 2l1 3l1 3l1 3l0 3l1 3l1 3l0 3l1 2l1 3l1 3l1 3l0 3M433 658l1 2l2 3l1 3l1 3l1 2l1 3l2 3l1 2M421 621l2 2l1 3l2 3l1 2l1 3l0 3l1 3l1 3l1 3l1 3l1 3l1 2l1 3l1 3l1 3l2 2l1 3l2 2l2 2l2 3l1 3l1 2l2 3l1 2M415 597l1 3l2 2l2 3l2 2l1 3l1 3l1 3l1 2l1 3l1 3l1 3l1 3l2 2l1 3l1 3l2 2l1 3l0 3l1 3l0 3l0 3l0 3l-1 3l1 3M436 640l-1 3l0 3l1 3l0 3l1 3l0 3l1 3l0 3l1 3M428 624l0 3l-1 3l-1 3l-1 3l0 2l0 3l-1 3l-1 3l-1 3l-1 3l-1 3M391 599l2 3l1 3l2 2l1 3l1 3l0 3l0 3l1 3l1 3l1 2l2 3l1 2l2 3l2 2l2 3l2 2l1 2l2 3l2 2l2 2l2 3l1 3l1 2l2 3l2 2l2 2l2 2l2 2l2 2l2 2l2 3l2 2l2 2l2 3l2 2l2 2l1 3M406 635l1 3l0 3l0 3l2 2l1 3l0 3l1 3l1 3l2 2l1 3l2 2l2 3l2 2l2 2l2 2l2 2l3 2l1 3l2 2l1 3l1 3l1 2l2 3M415 647l1 2l2 3l1 3l2 2l2 2l2 3l2 2l1 3l2 2l1 3l2 2l1 3l2 2l2 3l2 2l1 3l2 2l2 2l2 2l2 3M391 585l1 3l2 3l1 2l2 3l2 2l2 2l2 3l1 2l2 2l3 2l1 3l2 3l2 2l2 2l1 3l2 2l2 2l2 2l2 3l1 3l1 3l0 3l1 2l0 3l0 3l0 3l0 3l0 3l2 3l1 3l1 2l2 3l1 3l2 2l2 3M409 609l1 3l2 3l1 2l2 3l2 2l2 2l2 2l2 2l2 2l3 2l1 3l2 2l2 2l2 3l2 2l2 2l3 1l2 2l3 2l1 3l3 2l2 2l2 2l2 2l2 2l1 3l2 2l3 2M427 640l1 2l1 3l0 3l1 3l1 3l1 3l1 3l1 2l1 3l1 3l1 3l1 3M409 573l0 3l0 3l0 3l-1 3l0 3l-1 3l0 3l-1 3l0 3l-1 3l0 3l-1 3l-1 2l-1 3l0 3l0 3l1 3l0 3l1 3l1 3l1 3l2 2l1 3l2 3l1 2l1 3l1 3l2 2l1 3l3 2l2 2l1 3l2 2l2 2l2 3l1 2l2 3l1 3l1 2l1 3M409 640l1 3l1 3l0 3l1 3l1 3l0 2l0 3l0 3l0 3l-1 3l0 3l-1 3l0 3l0 3l0 3M408 637l-1 3l-1 3l-1 3l0 3l-1 3l-1 3l-1 3l-1 2l-2 3l-1 3l-1 2l-1 3l-1 3l0 3l0 3l0 3M391 568l0 3l0 3l1 3l1 3l0 3l1 3l0 3l1 3l1 3l1 2l0 3l2 3l1 3l1 3l1 2l0 3l1 3l1 3l0 3l0 3l1 3M400 606l1 3l0 3l0 3l-1 3l0 3l0 3l1 3M416 581l3 1l2 2l3 1l3 1l3 1l3 1l3 1l2 1l3 1l3 2l2 1l3 1l3 1l2 2l2 2l3 2l2 2l3 1l2 2l3 2l2 2l2 2l3 1l2 2l2 2l3 2l2 2l2 2l2 2l2 2l2 3l2 2l1 3l1 3M438 590l3 1l3 1l3 1l2 1l3 0l3 1l3 1l3 1l3 1l3 1l3 0l3 1l2 1l3 0l3 0l3 1l3 1l3 1l3 0l3 1l3 0l3 0l3 1l3 1l3 1l2 1l3 0l3 1M396 590l-1 3l0 3l0 3l1 3l1 3l1 3l1 3l0 3l1 3l0 3l0 3l1 3l1 2l2 3l1 3l1 3l1 2l1 3l1 3l1 3M400 620l1 3l1 2l1 3l2 3l1 2l1 3l2 3l1 3l1 2M396 590l1 3l1 3l2 3l1 3l0 2l1 3l1 3l2 3l1 2l2 3l1 2l2 3l1 3l1 3l0 3l1 3l1 2l1 3l1 3l1 3l0 3l1 3l1 3l2 2l1 3l1 3l2 2l1 3l2 2l2 3l1 2l2 2M418 649l2 2l1 3l1 3l1 3l1 3l1 3l0 2l1 3l1 3l1 3M418 649l0 3l0 3l0 3l1 3l0 3l1 3l1 3l0 3l0 3M398 599l1 3l1 3l1 3l1 2l1 3l1 3l1 3l1 3l1 2l1 3l1 3l1 3l0 3l1 3l0 3l0 3l1 3l0 3l2 2l1 3l2 3l1 2M404 616l1 3l0 3l0 3l1 3l0 3l0 3l1 3l1 2l1 3l0 3l1 3l1 3l0 3M502 582l-1 3l0 2l-1 3l0 3l0 3l-1 3l0 3l0 3l-1 3l0 3l0 3l1 3l-1 3l0 3l0 3l0 3l-1 3l0 3l-1 3l-1 3l-1 3l-1 3l-2 2l-1 3M498 629l-1 3l0 3l0 3l1 3l1 3l-1 3l0 3M459 577l1 3l1 2l1 3l0 3l0 3l2 3l0 3l1 3l0 3l1 3l2 2l1 3l1 3l1 3l1 3l1 2l1 3l2 3l1 2l2 3M470 614l1 3l1 3l1 2l1 3l1 3l2 2l1 3M464 594l2 2l2 2l2 3l1 2l2 3l1 2l2 3l1 2l1 3l1 3l1 3l1 3l1 3M502 580l-1 3l0 3l-1 3l-1 3l0 3l0 3l-1 3l-1 3l0 3l-1 3l-1 3l0 2l-1 3l0 3M497 607l-2 2l-1 3l-2 2l-2 3l-2 2l-2 2M458 587l-1 3l-1 3l-2 2l-1 3l-2 2l-2 3l-2 2l-2 2l-2 2l-1 3l-1 3l-2 2l0 3l-1 3l0 3l1 3l0 3l0 3l-1 3l-1 3l-1 2l-2 3M445 607l0 3l0 3l1 3l1 3l0 3l0 3l0 3l-1 3l0 3l0 3l0 3l-2 2M451 600l-1 3l-2 2l-2 3l-2 2l-2 2l-1 3l-2 3l0 2l-2 3l-1 3l-1 3l-1 2l-1 3l-1 3l-1 3M484 579l0 3l0 3l0 3l-1 3l0 3l-1 2l-1 3l0 3l-1 3l0 3l0 3l0 3l0 3l0 3l-1 3l-1 3l-1 3l-2 2M481 602l-2 3l-1 2l-2 3l-2 2l-1 3l-1 3l-1 3l0 3l0 3M448 587l-1 3l0 3l-1 3l-1 2l-1 3l-1 3l-2 3l-1 2l-1 3l-1 3l-1 3l-1 3l-1 2l-2 3l-1 3l-1 3l-1 3M444 601l-2 3l-1 3l-1 2l-1 3l0 3l-1 3l0 3l-1 3l0 3l0 3l0 3M499 588l0 3l1 3l1 3l0 3l0 3l0 3l0 3l0 3l0 3l0 3l0 3l0 3l0 3l-1 3l-1 3l0 2l-1 3l0 3l0 3l0 3l-1 3l0 3M501 624l0 3l0 3l-1 3l1 3l0 3l0 3l1 3l0 3M501 618l0 3l0 3l0 3l0 3l0 3l0 3l0 3l1 3l0 3l0 3l1 3l0 3l0 3M468 579l2 3l2 2l1 3l3 2l2 1l3 2l2 1l3 2l2 2l3 2l2 2l2 2l1 3l1 2M483 593l2 3l2 2l1 3l2 2l2 3l1 2" fill="none" stroke="#3a3a3a" stroke-width="1.0" opacity="0.75" stroke-linecap="round"/>
<path d="M454.6 692.5l-1 -2.5l-1 -4l-0.5 -2l-1.5 -3.5l-0.5 -2.5l-0.5 -3.5l-0.5 -2.5l0 -3.5l-2 -3.5l-0.5 -3.5l-0.5 -3l0 -4.5l-1.5 -2.5l-0.5 -3.5l0 -3l0 -4l-1 -2.5l1 -2.5l-1 -4l-1 -2l-0.5 -3.5l1 -3.5l-0.5 -3.5l0 -3l-0.5 -3l-0.5 -3.5l0.5 -2.5l-0.5 -3.5l0.5 -3l0.5 -3.5l0.5 -4l-1 -3l0 -2l0.5 -3.5l-0.5 -3.5M454.6 692.5l2 -3l1 -3l1.5 -3l1 -2.5l2 -3l2 -3.5l1.5 -2.5l0.5 -2.5l2 -3l2 -3l0.5 -3.5l2 -1.5l0.5 -3.5l2 -3.5l1.5 -3l1 -3l2 -2l1 -3.5l2 -3l1.5 -3.5l0.5 -2.5l2.5 -2.5l0.5 -3l2.5 -3.5l1 -2.5l2.5 -2.5l1 -2.5l2 -2l2 -3l2.5 -2.5l1 -2.5l1.5 -2.5l2.5 -3M454.6 692.5l-3 -2l-2 -1.5l-1 -3l-4 -2l-0.5 -2.5l-3.5 -2l-2 -1.5l-1.5 -4l-1 -1l-0.5 -4.5l-2.5 -2.5l-1 -2.5l-1 -3.5l-1.5 -2l-1.5 -3.5l-1 -3l-0.5 -2.5l-0.5 -2.5l-1 -4l-2 -3l-1 -3.5l-1 -1.5l-1 -3l0.5 -4l-2.5 -2.5l0 -2.5l-1 -3l-0.5 -2.5l-1.5 -3l0 -3.5l-1.5 -2.5l0 -3l-0.5 -3l-1 -3l-1 -3l-1.5 -3l0 -3l-2 -2l-2.5 -2.5l-1.5 -3l-1.5 -2l-3 -3.5l-1.5 -1.5M454.6 692.5l3 -2l3 -3l2 -2l2.5 -2l3 -2.5l2.5 -3l1 -2l3.5 -2.5l3 -2.5l2 -2l2.5 -3l1 -3.5l0.5 -3l1.5 -2l1 -3l1.5 -3l-0.5 -3l4 -3l-0.5 -2.5l0 -4l-1 -2l-1 -4.5l0.5 -3.5l-0.5 -2.5l-0.5 -4M441.5 613.5l2 -2.5l2 -2.5l1.5 -2.5l2 -2l2 -2.5l2 -2.5l1.5 -1.5l1.5 -4l1.5 -3.5l1.5 -3l-1.5 -3l-1.5 -2.5M505.8 598.9l2.5 -0.5l4 -0.5l2.5 -0.5l2.5 -1.5l1 -3l2 -3M397.6 578.4l0.5 3.5l2.5 1.5l0.5 4l1.5 2l1 4l1 2l1 3.5l1 2l2 4l1 2.5l1.5 3.5l-0.5 2.5l2 2.5l1.5 3.5l0.5 3l0 3.5l1.5 2l1 3l0 3.5l2 2l1.5 3l0.5 3.5l1.5 3l1 1.5l1 3.5l1.5 3.5l1 3l0 3l2 2.5l1 3l0 3.5l1.5 2.5l0 5l1.5 3l0.5 2.5l0.5 4l0.5 3l1 3M388.8 572.6l1 3l1 2.5l2 3.5l1 3.5l2 3l1 1.5l1 3l1 4l1.5 2.5l0.5 3l1 2.5l0.5 4l1 2l1 3l1 2.5l1 3l0.5 2.5l1 3l1 3.5l0.5 3l0 3l1.5 4l0.5 3l0 3l1 3.5l0.5 3l0.5 4l0.5 3l1 3M415.1 598.9l3.5 2l2 2l2 3.5l2 1.5l3 2.5l2.5 3l2.5 -1l2 -1.5l2.5 -2.5l2.5 -2l3 -2l2 -1.5l3 -1M500.0 698.4l0.5 -2.5l1.5 -3.5l1 -2.5l1.5 -3l0.5 -2.5l1 -4l0.5 -2l1 -3.5l1.5 -3l0.5 -3l1 -3.5l0 -3l1 -3.5l0.5 -3l1 -3.5l-0.5 -3l2 -4l0 -2.5l0.5 -3.5l1.5 -3.5l0 -3.5l-0.5 -3.5l1 -4.5l0.5 -2M434.1 705.7l0 -3l-0.5 -2l-0.5 -5l-1 -2.5l0.5 -3.5l-1 -2.5l-1.5 -3l0.5 -3.5l-2 -2l-1 -4l-0.5 -2.5" fill="none" stroke="#262626" stroke-width="1.35" opacity="0.9" stroke-linejoin="round" stroke-linecap="round"/>
<ellipse cx="434.1" cy="705.7" rx="3" ry="5" fill="#555" stroke="#222" stroke-width="1" transform="rotate(0 434.1 705.7)"/>
<ellipse cx="454.6" cy="705.7" rx="3" ry="5" fill="#555" stroke="#222" stroke-width="1" transform="rotate(0 454.6 705.7)"/>
<path d="M509.5 710.5h0M402.5 634.5h0M469.5 653.5h0M485.5 608.5h0M489.5 654.5h0M394.5 578.5h0M506.5 586.5h0M477.5 569.5h0M417.5 625.5h0M432.5 656.5h0M437.5 624.5h0M447.5 641.5h0M519.5 686.5h0M479.5 606.5h0M428.5 678.5h0M402.5 721.5h0M514.5 724.5h0M513.5 627.5h0M426.5 595.5h0M468.5 612.5h0M469.5 652.5h0M455.5 581.5h0M449.5 606.5h0M494.5 709.5h0M512.5 700.5h0M469.5 691.5h0M477.5 622.5h0M492.5 689.5h0M434.5 577.5h0M400.5 592.5h0M445.5 720.5h0M492.5 630.5h0M498.5 683.5h0M397.5 588.5h0M438.5 625.5h0M492.5 725.5h0M508.5 724.5h0M477.5 684.5h0M389.5 603.5h0M507.5 673.5h0M439.5 654.5h0M460.5 714.5h0M466.5 718.5h0M442.5 655.5h0M488.5 671.5h0M496.5 576.5h0M445.5 633.5h0M489.5 716.5h0M433.5 707.5h0M433.5 593.5h0M477.5 724.5h0M392.5 614.5h0M410.5 593.5h0M480.5 628.5h0M429.5 704.5h0M433.5 611.5h0M511.5 726.5h0M510.5 593.5h0M517.5 721.5h0M493.5 637.5h0M438.5 655.5h0M496.5 662.5h0M426.5 655.5h0M496.5 586.5h0M502.5 671.5h0M394.5 577.5h0M479.5 624.5h0M494.5 586.5h0M393.5 700.5h0M508.5 632.5h0M408.5 663.5h0M396.5 677.5h0M518.5 631.5h0M416.5 676.5h0M418.5 686.5h0M433.5 689.5h0M500.5 718.5h0M482.5 703.5h0M435.5 651.5h0M427.5 673.5h0M443.5 593.5h0M451.5 567.5h0M451.5 722.5h0M430.5 568.5h0M390.5 704.5h0M432.5 614.5h0M482.5 695.5h0M488.5 595.5h0M446.5 681.5h0M419.5 605.5h0M522.5 633.5h0M501.5 689.5h0M455.5 665.5h0M387.5 587.5h0M504.5 627.5h0M418.5 596.5h0M493.5 621.5h0M443.5 693.5h0M406.5 580.5h0M445.5 581.5h0M417.5 721.5h0M396.5 580.5h0M433.5 713.5h0M434.5 646.5h0M468.5 721.5h0M490.5 727.5h0M480.5 718.5h0M415.5 567.5h0M456.5 655.5h0M515.5 580.5h0M517.5 612.5h0M448.5 671.5h0M413.5 673.5h0M485.5 685.5h0M405.5 700.5h0M427.5 608.5h0M493.5 580.5h0M485.5 681.5h0M398.5 621.5h0M425.5 623.5h0" stroke="#2a2a2a" stroke-width="1.7" stroke-linecap="round" opacity="0.8"/>
<rect x="479.5" y="721.2" width="39.5" height="2.4" fill="#111"/>
</g>
<defs><clipPath id="ph5"><rect x="677.5" y="567.0" width="133.5" height="160.5"/></clipPath></defs>
<g clip-path="url(#ph5)">
<rect x="677.5" y="567.0" width="133.5" height="160.5" fill="#e3e3e3"/>
<ellipse cx="700.0" cy="650.0" rx="20" ry="60" fill="#c4c4c4" filter="url(#bl6)"/>
<ellipse cx="805.0" cy="720.0" rx="5" ry="10" fill="#999" filter="url(#bl3)"/>
<path d="M783 579l-1 3l-1 3l-1 2l-2 3l-2 2l-2 2l-2 3l-2 2l-1 2l-2 3l0 3l-1 3l0 3l-1 3l-1 3l-1 3l0 2l-1 3l-1 3l-1 3l-1 3l-2 2l-2 3l-1 2l-1 3l-1 3l-2 2l-2 2l-2 3l-2 2l-3 2l-2 2l-2 2M762 627l-2 3l-2 2l-1 3l-2 2l-2 3l-1 2l-1 3l0 3l-1 3l-1 3l-1 3l0 3l0 3l-1 3l-1 3l0 3M767 604l-1 3l-1 3l-1 3l0 3l0 3l0 2l-1 3l0 3l-1 3l-1 3l-2 2l-2 3l-2 2l-1 3l-2 2l-2 3l-1 2l-1 3l-2 3l-1 2l-2 3l-1 2l-2 3l-1 3l-1 3M761 578l0 3l-1 3l1 3l0 3l0 3l0 3l-1 3l0 3l-1 2l-1 3l-1 3l-1 3l-1 3l-2 2l-1 3l-2 2l-1 3l-1 3l-2 2l-2 3l-1 2l-1 3M761 593l0 3l-1 3l0 3l1 2l1 3l1 3l0 3l1 3l1 3l1 3l1 2l1 3l1 3l0 3M761 596l-2 2l-2 3l-2 1l-2 2l-2 3l-2 2l-2 2l-3 2l-2 2l-3 1l-2 2l-3 1l-2 2l-2 2M810 572l1 2l2 3l2 2l2 3l1 2l2 2l2 3l2 2l2 2l2 3l1 2l2 3l1 3l1 3l1 2l1 3l2 3l1 2l1 3l2 3l1 2l3 2M837 615l0 3l1 3l0 3l1 2M822 589l3 2l2 1l3 2l2 2l2 1l3 2l2 2l3 2l1 2l3 2l2 2l3 1l2 2l2 2l3 2M745 579l-1 2l-1 3l-1 3l-1 3l-1 3l-1 2l0 3l-1 3l-1 3l-1 3l-1 3l-1 3l0 3l-2 2l-1 3l-1 3l-1 3l-2 2l-1 3l-1 3l-1 3l-1 2l-1 3l-2 3l-1 2M729 627l-3 1l-2 2l-2 3l-1 2l-2 2l-2 3l-2 2l-3 1M800 577l-1 3l0 3l-1 3l0 3l-1 3l0 3l-1 3l0 3l0 3l0 3l0 3l0 3l1 3l1 2l0 3l1 3l0 3l1 3l0 3l0 3M798 621l0 3l0 3l-1 3l-2 3M772 587l0 3l0 3l0 3l0 3l-1 3l0 3l0 3l0 3l0 3l0 3l0 3l0 3l0 3l0 3l1 3l0 3l0 3l0 3l-1 3l0 3l0 3l1 3l0 3l0 3l1 3l1 3l1 2l1 3l2 3l1 2l2 3l1 3l2 2l1 3l2 2l2 2l1 3l1 3l1 3l1 3l1 3M772 656l-1 3l-1 3l0 2l-1 3l-1 3l-1 3l-1 3l-1 2l-2 3l-1 3l-1 3l-1 2l-1 3l-1 3l0 3l-1 3l-1 3l0 3M772 656l-1 3l0 3l0 3l1 3l1 2l1 3l1 3l0 3l1 3l0 3l0 3l1 3l0 3l0 3l-1 3l-1 3M686 583l1 3l0 3l-1 3l0 3l-1 3l-1 2l-1 3l-1 3l-1 3l-1 3l0 3l0 3l1 3l0 3l1 3l0 3l1 3l0 3l1 3l1 2l0 3l0 3l0 3l0 3l0 3l0 3l0 3M683 603l1 3l0 3l1 3l0 3l0 3l0 3l0 3l-1 3l-1 3l0 3l0 3l1 3l0 3l0 3l1 3l0 3l-1 3l1 3l1 3l1 3l0 2l1 3M680 618l1 3l2 2l2 3l1 2l1 3l1 3l0 3l1 3l1 3l1 3l1 3l1 2l0 3l-1 3l0 3l0 3M720 571l-1 3l-1 3l-1 3l-1 2l-1 3l-2 2l-1 3l-2 3l-1 3l-1 2l-1 3l-2 3l-1 2l-2 3l-1 3l0 3l0 3l0 3l0 3l0 3l0 3l0 3l-1 3l-1 3l0 2l-2 3l-1 3l-2 2l-1 3l-1 3l-2 2l-1 3l-1 3l-2 2M705 604l-1 2l-2 3l-1 3l-1 3l-1 2l-2 3l-1 2l-2 3l-1 3l-1 3l-1 2l-1 3l-1 3l-1 3l0 3l-1 3l0 3l-1 3l0 3l-1 3l0 3M697 644l-1 3l-1 3l-2 2l-2 2l-2 3l-1 2l-2 3M692 589l-2 3l-2 2l-2 3l-2 2l-1 2l-2 3l-2 2l-1 3l-2 2l-2 3l-2 2l-1 3l-2 2l-1 3l-2 2l-2 2l-1 3l-1 3l-1 3l0 3l-1 3l-1 3l0 3l-1 3M662 634l-1 3l0 3l-1 3l-1 3l-1 3M691 584l-1 3l0 3l0 3l0 3l0 3l0 3l0 3l0 3l0 3l0 3l-2 3l-1 3l-1 2l-1 3l-1 3l1 3l-1 3l1 3l0 3l1 3l0 3l1 3l0 3l0 3l0 3l-1 3l-1 3l0 3l-1 3l-1 3l0 3l0 3M687 652l-1 3l-1 3l-2 2l-1 3l-2 2l-2 2l-2 3l-2 2l-2 2M686 622l0 3l-1 3l0 3l0 3l-1 3l0 3l-1 3l0 3l-1 3l-1 3l-1 3l0 3l-1 3l-1 3l-1 2l-1 3l0 3l-1 3M780 579l0 3l0 3l1 3l0 3l2 3l1 3l1 2l1 3l1 3l1 3l1 2l1 3l0 3l1 3l1 3l1 3l1 3l1 3l0 3l1 3l0 3l1 3l-1 3l0 3l1 2l-1 3l0 3l-1 3l-1 3l0 3l0 3l0 3l1 3l0 3l0 3M796 657l-1 3l-1 3l-1 3l-1 3l-1 3l-1 3l-1 2M795 631l-1 3l0 3l-1 3l-1 2l0 3l0 3l0 3l1 3l1 3l1 3l0 3l1 3l0 3l0 3l0 3l0 3l1 3l0 3M747 589l0 3l1 3l1 3l1 3l1 2l1 3l2 3l1 2l1 3l1 3l1 3l1 3l2 2l1 3l0 3l0 3l1 3l1 3l1 3l0 3M758 620l-1 3l0 3l-1 3l0 3l0 3l0 3l0 3l0 3l0 3l1 2M689 583l-1 3l-1 3l0 3l0 3l-1 3l-1 3l0 2l0 3l0 3l0 3l0 3l1 3l0 3l1 3l0 3l1 3l0 3l1 3l1 3l1 3l1 2l2 3l1 3l1 2l2 3l1 3l2 2l1 3l2 3l1 2l2 2l2 2l3 2l2 3l1 2l3 2M701 660l-2 3l-2 2l-1 3l-1 2l-1 3l0 3l0 3l0 3l-1 3l0 3M753 577l0 3l1 3l0 2l1 3l1 3l1 3l0 3l1 3l0 3l1 3l1 3l1 2l1 3l1 3l1 3l0 3l0 3l0 3l0 3l1 3l0 3l0 3l1 3l0 3l1 3l1 3l1 3l1 2l1 3l2 3M764 623l1 3l0 3l1 3l0 3l0 3l0 3l-1 3l0 3l0 3l0 3l-1 3l0 3l-1 3l-1 2l-1 3M765 635l-1 3l-1 3l-1 2l-1 3l-2 3l-2 2l-1 3l-2 3l0 2M758 569l0 3l0 3l1 3l0 3l0 3l-1 3l0 3l0 3l1 2l0 3l0 3l1 3l0 3l1 3l1 3l0 3l1 3l0 3l-1 3l0 3l-1 3l0 3l-1 3l-1 3l-1 2l-1 3M763 622l-1 3l-1 3l0 3l-1 3l-1 3l0 3l0 3l0 3M762 613l0 3l0 3l0 3l1 3l0 3l1 3l2 3l1 2l1 3l1 3l1 3M742 574l-1 3l-1 3l-1 2l-1 3l0 3l-1 3l-1 3l0 3l-1 3l0 3l-1 3l-1 3l-1 2l-1 3l-2 3l-1 2l-1 3l-2 3l-1 2l-1 3l-1 3l-2 3l0 3l-1 3l0 3l-1 2l0 3l-1 3M731 614l-2 2l-2 3l-2 2l-2 2l-2 3l-1 2l-1 3l-1 3l-1 3l-1 2l-2 3l-1 3l-1 3M728 619l0 3l0 3l-1 3l0 3l-1 3l-1 3l-1 3l-1 3l0 3l-1 3l0 2l-1 3" fill="none" stroke="#3a3a3a" stroke-width="1.0" opacity="0.75" stroke-linecap="round"/>
<path d="M709.5 718.9l-1 -3.5l0.5 -3l0 -4l-1 -4l0 -3l-1 -3.5l-1 -2.5l-0.5 -3.5l-1 -2.5l-0.5 -2l-1.5 -3l-0.5 -3.5l-0.5 -3l-0.5 -3.5l-1.5 -3l-0.5 -3l-0.5 -2l0 -3.5l-1.5 -3.5l-0.5 -2l-0.5 -4l-1 -3l-0.5 -3l0 -3l-0.5 -3.5l-1 -3l-1.5 -3.5l-0.5 -2.5l-0.5 -4l-1 -3l-0.5 -3l1 -3l0 -3.5l-0.5 -3l-1 -4.5l-0.5 -2l0 -4.5l-0.5 -2.5l0 -3l-0.5 -4l-1 -3l0.5 -4.5l0 -2l-1 -3l0 -4l-1 -3M709.5 718.9l0.5 -3.5l1 -3.5l1 -3l0.5 -3.5l0.5 -4l1 -3l0 -4l0 -3l0.5 -3.5l1.5 -3l1 -3l-1 -4l1 -2.5l0 -3.5l-0.5 -2.5l-0.5 -4l-1 -4l0.5 -2.5l0 -3l-1 -3l-1 -4l1 -3.5l-0.5 -2.5l-0.5 -3.5l-1.5 -4l0 -3l-1 -2.5l0 -3.5l-0.5 -3l-1.5 -3l0 -4l-1 -3l1 -4.5l-1 -1.5l-1 -3l1 -4.5l0 -3l-0.5 -2.5l0.5 -2.5l-0.5 -3l0.5 -4l0.5 -3.5l0 -2.5l0 -3l-0.5 -3.5M750.5 714.5l-1.5 -2l-1 -5l-0.5 -2.5l-2 -4l-1 -2l-1.5 -3.5l-1 -2.5l-2.5 -2.5l-2 -2.5l-1.5 -2.5l-1.5 -2.5l-1.5 -3l-1.5 -2l0 -4l-1 -2l-1 -4.5l0 -3.5l-1 -2.5l-1 -3l-1.5 -4l-0.5 -3l-1 -3l0 -3.5l-1 -3l-0.5 -4l-0.5 -3l-0.5 -2.5l-1 -3.5l-0.5 -3.5l-0.5 -3l-1 -3l-0.5 -4.5l-1 -2l-0.5 -3.5l0 -3.5l-1 -2.5l0 -3l-0.5 -4l-1 -2l-0.5 -4.5M750.5 714.5l-0.5 -3l-1 -3l-1 -3.5l0.5 -3l-1 -3.5l-1.5 -2.5l0 -3.5l0.5 -3l-1.5 -4.5l-0.5 -2.5l0 -3l-0.5 -3.5l-0.5 -4.5l0.5 -1.5l-1 -4l-0.5 -2l0 -4.5l-0.5 -3.5l0 -3.5l-2 -2.5l1 -2.5l0 -3.5l-0.5 -4l-0.5 -3l0 -3l1 -4l-1 -1.5l0.5 -4l-0.5 -3.5l-0.5 -3.5l1 -3l-1 -3l1 -3l-0.5 -4.5l0.5 -1.5l-0.5 -3.5l0.5 -3l1 -3.5l-1 -3l0.5 -4l1 -3l0.5 -4.5l0 -2l0.5 -3.5M750.5 714.5l1 -4l1.5 -2.5l2 -2.5l-1 -4l1.5 -2l1 -3l1.5 -4l0 -3l1 -3.5l1 -2l1 -3l1 -2.5l1 -4l0.5 -2.5l0.5 -3.5l1 -3l0.5 -3l0.5 -3.5l1.5 -3.5l-0.5 -3l1 -3.5l0.5 -3.5l1 -2.5l0.5 -3l1 -3l0.5 -4l1 -3l0 -3.5l0.5 -3.5l2 -2.5l0 -4l0.5 -3l0.5 -3.5l0 -4l1.5 -2l-1 -4l2.5 -3l0.5 -2.5l1 -4.5l0 -2l0.5 -3.5l1.5 -3l2.5 -2l2 -1.5l2 -4l1.5 -2.5l2.5 -2M750.5 714.5l2.5 -2.5l1.5 -2.5l2 -3l2 -3l2.5 -3l2.5 -2l2.5 -2l2.5 -2.5l2 -3l3 -2l2 -2.5l2 -2.5l1 -3.5l1.5 -3l2.5 -3l1.5 -2.5l0.5 -2.5l0.5 -3l0.5 -5l0 -2.5l0 -3l0.5 -3l1 -4l0.5 -3l-0.5 -3l1 -2.5l1 -4l-0.5 -3l0.5 -3.5l1.5 -4.5l1 -2l0 -3.5l0.5 -3.5l1 -3M740.2 598.9l1.5 -3.5l-0.5 -4.5l1.5 -3.5l0.5 -3l0.5 -3l1 -3.5l1 -2.5l0.5 -3M719.8 572.6l0 3.5l2 3l-0.5 4l0 3.5l0 2.5l1 4l1.5 3l0 3M775.4 657.4l2 -3l1.5 -2.5l1.5 -3.5l1 -3l2.5 -2.5l2.5 -3l2 -3l1.5 -3.5l3 -2.5l0.5 -3.5l1.5 -2l1.5 -2.5l0 -3.5l1 -3l1.5 -3l0 -3l1 -3l1.5 -3.5l0 -3.5l0 -4l2 -2.5l-0.5 -3l1 -3.5l0.5 -3M781.2 677.9l2 2.5l3 1.5l3 3.5l1 1.5l3 2.5l3.5 1.5l3 0.5l2 1l3 1.5l3 1.5M675.9 642.8l2 2.5l2 2.5l2.5 2.5l0.5 2l3 2.5l1.5 2.5l2.5 4l1 2l1.5 2.5l1.5 3.5l1.5 2.5l2.5 3l1.5 3M678.8 598.9l2.5 2.5l-0.5 3.5l3 3l2.5 3l1 2.5l2.5 2l1.5 3.5l3 3.5l2 2.5" fill="none" stroke="#262626" stroke-width="1.35" opacity="0.9" stroke-linejoin="round" stroke-linecap="round"/>
<ellipse cx="709.5" cy="718.9" rx="3" ry="5" fill="#555" stroke="#222" stroke-width="1" transform="rotate(0 709.5 718.9)"/>
<ellipse cx="750.5" cy="714.5" rx="3.2" ry="5" fill="#555" stroke="#222" stroke-width="1" transform="rotate(-10 750.5 714.5)"/>
<path d="M746.5 660.5h0M752.5 638.5h0M700.5 678.5h0M779.5 711.5h0M684.5 573.5h0M770.5 643.5h0M788.5 680.5h0M787.5 611.5h0M760.5 708.5h0M733.5 577.5h0M702.5 667.5h0M679.5 651.5h0M744.5 613.5h0M759.5 630.5h0M784.5 646.5h0M759.5 726.5h0M685.5 705.5h0M782.5 594.5h0M683.5 619.5h0M780.5 670.5h0M719.5 704.5h0M700.5 623.5h0M701.5 621.5h0M681.5 724.5h0M806.5 669.5h0M728.5 688.5h0M806.5 672.5h0M754.5 669.5h0M777.5 685.5h0M752.5 669.5h0M803.5 668.5h0M742.5 642.5h0M805.5 691.5h0M749.5 707.5h0M745.5 573.5h0M781.5 666.5h0M732.5 602.5h0M774.5 628.5h0M808.5 662.5h0M713.5 588.5h0M689.5 604.5h0M761.5 573.5h0M760.5 583.5h0M808.5 575.5h0M786.5 693.5h0M717.5 704.5h0M724.5 605.5h0M684.5 570.5h0M768.5 652.5h0M757.5 705.5h0M678.5 651.5h0M688.5 600.5h0M691.5 593.5h0M734.5 658.5h0M804.5 577.5h0M778.5 694.5h0M808.5 617.5h0M708.5 657.5h0M731.5 660.5h0M693.5 582.5h0M718.5 663.5h0M684.5 723.5h0M685.5 652.5h0M769.5 596.5h0M700.5 696.5h0M710.5 572.5h0M755.5 613.5h0M745.5 575.5h0M784.5 577.5h0M774.5 579.5h0M778.5 664.5h0M747.5 713.5h0M694.5 677.5h0M677.5 591.5h0M776.5 699.5h0M794.5 715.5h0M762.5 675.5h0M784.5 680.5h0M768.5 655.5h0M757.5 597.5h0M759.5 656.5h0M753.5 712.5h0M765.5 614.5h0M786.5 608.5h0M685.5 657.5h0M698.5 573.5h0M692.5 701.5h0M686.5 727.5h0M691.5 713.5h0M784.5 622.5h0M705.5 610.5h0M731.5 686.5h0M764.5 650.5h0M727.5 714.5h0M739.5 721.5h0M766.5 648.5h0M697.5 696.5h0M735.5 611.5h0M797.5 637.5h0M696.5 618.5h0" stroke="#2a2a2a" stroke-width="1.7" stroke-linecap="round" opacity="0.8"/>
<rect x="768" y="720.6" width="39.5" height="2.4" fill="#111"/>
</g>
<rect x="98.5" y="390.5" width="272.0" height="161.0" fill="none" stroke="#3a3a3a" stroke-width="1.0"/>
<rect x="387.0" y="390.5" width="272.5" height="161.0" fill="none" stroke="#3a3a3a" stroke-width="1.0"/>
<rect x="676.5" y="390.5" width="273.0" height="160.5" fill="none" stroke="#3a3a3a" stroke-width="1.0"/>
<rect x="98.5" y="567.5" width="272.0" height="161.5" fill="none" stroke="#3a3a3a" stroke-width="1.0"/>
<rect x="387.0" y="567.5" width="272.5" height="161.5" fill="none" stroke="#3a3a3a" stroke-width="1.0"/>
<rect x="677.5" y="567.0" width="273.0" height="160.5" fill="none" stroke="#3a3a3a" stroke-width="1.0"/>
<text transform="translate(159.53,792.90) scale(1.0023,1)" font-size="22.76" font-weight="bold" fill="#000">1 day</text>
<text transform="translate(474.80,793.00) scale(1.0315,1)" font-size="22.48" font-weight="bold" fill="#000">8 days</text>
<text transform="translate(803.21,793.00) scale(1.0057,1)" font-size="23.03" font-weight="bold" fill="#000">16 days</text>
<polygon points="84.2,1030.5 95.4,965.0 106.6,936.2 117.8,916.5 129.1,904.8 140.3,901.6 151.5,908.7 162.7,923.1 173.9,940.1 185.1,958.5 196.3,978.6 207.6,999.1 218.8,1016.1 230.0,1025.8 241.2,1028.9 252.4,1029.7 263.6,1030.5 263.6,1031.5 252.4,1031.5 241.2,1031.0 230.0,1028.1 218.8,1019.0 207.6,1002.9 196.3,983.7 185.1,964.7 173.9,947.4 162.7,931.4 151.5,917.8 140.3,911.2 129.1,914.1 117.8,925.2 106.6,943.7 95.4,970.8 84.2,1031.5" fill="#8c8c8c" stroke="none"/>
<polyline points="84.2,1031.5 95.4,967.9 106.6,940.0 117.8,920.9 129.1,909.4 140.3,906.4 151.5,913.3 162.7,927.2 173.9,943.8 185.1,961.6 196.3,981.1 207.6,1001.0 218.8,1017.5 230.0,1026.9 241.2,1030.0 252.4,1030.7 263.6,1031.5" fill="none" stroke="#111" stroke-width="2.6" stroke-linejoin="round"/>
<polygon points="84.2,1029.5 95.4,958.1 106.6,930.3 117.8,905.7 129.1,904.6 140.3,908.9 151.5,915.7 162.7,931.6 173.9,952.8 185.1,968.6 196.3,988.5 207.6,1004.3 218.8,1018.4 230.0,1024.7 241.2,1026.8 252.4,1028.4 263.6,1028.9 263.6,1031.5 252.4,1031.5 241.2,1031.1 230.0,1029.1 218.8,1023.3 207.6,1010.3 196.3,995.7 185.1,977.4 173.9,962.7 162.7,943.2 151.5,928.6 140.3,922.2 129.1,918.3 117.8,919.3 106.6,942.0 95.4,967.6 84.2,1031.5" fill="#d2d2d2" stroke="none"/>
<polyline points="84.2,1031.5 95.4,962.8 106.6,936.1 117.8,912.5 129.1,911.5 140.3,915.5 151.5,922.2 162.7,937.4 173.9,957.8 185.1,973.0 196.3,992.1 207.6,1007.3 218.8,1020.8 230.0,1026.9 241.2,1029.0 252.4,1030.5 263.6,1031.0" fill="none" stroke="#111" stroke-width="3.0" stroke-dasharray="7 5" stroke-linejoin="round"/>
<path d="M84.2 828.1V1031.5H308.5" fill="none" stroke="#333" stroke-width="1.2"/>
<path d="M81.0 1031.5H84.2M81.0 980.6H84.2M81.0 929.8H84.2M81.0 878.9H84.2M81.0 828.1H84.2M84.2 1031.5V1035.0M140.3 1031.5V1035.0M196.3 1031.5V1035.0M252.4 1031.5V1035.0M308.5 1031.5V1035.0" stroke="#333" stroke-width="1.2"/>
<text transform="translate(65.32,1038.40) scale(1.0000,1)" font-size="24.00" font-weight="normal" fill="#111">0</text>
<text transform="translate(65.68,987.54) scale(1.0000,1)" font-size="24.00" font-weight="normal" fill="#111">2</text>
<text transform="translate(65.02,936.68) scale(1.0000,1)" font-size="24.35" font-weight="normal" fill="#111">4</text>
<text transform="translate(65.44,885.82) scale(1.0000,1)" font-size="24.00" font-weight="normal" fill="#111">6</text>
<text transform="translate(65.44,834.96) scale(1.0000,1)" font-size="24.00" font-weight="normal" fill="#111">8</text>
<text transform="translate(77.40,1057.40) scale(1.0000,1)" font-size="24.29" font-weight="normal" fill="#111">0</text>
<text transform="translate(126.74,1057.40) scale(1.0000,1)" font-size="24.29" font-weight="normal" fill="#111">50</text>
<text transform="translate(175.65,1057.40) scale(1.0000,1)" font-size="24.29" font-weight="normal" fill="#111">100</text>
<text transform="translate(231.72,1057.40) scale(1.0000,1)" font-size="24.29" font-weight="normal" fill="#111">150</text>
<text transform="translate(288.10,1057.40) scale(1.0000,1)" font-size="24.29" font-weight="normal" fill="#111">200</text>
<path d="M220.3 830.3h7.6M234.2 830.3h7.6" stroke="#111" stroke-width="3"/>
<path d="M220.3 858.1h21.4" stroke="#111" stroke-width="3"/>
<text transform="translate(253.84,837.50) scale(0.9966,1)" font-size="23.29" font-weight="normal" fill="#111">CON</text>
<text transform="translate(253.92,865.50) scale(1.0046,1)" font-size="23.33" font-weight="normal" fill="#111">MPTP</text>
<text transform="translate(54.80,1044.55) rotate(-90) scale(1.0193,1)" font-size="20.28" font-weight="normal" fill="#111">No. of crossing dendrites</text>
<text transform="translate(100.05,1082.90) scale(1.0704,1)" font-size="19.31" font-weight="normal" fill="#111">Radial distance from</text>
<text transform="translate(127.99,1107.70) scale(1.0314,1)" font-size="19.86" font-weight="normal" fill="#111">the soma (μm)</text>
<polygon points="406.6,1030.5 417.8,959.8 429.0,932.3 440.2,908.7 451.5,898.2 462.7,889.0 473.9,899.5 485.1,912.6 496.3,928.3 507.5,948.0 518.8,967.6 530.0,988.6 541.2,1008.2 552.4,1020.5 563.6,1027.1 574.8,1029.4 586.0,1030.5 586.0,1031.5 574.8,1031.5 563.6,1029.3 552.4,1023.1 541.2,1011.6 530.0,993.0 518.8,973.3 507.5,954.8 496.3,936.3 485.1,921.5 473.9,909.2 462.7,899.3 451.5,907.9 440.2,917.8 429.0,940.0 417.8,965.9 406.6,1031.5" fill="#8c8c8c" stroke="none"/>
<polyline points="406.6,1031.5 417.8,962.8 429.0,936.1 440.2,913.3 451.5,903.1 462.7,894.2 473.9,904.4 485.1,917.1 496.3,932.3 507.5,951.4 518.8,970.5 530.0,990.8 541.2,1009.9 552.4,1021.8 563.6,1028.2 574.8,1030.5 586.0,1031.5" fill="none" stroke="#111" stroke-width="2.6" stroke-linejoin="round"/>
<polygon points="406.6,1029.5 417.8,944.8 429.0,913.1 440.2,890.1 451.5,888.0 462.7,894.6 473.9,904.6 485.1,917.1 496.3,934.3 507.5,953.3 518.8,977.9 530.0,999.1 541.2,1015.7 552.4,1024.7 563.6,1027.3 574.8,1027.9 586.0,1028.9 586.0,1031.5 574.8,1031.5 563.6,1031.5 552.4,1029.1 541.2,1020.8 530.0,1005.5 518.8,985.9 507.5,963.2 496.3,945.6 485.1,929.8 473.9,918.3 462.7,909.0 451.5,902.9 440.2,904.9 429.0,926.1 417.8,955.4 406.6,1031.5" fill="#d2d2d2" stroke="none"/>
<polyline points="406.6,1031.5 417.8,950.1 429.0,919.6 440.2,897.5 451.5,895.4 462.7,901.8 473.9,911.5 485.1,923.4 496.3,940.0 507.5,958.3 518.8,981.9 530.0,1002.3 541.2,1018.3 552.4,1026.9 563.6,1029.5 574.8,1030.0 586.0,1031.0" fill="none" stroke="#111" stroke-width="3.0" stroke-dasharray="7 5" stroke-linejoin="round"/>
<path d="M406.6 828.1V1031.5H630.9" fill="none" stroke="#333" stroke-width="1.2"/>
<path d="M403.4 1031.5H406.6M403.4 980.6H406.6M403.4 929.8H406.6M403.4 878.9H406.6M403.4 828.1H406.6M406.6 1031.5V1035.0M462.7 1031.5V1035.0M518.8 1031.5V1035.0M574.8 1031.5V1035.0M630.9 1031.5V1035.0" stroke="#333" stroke-width="1.2"/>
<text transform="translate(387.72,1038.40) scale(1.0000,1)" font-size="24.00" font-weight="normal" fill="#111">0</text>
<text transform="translate(388.08,987.54) scale(1.0000,1)" font-size="24.00" font-weight="normal" fill="#111">2</text>
<text transform="translate(387.42,936.68) scale(1.0000,1)" font-size="24.35" font-weight="normal" fill="#111">4</text>
<text transform="translate(387.84,885.82) scale(1.0000,1)" font-size="24.00" font-weight="normal" fill="#111">6</text>
<text transform="translate(387.84,834.96) scale(1.0000,1)" font-size="24.00" font-weight="normal" fill="#111">8</text>
<text transform="translate(399.80,1057.40) scale(1.0000,1)" font-size="24.29" font-weight="normal" fill="#111">0</text>
<text transform="translate(449.14,1057.40) scale(1.0000,1)" font-size="24.29" font-weight="normal" fill="#111">50</text>
<text transform="translate(498.05,1057.40) scale(1.0000,1)" font-size="24.29" font-weight="normal" fill="#111">100</text>
<text transform="translate(554.12,1057.40) scale(1.0000,1)" font-size="24.29" font-weight="normal" fill="#111">150</text>
<text transform="translate(610.50,1057.40) scale(1.0000,1)" font-size="24.29" font-weight="normal" fill="#111">200</text>
<path d="M545.8 828.3h7.6M559.7 828.3h7.6" stroke="#111" stroke-width="3"/>
<path d="M545.8 856.6h21.4" stroke="#111" stroke-width="3"/>
<text transform="translate(579.34,835.50) scale(0.9966,1)" font-size="23.29" font-weight="normal" fill="#111">CON</text>
<text transform="translate(579.42,864.00) scale(1.0046,1)" font-size="23.33" font-weight="normal" fill="#111">MPTP</text>
<text transform="translate(377.20,1044.55) rotate(-90) scale(1.0193,1)" font-size="20.28" font-weight="normal" fill="#111">No. of crossing dendrites</text>
<text transform="translate(422.45,1082.90) scale(1.0704,1)" font-size="19.31" font-weight="normal" fill="#111">Radial distance from</text>
<text transform="translate(450.39,1107.70) scale(1.0314,1)" font-size="19.86" font-weight="normal" fill="#111">the soma (μm)</text>
<polygon points="732.8,1030.5 744.0,952.7 755.2,920.5 766.4,896.9 777.7,888.3 788.9,885.1 800.1,905.5 811.3,919.1 822.5,941.9 833.7,964.8 844.9,984.1 856.2,1003.7 867.4,1017.1 878.6,1023.2 889.8,1027.8 901.0,1029.7 912.2,1030.5 912.2,1031.5 901.0,1031.5 889.8,1030.1 878.6,1026.0 867.4,1020.5 856.2,1008.5 844.9,990.9 833.7,973.6 822.5,953.2 811.3,932.8 800.1,920.5 788.9,902.3 777.7,905.2 766.4,912.8 755.2,934.0 744.0,962.8 732.8,1031.5" fill="#8c8c8c" stroke="none"/>
<polyline points="732.8,1031.5 744.0,957.8 755.2,927.2 766.4,904.9 777.7,896.7 788.9,893.7 800.1,913.0 811.3,926.0 822.5,947.6 833.7,969.2 844.9,987.5 856.2,1006.1 867.4,1018.8 878.6,1024.6 889.8,1029.0 901.0,1030.7 912.2,1031.5" fill="none" stroke="#111" stroke-width="2.6" stroke-linejoin="round"/>
<polygon points="732.8,1029.5 744.0,952.2 755.2,921.0 766.4,887.2 777.7,864.2 788.9,870.8 800.1,882.7 811.3,907.8 822.5,932.9 833.7,955.9 844.9,983.7 856.2,1003.0 867.4,1015.7 878.6,1022.1 889.8,1026.3 901.0,1028.7 912.2,1028.9 912.2,1031.5 901.0,1031.5 889.8,1030.6 878.6,1026.7 867.4,1020.8 856.2,1009.1 844.9,991.3 833.7,965.7 822.5,944.4 811.3,921.2 800.1,898.0 788.9,887.1 777.7,881.0 766.4,902.2 755.2,933.4 744.0,962.2 732.8,1031.5" fill="#d2d2d2" stroke="none"/>
<polyline points="732.8,1031.5 744.0,957.2 755.2,927.2 766.4,894.7 777.7,872.6 788.9,878.9 800.1,890.4 811.3,914.5 822.5,938.7 833.7,960.8 844.9,987.5 856.2,1006.1 867.4,1018.3 878.6,1024.4 889.8,1028.4 901.0,1030.7 912.2,1031.0" fill="none" stroke="#111" stroke-width="3.0" stroke-dasharray="7 5" stroke-linejoin="round"/>
<path d="M732.8 828.1V1031.5H957.1" fill="none" stroke="#333" stroke-width="1.2"/>
<path d="M729.6 1031.5H732.8M729.6 980.6H732.8M729.6 929.8H732.8M729.6 878.9H732.8M729.6 828.1H732.8M732.8 1031.5V1035.0M788.9 1031.5V1035.0M844.9 1031.5V1035.0M901.0 1031.5V1035.0M957.1 1031.5V1035.0" stroke="#333" stroke-width="1.2"/>
<text transform="translate(713.92,1038.40) scale(1.0000,1)" font-size="24.00" font-weight="normal" fill="#111">0</text>
<text transform="translate(714.28,987.54) scale(1.0000,1)" font-size="24.00" font-weight="normal" fill="#111">2</text>
<text transform="translate(713.62,936.68) scale(1.0000,1)" font-size="24.35" font-weight="normal" fill="#111">4</text>
<text transform="translate(714.04,885.82) scale(1.0000,1)" font-size="24.00" font-weight="normal" fill="#111">6</text>
<text transform="translate(714.04,834.96) scale(1.0000,1)" font-size="24.00" font-weight="normal" fill="#111">8</text>
<text transform="translate(726.00,1057.40) scale(1.0000,1)" font-size="24.29" font-weight="normal" fill="#111">0</text>
<text transform="translate(775.34,1057.40) scale(1.0000,1)" font-size="24.29" font-weight="normal" fill="#111">50</text>
<text transform="translate(824.25,1057.40) scale(1.0000,1)" font-size="24.29" font-weight="normal" fill="#111">100</text>
<text transform="translate(880.32,1057.40) scale(1.0000,1)" font-size="24.29" font-weight="normal" fill="#111">150</text>
<text transform="translate(936.70,1057.40) scale(1.0000,1)" font-size="24.29" font-weight="normal" fill="#111">200</text>
<path d="M872.0 831.8h7.6M885.9 831.8h7.6" stroke="#111" stroke-width="3"/>
<path d="M872.0 858.5h21.4" stroke="#111" stroke-width="3"/>
<text transform="translate(905.54,839.00) scale(0.9966,1)" font-size="23.29" font-weight="normal" fill="#111">CON</text>
<text transform="translate(905.62,865.90) scale(1.0046,1)" font-size="23.33" font-weight="normal" fill="#111">MPTP</text>
<text transform="translate(703.40,1044.55) rotate(-90) scale(1.0193,1)" font-size="20.28" font-weight="normal" fill="#111">No. of crossing dendrites</text>
<text transform="translate(748.65,1082.90) scale(1.0704,1)" font-size="19.31" font-weight="normal" fill="#111">Radial distance from</text>
<text transform="translate(776.59,1107.70) scale(1.0314,1)" font-size="19.86" font-weight="normal" fill="#111">the soma (μm)</text>
<rect x="148.1" y="1312.0" width="35.5" height="110.4" fill="#fff" stroke="#000" stroke-width="1.7"/>
<rect x="191.7" y="1308.8" width="36.1" height="113.6" fill="url(#chk)" stroke="#000" stroke-width="1.7"/>
<rect x="254.7" y="1295.9" width="35.4" height="126.5" fill="#fff" stroke="#000" stroke-width="1.7"/>
<rect x="298.6" y="1294.9" width="35.8" height="127.5" fill="url(#chk)" stroke="#000" stroke-width="1.7"/>
<rect x="361.5" y="1290.0" width="35.2" height="132.4" fill="#fff" stroke="#000" stroke-width="1.7"/>
<rect x="405.1" y="1303.0" width="35.2" height="119.4" fill="url(#chk)" stroke="#000" stroke-width="1.7"/>
<g fill="none" stroke="#000" stroke-width="1.6"><circle cx="149.7" cy="1305.2" r="3.5"/><circle cx="149.7" cy="1317.2" r="3.5"/><circle cx="160.0" cy="1310.7" r="3.5"/><circle cx="171.3" cy="1302.0" r="3.5"/><circle cx="171.3" cy="1317.2" r="3.5"/><circle cx="181.3" cy="1311.7" r="3.5"/><circle cx="193.3" cy="1293.9" r="3.5"/><circle cx="209.4" cy="1297.1" r="3.5"/><circle cx="225.6" cy="1300.4" r="3.5"/><circle cx="209.4" cy="1307.8" r="3.5"/><circle cx="201.3" cy="1323.0" r="3.5"/><circle cx="217.5" cy="1320.7" r="3.5"/><circle cx="264.3" cy="1277.8" r="3.5"/><circle cx="280.5" cy="1278.7" r="3.5"/><circle cx="272.4" cy="1291.6" r="3.5"/><circle cx="272.4" cy="1303.0" r="3.5"/><circle cx="256.2" cy="1310.0" r="3.5"/><circle cx="288.5" cy="1305.2" r="3.5"/><circle cx="316.0" cy="1264.8" r="3.5"/><circle cx="316.0" cy="1284.2" r="3.5"/><circle cx="299.8" cy="1298.1" r="3.5"/><circle cx="316.0" cy="1298.7" r="3.5"/><circle cx="332.1" cy="1298.1" r="3.5"/><circle cx="316.0" cy="1318.1" r="3.5"/><circle cx="362.8" cy="1284.2" r="3.5"/><circle cx="362.8" cy="1300.4" r="3.5"/><circle cx="379.0" cy="1288.1" r="3.5"/><circle cx="395.1" cy="1277.8" r="3.5"/><circle cx="395.1" cy="1285.8" r="3.5"/><circle cx="395.1" cy="1293.3" r="3.5"/><circle cx="406.4" cy="1295.5" r="3.5"/><circle cx="422.5" cy="1285.8" r="3.5"/><circle cx="417.7" cy="1299.4" r="3.5"/><circle cx="427.4" cy="1300.4" r="3.5"/><circle cx="438.7" cy="1299.4" r="3.5"/><circle cx="422.5" cy="1322.3" r="3.5"/></g>
<path d="M165.9 1307.5V1314.5M162.4 1307.5h7M162.4 1314.5h7" stroke="#000" stroke-width="1.6" fill="none"/>
<path d="M209.7 1301.5V1314.0M206.2 1301.5h7M206.2 1314.0h7" stroke="#000" stroke-width="1.6" fill="none"/>
<path d="M272.4 1288.5V1301.0M268.9 1288.5h7M268.9 1301.0h7" stroke="#000" stroke-width="1.6" fill="none"/>
<path d="M316.5 1285.5V1302.0M313.0 1285.5h7M313.0 1302.0h7" stroke="#000" stroke-width="1.6" fill="none"/>
<path d="M379.1 1286.0V1292.0M375.6 1286.0h7M375.6 1292.0h7" stroke="#000" stroke-width="1.6" fill="none"/>
<path d="M422.7 1297.0V1307.0M419.2 1297.0h7M419.2 1307.0h7" stroke="#000" stroke-width="1.6" fill="none"/>
<path d="M125.8 1182.4V1422.4M116.5 1422.4H462.3" stroke="#000" stroke-width="2.2" fill="none"/>
<path d="M116.5 1422.4H125.8M116.5 1362.4H125.8M116.5 1302.4H125.8M116.5 1242.4H125.8M116.5 1182.4H125.8M187.4 1422.4V1431.5M294.8 1422.4V1431.5M400.2 1422.4V1431.5" stroke="#000" stroke-width="2.2"/>
<text transform="translate(97.99,1431.80) scale(1.0000,1)" font-size="27.14" font-weight="normal" fill="#111">0</text>
<text transform="translate(67.86,1371.80) scale(1.0000,1)" font-size="27.14" font-weight="normal" fill="#111">200</text>
<text transform="translate(67.86,1311.80) scale(1.0000,1)" font-size="27.14" font-weight="normal" fill="#111">400</text>
<text transform="translate(67.86,1251.80) scale(1.0000,1)" font-size="27.14" font-weight="normal" fill="#111">600</text>
<text transform="translate(67.86,1191.80) scale(1.0000,1)" font-size="27.14" font-weight="normal" fill="#111">800</text>
<text transform="translate(179.77,1458.30) scale(1.0000,1)" font-size="26.09" font-weight="normal" fill="#111">1</text>
<text transform="translate(287.60,1458.30) scale(1.0000,1)" font-size="25.71" font-weight="normal" fill="#111">8</text>
<text transform="translate(385.48,1458.30) scale(1.0000,1)" font-size="25.71" font-weight="normal" fill="#111">16</text>
<text transform="translate(200.35,1486.30) scale(0.9963,1)" font-size="23.17" font-weight="normal" fill="#111">Days after injection</text>
<text transform="translate(50.20,1421.23) rotate(-90) scale(1.0784,1)" font-size="19.72" font-weight="normal" fill="#111">Total dendric length (μm)</text>
<rect x="144.5" y="1172.2" width="23" height="17" fill="#fff" stroke="#000" stroke-width="2"/>
<rect x="144.5" y="1199.7" width="23" height="17.7" fill="url(#chk)" stroke="#000" stroke-width="2"/>
<text transform="translate(183.26,1189.10) scale(1.0478,1)" font-size="25.57" font-weight="normal" fill="#111">CON</text>
<text transform="translate(182.58,1216.70) scale(1.0894,1)" font-size="25.51" font-weight="normal" fill="#111">MPTP</text>
<rect x="595.7" y="1291.1" width="35.8" height="131.5" fill="#fff" stroke="#000" stroke-width="1.7"/>
<rect x="638.6" y="1287.8" width="36.8" height="134.8" fill="url(#chk)" stroke="#000" stroke-width="1.7"/>
<rect x="702.2" y="1261.0" width="35.8" height="161.6" fill="#fff" stroke="#000" stroke-width="1.7"/>
<rect x="745.8" y="1289.1" width="35.8" height="133.5" fill="url(#chk)" stroke="#000" stroke-width="1.7"/>
<rect x="808.2" y="1258.5" width="36.1" height="164.1" fill="#fff" stroke="#000" stroke-width="1.7"/>
<rect x="852.4" y="1284.6" width="35.8" height="138.0" fill="url(#chk)" stroke="#000" stroke-width="1.7"/>
<g fill="none" stroke="#000" stroke-width="1.6"><circle cx="613.4" cy="1247.8" r="3.5"/><circle cx="606.0" cy="1278.5" r="3.5"/><circle cx="620.5" cy="1283.6" r="3.5"/><circle cx="613.4" cy="1299.8" r="3.5"/><circle cx="613.4" cy="1307.5" r="3.5"/><circle cx="613.4" cy="1319.8" r="3.5"/><circle cx="656.7" cy="1238.1" r="3.5"/><circle cx="656.7" cy="1276.2" r="3.5"/><circle cx="640.5" cy="1293.3" r="3.5"/><circle cx="656.7" cy="1297.8" r="3.5"/><circle cx="672.8" cy="1295.6" r="3.5"/><circle cx="656.7" cy="1314.3" r="3.5"/><circle cx="703.8" cy="1240.7" r="3.5"/><circle cx="720.0" cy="1240.7" r="3.5"/><circle cx="736.1" cy="1240.7" r="3.5"/><circle cx="720.0" cy="1256.8" r="3.5"/><circle cx="720.0" cy="1273.9" r="3.5"/><circle cx="720.0" cy="1305.3" r="3.5"/><circle cx="756.1" cy="1271.3" r="3.5"/><circle cx="770.7" cy="1271.3" r="3.5"/><circle cx="763.2" cy="1283.6" r="3.5"/><circle cx="756.1" cy="1293.3" r="3.5"/><circle cx="770.7" cy="1297.8" r="3.5"/><circle cx="763.2" cy="1310.1" r="3.5"/><circle cx="826.5" cy="1219.0" r="3.5"/><circle cx="811.0" cy="1254.2" r="3.5"/><circle cx="826.5" cy="1256.8" r="3.5"/><circle cx="842.7" cy="1261.7" r="3.5"/><circle cx="826.5" cy="1267.2" r="3.5"/><circle cx="826.5" cy="1281.0" r="3.5"/><circle cx="869.8" cy="1250.4" r="3.5"/><circle cx="862.7" cy="1271.3" r="3.5"/><circle cx="877.2" cy="1278.5" r="3.5"/><circle cx="869.8" cy="1290.7" r="3.5"/><circle cx="862.7" cy="1303.0" r="3.5"/><circle cx="877.2" cy="1303.0" r="3.5"/></g>
<path d="M613.6 1278.5V1300.0M610.1 1278.5h7M610.1 1300.0h7" stroke="#000" stroke-width="1.6" fill="none"/>
<path d="M657.0 1274.6V1298.0M653.5 1274.6h7M653.5 1298.0h7" stroke="#000" stroke-width="1.6" fill="none"/>
<path d="M720.1 1248.7V1269.7M716.6 1248.7h7M716.6 1269.7h7" stroke="#000" stroke-width="1.6" fill="none"/>
<path d="M763.7 1281.7V1294.0M760.2 1281.7h7M760.2 1294.0h7" stroke="#000" stroke-width="1.6" fill="none"/>
<path d="M826.2 1248.1V1266.0M822.7 1248.1h7M822.7 1266.0h7" stroke="#000" stroke-width="1.6" fill="none"/>
<path d="M870.3 1274.6V1292.0M866.8 1274.6h7M866.8 1292.0h7" stroke="#000" stroke-width="1.6" fill="none"/>
<path d="M573.5 1182.2V1422.6M563.6 1422.6H909.4" stroke="#000" stroke-width="2.2" fill="none"/>
<path d="M563.4 1422.6H573.5M563.4 1374.5H573.5M563.4 1326.4H573.5M563.4 1278.4H573.5M563.4 1230.3H573.5M563.4 1182.2H573.5M634.5 1422.6V1431.8M741.6 1422.6V1431.8M848.8 1422.6V1431.8" stroke="#000" stroke-width="2.2"/>
<text transform="translate(545.30,1431.35) scale(1.1000,1)" font-size="25.00" font-weight="normal" fill="#111">0</text>
<text transform="translate(545.71,1383.27) scale(1.1000,1)" font-size="25.00" font-weight="normal" fill="#111">2</text>
<text transform="translate(544.95,1335.19) scale(1.1000,1)" font-size="25.36" font-weight="normal" fill="#111">4</text>
<text transform="translate(545.44,1287.11) scale(1.1000,1)" font-size="25.00" font-weight="normal" fill="#111">6</text>
<text transform="translate(545.44,1239.03) scale(1.1000,1)" font-size="25.00" font-weight="normal" fill="#111">8</text>
<text transform="translate(530.04,1190.95) scale(1.1000,1)" font-size="25.00" font-weight="normal" fill="#111">10</text>
<text transform="translate(625.71,1459.00) scale(1.1500,1)" font-size="24.64" font-weight="normal" fill="#111">1</text>
<text transform="translate(733.48,1459.00) scale(1.1500,1)" font-size="24.29" font-weight="normal" fill="#111">8</text>
<text transform="translate(831.91,1459.00) scale(1.1500,1)" font-size="24.29" font-weight="normal" fill="#111">16</text>
<text transform="translate(640.93,1486.60) scale(1.0193,1)" font-size="22.90" font-weight="normal" fill="#111">Days after injection</text>
<text transform="translate(517.70,1412.36) rotate(-90) scale(0.9838,1)" font-size="23.59" font-weight="normal" fill="#111">Branch points/neuron</text>
<rect x="597.3" y="1172.7" width="22.2" height="17" fill="#fff" stroke="#000" stroke-width="2"/>
<rect x="597.3" y="1200.8" width="22.2" height="16.7" fill="url(#chk)" stroke="#000" stroke-width="2"/>
<text transform="translate(635.24,1189.30) scale(1.0847,1)" font-size="25.14" font-weight="normal" fill="#111">CON</text>
<text transform="translate(634.77,1217.10) scale(1.1513,1)" font-size="24.20" font-weight="normal" fill="#111">MPTP</text>
</svg></body></html>
